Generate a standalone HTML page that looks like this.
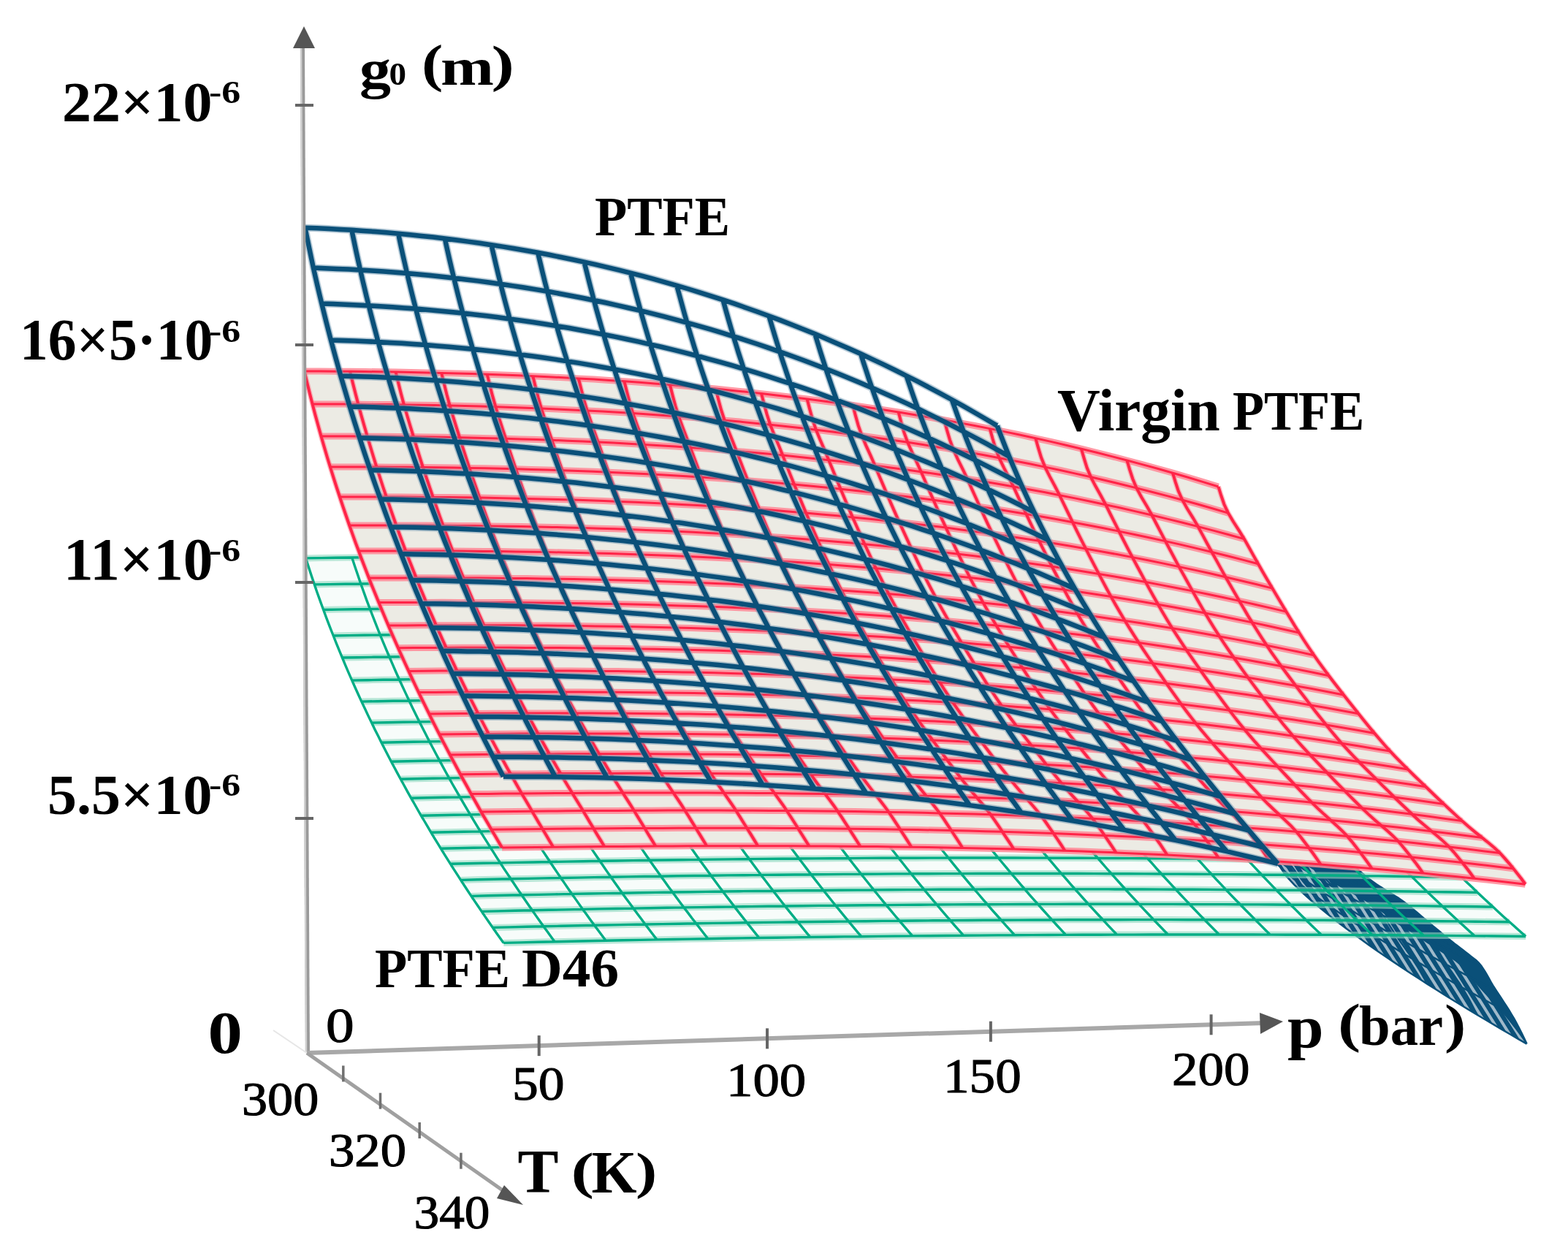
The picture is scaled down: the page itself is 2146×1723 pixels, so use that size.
<!DOCTYPE html>
<html><head><meta charset="utf-8"><title>g0 surfaces</title>
<style>html,body{margin:0;padding:0;background:#fff;} svg{display:block;}</style></head>
<body>
<svg xmlns="http://www.w3.org/2000/svg" width="2146" height="1723" viewBox="0 0 2146 1723">
<rect width="2146" height="1723" fill="#fff"/>
<path d="M418.4 763.9 439.5 763.6 460.6 763.3 481.7 763.0 502.8 762.8 523.9 762.6 544.9 762.4 566.0 762.2 587.1 762.1 608.2 762.0 629.3 761.9 650.4 761.9 671.4 761.9 692.5 761.9 713.6 761.9 734.7 762.0 755.8 762.1 776.9 762.2 797.9 762.3 819.0 762.5 840.1 762.7 861.2 763.0 882.3 763.2 903.4 763.5 924.4 763.8 945.5 764.1 966.6 764.5 987.7 764.9 1008.8 765.3 1029.9 765.8 1050.9 766.2 1072.0 766.7 1093.1 767.3 1114.2 767.8 1135.3 768.4 1156.4 769.0 1177.4 769.6 1198.5 770.3 1219.6 771.0 1240.7 771.7 1261.8 772.5 1282.9 773.2 1303.9 774.0 1325.0 774.9 1346.1 775.7 1367.2 776.6 1388.3 777.5 1409.4 778.4 1430.4 779.4 1451.5 780.4 1472.6 781.4 1493.7 782.4 1514.8 783.5 1535.9 784.6 1556.9 785.7 1578.0 786.9 1599.1 788.1 1620.2 789.3 1641.3 790.5 1662.4 791.8 1683.4 793.1 1683.4 793.1 1689.5 804.5 1695.4 815.4 1701.2 826.0 1707.0 836.4 1713.1 846.8 1719.5 857.6 1726.3 868.6 1733.2 879.6 1739.8 890.1 1746.0 899.7 1752.0 908.7 1758.1 917.8 1764.6 927.2 1771.3 936.9 1778.0 946.4 1784.6 955.5 1791.1 964.3 1797.7 973.2 1804.5 982.2 1811.4 991.2 1818.3 1000.0 1825.0 1008.6 1831.6 1016.9 1838.3 1025.1 1845.0 1033.3 1851.8 1041.5 1858.3 1049.3 1864.7 1056.8 1871.0 1064.1 1877.5 1071.7 1884.6 1079.7 1891.8 1087.8 1899.1 1095.9 1906.1 1103.6 1912.9 1111.0 1919.6 1118.3 1926.4 1125.5 1933.2 1132.7 1939.9 1139.8 1946.7 1146.8 1953.4 1153.7 1959.9 1160.4 1966.4 1167.0 1972.9 1173.5 1979.5 1180.1 1986.4 1186.9 1993.4 1193.8 2000.6 1200.8 2007.8 1207.7 2015.1 1214.6 2022.2 1221.4 2029.2 1228.0 2036.2 1234.5 2043.3 1241.1 2050.7 1247.9 2058.3 1254.9 2066.0 1261.8 2073.6 1268.6 2081.1 1275.2 2088.2 1281.5 2088.2 1281.5 2064.9 1281.3 2041.5 1281.0 2018.2 1280.8 1994.9 1280.6 1971.6 1280.4 1948.3 1280.2 1925.0 1280.0 1901.6 1279.8 1878.3 1279.7 1855.0 1279.6 1831.7 1279.4 1808.4 1279.3 1785.1 1279.2 1761.7 1279.2 1738.4 1279.1 1715.1 1279.0 1691.8 1279.0 1668.5 1279.0 1645.2 1279.0 1621.8 1279.0 1598.5 1279.0 1575.2 1279.0 1551.9 1279.1 1528.6 1279.1 1505.3 1279.2 1481.9 1279.3 1458.6 1279.4 1435.3 1279.5 1412.0 1279.6 1388.7 1279.8 1365.4 1279.9 1342.0 1280.1 1318.7 1280.3 1295.4 1280.5 1272.1 1280.7 1248.8 1280.9 1225.5 1281.1 1202.1 1281.4 1178.8 1281.7 1155.5 1281.9 1132.2 1282.2 1108.9 1282.5 1085.6 1282.9 1062.2 1283.2 1038.9 1283.5 1015.6 1283.9 992.3 1284.3 969.0 1284.7 945.7 1285.1 922.3 1285.5 899.0 1285.9 875.7 1286.4 852.4 1286.8 829.1 1287.3 805.8 1287.8 782.4 1288.3 759.1 1288.8 735.8 1289.3 712.5 1289.9 689.2 1290.4 689.2 1290.4 684.4 1283.7 679.4 1276.7 674.4 1269.4 669.2 1262.0 664.1 1254.6 659.2 1247.4 654.4 1240.3 649.7 1233.4 645.0 1226.4 640.3 1219.2 635.4 1211.8 630.6 1204.4 625.8 1196.9 621.1 1189.6 616.5 1182.3 612.1 1175.3 607.7 1168.3 603.4 1161.3 599.0 1154.1 594.5 1146.8 590.0 1139.3 585.5 1131.7 581.0 1124.0 576.4 1116.3 571.9 1108.5 567.4 1100.5 562.7 1092.3 557.8 1083.6 553.0 1074.8 548.3 1066.2 543.9 1058.1 539.7 1050.2 535.4 1042.2 531.0 1033.8 526.5 1025.0 522.0 1016.2 517.6 1007.3 513.1 998.4 508.6 989.1 504.0 979.6 499.4 969.8 494.8 960.1 490.4 950.5 486.1 941.0 481.7 931.1 477.2 920.8 472.7 910.3 468.4 900.0 464.3 890.2 460.3 880.4 456.2 870.0 451.7 858.6 447.1 846.6 442.6 834.5 438.3 822.7 434.2 811.3 430.3 799.9 426.4 788.4 422.5 776.4 418.4 763.9Z" fill="#f7fcfa"/>
<defs><pattern id="hatch" width="10" height="10" patternUnits="userSpaceOnUse" patternTransform="rotate(-32)"><rect x="0" y="0" width="4" height="10" fill="#b9cbd8"/></pattern><clipPath id="tailclip"><path d="M1364.7 582.6 1369.4 598.0 1374.3 609.3 1379.2 619.5 1384.1 629.0 1389.1 638.1 1394.0 646.7 1399.0 655.1 1403.9 663.3 1408.9 671.2 1413.9 678.9 1418.8 686.5 1423.8 694.0 1428.8 701.3 1433.7 708.6 1438.7 715.7 1443.7 722.7 1448.7 729.6 1453.6 736.4 1458.6 743.2 1463.6 749.9 1468.6 756.5 1473.5 763.1 1478.5 769.6 1483.5 776.0 1488.5 782.4 1493.5 788.8 1498.4 795.0 1503.4 801.3 1508.4 807.5 1513.3 813.6 1518.3 819.7 1523.3 825.8 1528.3 831.8 1533.2 837.8 1538.2 843.8 1543.2 849.7 1548.1 855.6 1553.1 861.4 1558.1 867.2 1563.0 873.0 1568.0 878.8 1573.0 884.5 1577.9 890.2 1582.9 895.9 1587.8 901.5 1592.8 907.2 1597.8 912.8 1602.7 918.3 1607.7 923.9 1612.6 929.4 1617.6 934.9 1622.5 940.4 1627.5 945.9 1632.4 951.3 1637.4 956.7 1642.3 962.1 1647.3 967.5 1652.2 972.9 1657.1 978.2 1662.1 983.5 1662.1 983.5 1668.6 992.1 1674.8 1000.1 1680.8 1007.9 1686.9 1015.5 1693.0 1022.9 1699.2 1030.5 1705.8 1038.1 1712.6 1045.9 1719.6 1053.7 1726.9 1061.6 1734.2 1069.4 1741.2 1077.0 1747.9 1084.1 1754.4 1091.0 1761.0 1097.9 1767.9 1104.9 1775.0 1112.1 1782.5 1119.4 1790.2 1126.8 1798.0 1134.2 1805.7 1141.4 1813.2 1148.5 1820.6 1155.4 1827.9 1162.2 1835.3 1168.9 1842.7 1175.6 1850.0 1182.2 1857.5 1188.8 1864.9 1195.4 1872.5 1201.8 1880.2 1207.5 1887.9 1212.7 1895.4 1217.5 1902.5 1221.8 1909.5 1226.2 1916.5 1230.8 1923.8 1236.0 1931.3 1241.9 1938.8 1248.2 1946.3 1254.6 1953.7 1260.8 1961.1 1267.1 1968.5 1273.3 1975.8 1279.4 1983.3 1285.4 1990.8 1291.4 1998.4 1297.2 2005.8 1303.0 2013.1 1308.7 2020.3 1314.3 2027.3 1321.7 2034.1 1332.4 2040.9 1344.5 2047.8 1355.7 2054.8 1366.3 2061.8 1377.0 2068.8 1388.3 2075.8 1400.5 2082.7 1414.1 2089.6 1428.6 2089.6 1428.6 2083.9 1425.4 2078.2 1422.1 2072.6 1418.8 2066.9 1415.5 2061.2 1412.2 2055.5 1408.9 2049.9 1405.6 2044.2 1402.2 2038.5 1398.9 2032.9 1395.5 2027.2 1392.1 2021.5 1388.7 2015.8 1385.3 2010.2 1381.9 2004.5 1378.4 1998.8 1375.0 1993.1 1371.5 1987.4 1368.0 1981.8 1364.5 1976.1 1360.9 1970.4 1357.4 1964.7 1353.8 1959.0 1350.2 1953.4 1346.6 1947.7 1343.0 1942.0 1339.3 1936.3 1335.7 1930.6 1332.0 1924.9 1328.2 1919.2 1324.5 1913.6 1320.7 1907.9 1316.9 1902.2 1313.1 1896.5 1309.2 1890.8 1305.3 1885.1 1301.4 1879.4 1297.4 1873.7 1293.4 1868.0 1289.4 1862.4 1285.3 1856.7 1281.2 1851.0 1277.1 1845.3 1272.8 1839.6 1268.6 1833.9 1264.3 1828.2 1259.9 1822.5 1255.4 1816.8 1250.9 1811.2 1246.3 1805.5 1241.6 1799.8 1236.9 1794.1 1232.0 1788.4 1226.9 1782.8 1221.8 1777.1 1216.4 1771.4 1210.8 1765.8 1204.9 1760.1 1198.6 1754.5 1191.6 1749.0 1182.1 1749.0 1182.1 1742.4 1174.6 1735.8 1167.1 1729.2 1159.5 1722.6 1151.9 1716.1 1144.3 1709.5 1136.6 1703.1 1129.0 1696.7 1121.4 1690.3 1113.8 1683.9 1106.1 1677.5 1098.2 1670.9 1090.2 1664.2 1082.0 1657.4 1073.7 1650.6 1065.2 1643.9 1056.8 1637.3 1048.4 1630.6 1039.9 1624.0 1031.3 1617.3 1022.7 1610.6 1013.8 1603.8 1004.9 1597.1 995.9 1590.6 987.1 1584.4 978.5 1578.2 969.9 1571.9 961.1 1565.2 951.7 1558.4 942.0 1551.5 932.1 1544.7 922.3 1538.0 912.4 1531.4 902.5 1524.8 892.5 1518.2 882.4 1511.6 872.2 1505.1 861.8 1498.5 851.3 1491.8 840.4 1484.9 829.1 1477.9 817.4 1471.1 805.8 1464.4 794.2 1458.1 783.0 1452.0 771.9 1446.1 761.2 1440.4 750.3 1434.4 738.9 1428.2 726.8 1421.7 714.0 1415.3 700.9 1409.0 687.9 1403.0 675.0 1397.3 662.3 1391.8 649.8 1386.4 637.3 1381.1 624.6 1375.8 611.4 1370.4 597.5 1364.7 582.6Z"/></clipPath></defs>
<path d="M1364.7 582.6 1369.4 598.0 1374.3 609.3 1379.2 619.5 1384.1 629.0 1389.1 638.1 1394.0 646.7 1399.0 655.1 1403.9 663.3 1408.9 671.2 1413.9 678.9 1418.8 686.5 1423.8 694.0 1428.8 701.3 1433.7 708.6 1438.7 715.7 1443.7 722.7 1448.7 729.6 1453.6 736.4 1458.6 743.2 1463.6 749.9 1468.6 756.5 1473.5 763.1 1478.5 769.6 1483.5 776.0 1488.5 782.4 1493.5 788.8 1498.4 795.0 1503.4 801.3 1508.4 807.5 1513.3 813.6 1518.3 819.7 1523.3 825.8 1528.3 831.8 1533.2 837.8 1538.2 843.8 1543.2 849.7 1548.1 855.6 1553.1 861.4 1558.1 867.2 1563.0 873.0 1568.0 878.8 1573.0 884.5 1577.9 890.2 1582.9 895.9 1587.8 901.5 1592.8 907.2 1597.8 912.8 1602.7 918.3 1607.7 923.9 1612.6 929.4 1617.6 934.9 1622.5 940.4 1627.5 945.9 1632.4 951.3 1637.4 956.7 1642.3 962.1 1647.3 967.5 1652.2 972.9 1657.1 978.2 1662.1 983.5 1662.1 983.5 1668.6 992.1 1674.8 1000.1 1680.8 1007.9 1686.9 1015.5 1693.0 1022.9 1699.2 1030.5 1705.8 1038.1 1712.6 1045.9 1719.6 1053.7 1726.9 1061.6 1734.2 1069.4 1741.2 1077.0 1747.9 1084.1 1754.4 1091.0 1761.0 1097.9 1767.9 1104.9 1775.0 1112.1 1782.5 1119.4 1790.2 1126.8 1798.0 1134.2 1805.7 1141.4 1813.2 1148.5 1820.6 1155.4 1827.9 1162.2 1835.3 1168.9 1842.7 1175.6 1850.0 1182.2 1857.5 1188.8 1864.9 1195.4 1872.5 1201.8 1880.2 1207.5 1887.9 1212.7 1895.4 1217.5 1902.5 1221.8 1909.5 1226.2 1916.5 1230.8 1923.8 1236.0 1931.3 1241.9 1938.8 1248.2 1946.3 1254.6 1953.7 1260.8 1961.1 1267.1 1968.5 1273.3 1975.8 1279.4 1983.3 1285.4 1990.8 1291.4 1998.4 1297.2 2005.8 1303.0 2013.1 1308.7 2020.3 1314.3 2027.3 1321.7 2034.1 1332.4 2040.9 1344.5 2047.8 1355.7 2054.8 1366.3 2061.8 1377.0 2068.8 1388.3 2075.8 1400.5 2082.7 1414.1 2089.6 1428.6 2089.6 1428.6 2083.9 1425.4 2078.2 1422.1 2072.6 1418.8 2066.9 1415.5 2061.2 1412.2 2055.5 1408.9 2049.9 1405.6 2044.2 1402.2 2038.5 1398.9 2032.9 1395.5 2027.2 1392.1 2021.5 1388.7 2015.8 1385.3 2010.2 1381.9 2004.5 1378.4 1998.8 1375.0 1993.1 1371.5 1987.4 1368.0 1981.8 1364.5 1976.1 1360.9 1970.4 1357.4 1964.7 1353.8 1959.0 1350.2 1953.4 1346.6 1947.7 1343.0 1942.0 1339.3 1936.3 1335.7 1930.6 1332.0 1924.9 1328.2 1919.2 1324.5 1913.6 1320.7 1907.9 1316.9 1902.2 1313.1 1896.5 1309.2 1890.8 1305.3 1885.1 1301.4 1879.4 1297.4 1873.7 1293.4 1868.0 1289.4 1862.4 1285.3 1856.7 1281.2 1851.0 1277.1 1845.3 1272.8 1839.6 1268.6 1833.9 1264.3 1828.2 1259.9 1822.5 1255.4 1816.8 1250.9 1811.2 1246.3 1805.5 1241.6 1799.8 1236.9 1794.1 1232.0 1788.4 1226.9 1782.8 1221.8 1777.1 1216.4 1771.4 1210.8 1765.8 1204.9 1760.1 1198.6 1754.5 1191.6 1749.0 1182.1 1749.0 1182.1 1742.4 1174.6 1735.8 1167.1 1729.2 1159.5 1722.6 1151.9 1716.1 1144.3 1709.5 1136.6 1703.1 1129.0 1696.7 1121.4 1690.3 1113.8 1683.9 1106.1 1677.5 1098.2 1670.9 1090.2 1664.2 1082.0 1657.4 1073.7 1650.6 1065.2 1643.9 1056.8 1637.3 1048.4 1630.6 1039.9 1624.0 1031.3 1617.3 1022.7 1610.6 1013.8 1603.8 1004.9 1597.1 995.9 1590.6 987.1 1584.4 978.5 1578.2 969.9 1571.9 961.1 1565.2 951.7 1558.4 942.0 1551.5 932.1 1544.7 922.3 1538.0 912.4 1531.4 902.5 1524.8 892.5 1518.2 882.4 1511.6 872.2 1505.1 861.8 1498.5 851.3 1491.8 840.4 1484.9 829.1 1477.9 817.4 1471.1 805.8 1464.4 794.2 1458.1 783.0 1452.0 771.9 1446.1 761.2 1440.4 750.3 1434.4 738.9 1428.2 726.8 1421.7 714.0 1415.3 700.9 1409.0 687.9 1403.0 675.0 1397.3 662.3 1391.8 649.8 1386.4 637.3 1381.1 624.6 1375.8 611.4 1370.4 597.5 1364.7 582.6Z" fill="#0a5079"/>
<path d="M1364.7 582.6 1369.4 598.0 1374.3 609.3 1379.2 619.5 1384.1 629.0 1389.1 638.1 1394.0 646.7 1399.0 655.1 1403.9 663.3 1408.9 671.2 1413.9 678.9 1418.8 686.5 1423.8 694.0 1428.8 701.3 1433.7 708.6 1438.7 715.7 1443.7 722.7 1448.7 729.6 1453.6 736.4 1458.6 743.2 1463.6 749.9 1468.6 756.5 1473.5 763.1 1478.5 769.6 1483.5 776.0 1488.5 782.4 1493.5 788.8 1498.4 795.0 1503.4 801.3 1508.4 807.5 1513.3 813.6 1518.3 819.7 1523.3 825.8 1528.3 831.8 1533.2 837.8 1538.2 843.8 1543.2 849.7 1548.1 855.6 1553.1 861.4 1558.1 867.2 1563.0 873.0 1568.0 878.8 1573.0 884.5 1577.9 890.2 1582.9 895.9 1587.8 901.5 1592.8 907.2 1597.8 912.8 1602.7 918.3 1607.7 923.9 1612.6 929.4 1617.6 934.9 1622.5 940.4 1627.5 945.9 1632.4 951.3 1637.4 956.7 1642.3 962.1 1647.3 967.5 1652.2 972.9 1657.1 978.2 1662.1 983.5 1662.1 983.5 1668.6 992.1 1674.8 1000.1 1680.8 1007.9 1686.9 1015.5 1693.0 1022.9 1699.2 1030.5 1705.8 1038.1 1712.6 1045.9 1719.6 1053.7 1726.9 1061.6 1734.2 1069.4 1741.2 1077.0 1747.9 1084.1 1754.4 1091.0 1761.0 1097.9 1767.9 1104.9 1775.0 1112.1 1782.5 1119.4 1790.2 1126.8 1798.0 1134.2 1805.7 1141.4 1813.2 1148.5 1820.6 1155.4 1827.9 1162.2 1835.3 1168.9 1842.7 1175.6 1850.0 1182.2 1857.5 1188.8 1864.9 1195.4 1872.5 1201.8 1880.2 1207.5 1887.9 1212.7 1895.4 1217.5 1902.5 1221.8 1909.5 1226.2 1916.5 1230.8 1923.8 1236.0 1931.3 1241.9 1938.8 1248.2 1946.3 1254.6 1953.7 1260.8 1961.1 1267.1 1968.5 1273.3 1975.8 1279.4 1983.3 1285.4 1990.8 1291.4 1998.4 1297.2 2005.8 1303.0 2013.1 1308.7 2020.3 1314.3 2027.3 1321.7 2034.1 1332.4 2040.9 1344.5 2047.8 1355.7 2054.8 1366.3 2061.8 1377.0 2068.8 1388.3 2075.8 1400.5 2082.7 1414.1 2089.6 1428.6 2089.6 1428.6 2083.9 1425.4 2078.2 1422.1 2072.6 1418.8 2066.9 1415.5 2061.2 1412.2 2055.5 1408.9 2049.9 1405.6 2044.2 1402.2 2038.5 1398.9 2032.9 1395.5 2027.2 1392.1 2021.5 1388.7 2015.8 1385.3 2010.2 1381.9 2004.5 1378.4 1998.8 1375.0 1993.1 1371.5 1987.4 1368.0 1981.8 1364.5 1976.1 1360.9 1970.4 1357.4 1964.7 1353.8 1959.0 1350.2 1953.4 1346.6 1947.7 1343.0 1942.0 1339.3 1936.3 1335.7 1930.6 1332.0 1924.9 1328.2 1919.2 1324.5 1913.6 1320.7 1907.9 1316.9 1902.2 1313.1 1896.5 1309.2 1890.8 1305.3 1885.1 1301.4 1879.4 1297.4 1873.7 1293.4 1868.0 1289.4 1862.4 1285.3 1856.7 1281.2 1851.0 1277.1 1845.3 1272.8 1839.6 1268.6 1833.9 1264.3 1828.2 1259.9 1822.5 1255.4 1816.8 1250.9 1811.2 1246.3 1805.5 1241.6 1799.8 1236.9 1794.1 1232.0 1788.4 1226.9 1782.8 1221.8 1777.1 1216.4 1771.4 1210.8 1765.8 1204.9 1760.1 1198.6 1754.5 1191.6 1749.0 1182.1 1749.0 1182.1 1742.4 1174.6 1735.8 1167.1 1729.2 1159.5 1722.6 1151.9 1716.1 1144.3 1709.5 1136.6 1703.1 1129.0 1696.7 1121.4 1690.3 1113.8 1683.9 1106.1 1677.5 1098.2 1670.9 1090.2 1664.2 1082.0 1657.4 1073.7 1650.6 1065.2 1643.9 1056.8 1637.3 1048.4 1630.6 1039.9 1624.0 1031.3 1617.3 1022.7 1610.6 1013.8 1603.8 1004.9 1597.1 995.9 1590.6 987.1 1584.4 978.5 1578.2 969.9 1571.9 961.1 1565.2 951.7 1558.4 942.0 1551.5 932.1 1544.7 922.3 1538.0 912.4 1531.4 902.5 1524.8 892.5 1518.2 882.4 1511.6 872.2 1505.1 861.8 1498.5 851.3 1491.8 840.4 1484.9 829.1 1477.9 817.4 1471.1 805.8 1464.4 794.2 1458.1 783.0 1452.0 771.9 1446.1 761.2 1440.4 750.3 1434.4 738.9 1428.2 726.8 1421.7 714.0 1415.3 700.9 1409.0 687.9 1403.0 675.0 1397.3 662.3 1391.8 649.8 1386.4 637.3 1381.1 624.6 1375.8 611.4 1370.4 597.5 1364.7 582.6Z" fill="url(#hatch)" opacity="0.85"/>
<path d="M1782.5 1119.4 1787.8 1124.6 1793.3 1129.7 1798.8 1134.9 1804.2 1140.0 1809.5 1145.0 1814.7 1149.9 1819.9 1154.7 1825.0 1159.4 1830.1 1164.2 1835.3 1168.9 1840.4 1173.6 1845.6 1178.2 1850.8 1182.9 1856.0 1187.5 1861.2 1192.1 1866.4 1196.7 1871.7 1201.2 1877.1 1205.3 1882.5 1209.2 1887.9 1212.7 1893.2 1216.1 1898.3 1219.2 1903.2 1222.3 1908.1 1225.3 1913.0 1228.4 1917.9 1231.8 1923.1 1235.5 1928.3 1239.5 1933.6 1243.8 1938.8 1248.2 1944.1 1252.7 1949.3 1257.1 1954.4 1261.5 1959.6 1265.8 1964.8 1270.2 1969.9 1274.5 1975.1 1278.8 1980.3 1283.0 1985.5 1287.2 1990.8 1291.4 1996.1 1295.5 2001.4 1299.5 2006.5 1303.6 2011.7 1307.5 2016.7 1311.5 2021.7 1315.5 2026.6 1320.8 2031.4 1327.9 2036.2 1336.0 2040.9 1344.5 2045.7 1352.5 2050.6 1360.0 2055.5 1367.4 2060.4 1374.8 2065.3 1382.5 2070.2 1390.6 2075.1 1399.2 2080.0 1408.5 2084.8 1418.4 2089.6 1428.6 2088.7 1428.6 2081.4 1418.4 2074.1 1408.5 2066.9 1399.2 2059.9 1390.6 2052.9 1382.5 2046.0 1374.8 2039.1 1367.4 2032.2 1360.0 2025.4 1352.5 2018.5 1344.5 2011.5 1336.0 2004.6 1327.9 1997.9 1320.8 1991.6 1315.5 1985.5 1311.5 1979.4 1307.5 1973.3 1303.6 1967.0 1299.5 1960.7 1295.5 1954.3 1291.4 1948.0 1287.2 1941.6 1283.0 1935.3 1278.8 1929.0 1274.5 1922.7 1270.2 1916.4 1265.8 1910.1 1261.5 1903.8 1257.1 1897.4 1252.7 1891.0 1248.2 1884.6 1243.8 1878.2 1239.5 1872.1 1235.5 1866.1 1231.8 1860.4 1228.4 1854.8 1225.3 1849.3 1222.3 1843.7 1219.2 1837.9 1216.1 1831.9 1212.7 1825.7 1209.2 1819.4 1205.3 1813.1 1201.2 1806.8 1196.7 1800.5 1192.1 1794.3 1187.5 1788.1 1182.9 1781.9 1178.2 1775.7 1173.6 1769.5 1168.9 1763.3 1164.2 1757.1 1159.4 1750.9 1154.7 1744.7 1149.9 1739.5 1145.0 1734.2 1140.0 1728.8 1134.9 1723.3 1129.7 1717.8 1124.6 1712.5 1119.4Z" fill="#0a5079" clip-path="url(#tailclip)"/>
<path d="M1364.7 582.6 1374.3 609.3 1384.1 629.0 1394.0 646.7 1403.9 663.3 1413.9 678.9 1423.8 694.0 1433.7 708.6 1443.7 722.7 1453.6 736.4 1463.6 749.9 1473.5 763.1 1483.5 776.0 1493.5 788.8 1503.4 801.3 1513.3 813.6 1523.3 825.8 1533.2 837.8 1543.2 849.7 1553.1 861.4 1563.0 873.0 1573.0 884.5 1582.9 895.9 1592.8 907.2 1602.7 918.3 1612.6 929.4 1622.5 940.4 1632.4 951.3 1642.3 962.1 1652.2 972.9 1662.1 983.5 M1381.1 624.6 1390.8 650.1 1400.7 669.0 1410.7 685.9 1420.7 701.7 1430.7 716.7 1440.7 731.1 1450.7 745.0 1460.7 758.5 1470.8 771.7 1480.8 784.6 1490.8 797.2 1500.9 809.5 1510.9 821.7 1520.9 833.7 1530.9 845.5 1541.0 857.1 1551.0 868.6 1561.0 879.9 1571.0 891.2 1581.0 902.3 1591.0 913.3 1601.0 924.1 1611.0 934.9 1621.0 945.6 1631.0 956.2 1641.0 966.7 1650.9 977.1 1660.9 987.4 1670.9 997.7 1680.8 1007.9 M1397.3 662.3 1407.1 686.9 1417.0 705.0 1427.1 721.2 1437.1 736.4 1447.2 750.8 1457.3 764.7 1467.4 778.0 1477.5 791.0 1487.6 803.6 1497.7 816.0 1507.8 828.1 1517.9 840.0 1528.0 851.7 1538.1 863.2 1548.2 874.5 1558.3 885.7 1568.4 896.7 1578.5 907.6 1588.6 918.4 1598.6 929.0 1608.7 939.6 1618.8 950.0 1628.9 960.4 1638.9 970.6 1649.0 980.8 1659.0 990.9 1669.1 1000.9 1679.1 1010.8 1689.2 1020.7 1699.2 1030.5 M1415.3 700.9 1425.2 724.5 1435.2 741.8 1445.3 757.4 1455.5 772.0 1465.6 785.8 1475.8 799.0 1486.0 811.8 1496.2 824.3 1506.3 836.4 1516.5 848.2 1526.7 859.8 1536.9 871.2 1547.1 882.4 1557.2 893.4 1567.4 904.3 1577.6 915.0 1587.8 925.6 1597.9 936.0 1608.1 946.3 1618.3 956.6 1628.4 966.7 1638.6 976.7 1648.7 986.6 1658.9 996.4 1669.0 1006.2 1679.1 1015.8 1689.3 1025.4 1699.4 1034.9 1709.5 1044.4 1719.6 1053.7 M1434.4 738.9 1444.4 761.5 1454.5 778.2 1464.7 793.1 1475.0 807.0 1485.2 820.3 1495.5 833.0 1505.7 845.2 1516.0 857.2 1526.2 868.8 1536.5 880.1 1546.8 891.2 1557.0 902.1 1567.3 912.9 1577.5 923.4 1587.8 933.8 1598.0 944.1 1608.3 954.2 1618.5 964.2 1628.8 974.1 1639.0 983.9 1649.3 993.6 1659.5 1003.2 1669.7 1012.7 1680.0 1022.1 1690.2 1031.4 1700.4 1040.7 1710.6 1049.8 1720.8 1058.9 1731.0 1068.0 1741.2 1077.0 M1452.0 771.9 1462.0 793.7 1472.3 809.8 1482.5 824.2 1492.8 837.6 1503.1 850.4 1513.5 862.6 1523.8 874.5 1534.1 886.0 1544.5 897.2 1554.8 908.1 1565.1 918.8 1575.5 929.3 1585.8 939.7 1596.1 949.9 1606.5 959.9 1616.8 969.8 1627.1 979.5 1637.4 989.2 1647.7 998.7 1658.1 1008.1 1668.4 1017.5 1678.7 1026.7 1689.0 1035.9 1699.3 1045.0 1709.6 1053.9 1719.9 1062.9 1730.2 1071.7 1740.5 1080.5 1750.7 1089.2 1761.0 1097.9 M1471.1 805.8 1481.2 826.7 1491.5 842.2 1501.9 856.1 1512.3 869.0 1522.6 881.3 1533.0 893.1 1543.5 904.5 1553.9 915.5 1564.3 926.3 1574.7 936.8 1585.1 947.1 1595.5 957.3 1605.9 967.2 1616.3 977.0 1626.7 986.6 1637.1 996.2 1647.5 1005.5 1657.9 1014.8 1668.3 1024.0 1678.7 1033.1 1689.1 1042.0 1699.5 1050.9 1709.9 1059.7 1720.3 1068.5 1730.6 1077.1 1741.0 1085.7 1751.4 1094.2 1761.8 1102.7 1772.1 1111.1 1782.5 1119.4 M1491.8 840.4 1502.0 860.5 1512.4 875.4 1522.9 888.7 1533.3 901.1 1543.8 912.9 1554.3 924.2 1564.8 935.2 1575.3 945.8 1585.8 956.1 1596.2 966.2 1606.7 976.1 1617.2 985.8 1627.7 995.4 1638.2 1004.8 1648.7 1014.1 1659.2 1023.2 1669.7 1032.2 1680.2 1041.1 1690.7 1049.9 1701.1 1058.6 1711.6 1067.2 1722.1 1075.8 1732.5 1084.2 1743.0 1092.6 1753.5 1100.9 1763.9 1109.1 1774.4 1117.3 1784.8 1125.4 1795.3 1133.4 1805.7 1141.4 M1511.6 872.2 1522.0 891.6 1532.4 905.9 1543.0 918.7 1553.5 930.7 1564.1 942.1 1574.6 953.0 1585.2 963.5 1595.8 973.7 1606.3 983.7 1616.9 993.4 1627.5 1002.9 1638.0 1012.3 1648.6 1021.5 1659.2 1030.6 1669.8 1039.5 1680.3 1048.3 1690.9 1057.0 1701.5 1065.5 1712.0 1074.0 1722.6 1082.4 1733.1 1090.7 1743.7 1098.9 1754.2 1107.0 1764.8 1115.1 1775.3 1123.1 1785.8 1131.0 1796.4 1138.9 1806.9 1146.7 1817.4 1154.5 1827.9 1162.2 M1531.4 902.5 1541.8 921.2 1552.4 935.0 1563.0 947.4 1573.6 959.0 1584.2 969.9 1594.9 980.5 1605.5 990.6 1616.2 1000.5 1626.8 1010.1 1637.5 1019.5 1648.1 1028.7 1658.8 1037.7 1669.4 1046.6 1680.0 1055.3 1690.7 1063.9 1701.3 1072.4 1712.0 1080.8 1722.6 1089.0 1733.3 1097.2 1743.9 1105.3 1754.5 1113.3 1765.1 1121.2 1775.8 1129.1 1786.4 1136.9 1797.0 1144.6 1807.6 1152.2 1818.2 1159.8 1828.8 1167.3 1839.4 1174.8 1850.0 1182.2 M1551.5 932.1 1562.0 950.2 1572.6 963.5 1583.3 975.5 1594.0 986.6 1604.7 997.2 1615.4 1007.3 1626.2 1017.1 1636.9 1026.6 1647.6 1035.9 1658.3 1045.0 1669.1 1053.8 1679.8 1062.5 1690.5 1071.1 1701.2 1079.5 1712.0 1087.8 1722.7 1096.0 1733.4 1104.0 1744.1 1112.0 1754.8 1119.9 1765.6 1127.7 1776.3 1135.4 1787.0 1143.0 1797.7 1150.6 1808.4 1158.1 1819.1 1165.5 1829.8 1172.9 1840.5 1180.2 1851.1 1187.5 1861.8 1194.7 1872.5 1201.8 M1571.9 961.1 1582.4 978.3 1593.2 990.9 1603.9 1002.3 1614.7 1012.9 1625.5 1023.0 1636.3 1032.6 1647.1 1041.9 1657.9 1051.0 1668.7 1059.8 1679.5 1068.4 1690.4 1076.8 1701.2 1085.1 1712.0 1093.2 1722.8 1101.2 1733.6 1109.1 1744.4 1116.9 1755.2 1124.5 1766.0 1132.1 1776.8 1139.6 1787.6 1147.0 1798.4 1154.3 1809.2 1161.6 1820.0 1168.8 1830.8 1175.9 1841.5 1183.0 1852.3 1190.0 1863.1 1196.9 1873.9 1203.8 1884.6 1210.7 1895.4 1217.5 M1590.6 987.1 1601.3 1003.5 1612.1 1015.5 1622.9 1026.3 1633.8 1036.4 1644.7 1046.0 1655.5 1055.1 1666.4 1064.0 1677.3 1072.6 1688.2 1081.0 1699.1 1089.1 1710.0 1097.2 1720.9 1105.0 1731.8 1112.7 1742.6 1120.4 1753.5 1127.8 1764.4 1135.2 1775.3 1142.5 1786.2 1149.7 1797.0 1156.8 1807.9 1163.9 1818.8 1170.8 1829.7 1177.7 1840.5 1184.6 1851.4 1191.3 1862.3 1198.1 1873.1 1204.7 1884.0 1211.3 1894.8 1217.9 1905.7 1224.4 1916.5 1230.8 M1610.6 1013.8 1621.4 1029.6 1632.2 1041.2 1643.2 1051.6 1654.1 1061.3 1665.1 1070.5 1676.0 1079.3 1687.0 1087.8 1697.9 1096.1 1708.9 1104.2 1719.9 1112.0 1730.8 1119.7 1741.8 1127.3 1752.8 1134.7 1763.7 1142.1 1774.7 1149.3 1785.7 1156.4 1796.6 1163.4 1807.6 1170.3 1818.5 1177.1 1829.5 1183.9 1840.4 1190.6 1851.4 1197.2 1862.3 1203.8 1873.2 1210.3 1884.2 1216.8 1895.1 1223.2 1906.1 1229.5 1917.0 1235.8 1927.9 1242.0 1938.8 1248.2 M1630.6 1039.9 1641.5 1055.2 1652.4 1066.4 1663.4 1076.5 1674.4 1085.9 1685.5 1094.8 1696.5 1103.4 1707.5 1111.6 1718.6 1119.7 1729.6 1127.5 1740.6 1135.1 1751.7 1142.6 1762.7 1149.9 1773.8 1157.1 1784.8 1164.2 1795.8 1171.2 1806.9 1178.0 1817.9 1184.8 1828.9 1191.5 1840.0 1198.2 1851.0 1204.7 1862.0 1211.2 1873.0 1217.6 1884.0 1224.0 1895.1 1230.3 1906.1 1236.6 1917.1 1242.8 1928.1 1248.9 1939.1 1255.0 1950.1 1261.1 1961.1 1267.1 M1650.6 1065.2 1661.5 1080.1 1672.6 1091.0 1683.7 1100.8 1694.7 1109.9 1705.8 1118.5 1716.9 1126.8 1728.0 1134.8 1739.2 1142.6 1750.3 1150.1 1761.4 1157.5 1772.5 1164.8 1783.6 1171.9 1794.7 1178.9 1805.8 1185.7 1816.9 1192.5 1828.0 1199.2 1839.2 1205.7 1850.3 1212.2 1861.4 1218.7 1872.5 1225.0 1883.6 1231.3 1894.6 1237.5 1905.7 1243.7 1916.8 1249.8 1927.9 1255.9 1939.0 1261.9 1950.1 1267.8 1961.2 1273.7 1972.2 1279.6 1983.3 1285.4 M1670.9 1090.2 1681.9 1104.6 1693.0 1115.1 1704.1 1124.6 1715.3 1133.4 1726.5 1141.7 1737.6 1149.8 1748.8 1157.5 1760.0 1165.0 1771.2 1172.3 1782.4 1179.5 1793.6 1186.4 1804.8 1193.3 1816.0 1200.0 1827.1 1206.7 1838.3 1213.2 1849.5 1219.7 1860.7 1226.0 1871.9 1232.3 1883.0 1238.5 1894.2 1244.6 1905.4 1250.7 1916.6 1256.7 1927.7 1262.7 1938.9 1268.6 1950.0 1274.4 1961.2 1280.2 1972.4 1286.0 1983.5 1291.7 1994.7 1297.4 2005.8 1303.0 M1690.3 1113.8 1701.4 1127.8 1712.6 1138.1 1723.8 1147.4 1735.0 1156.0 1746.3 1164.1 1757.5 1172.0 1768.7 1179.5 1780.0 1186.9 1791.3 1194.0 1802.5 1201.0 1813.8 1207.8 1825.0 1214.5 1836.3 1221.1 1847.5 1227.6 1858.8 1234.0 1870.0 1240.3 1881.3 1246.5 1892.5 1252.6 1903.8 1258.7 1915.0 1264.7 1926.3 1270.6 1937.5 1276.5 1948.7 1282.3 1960.0 1288.1 1971.2 1293.8 1982.4 1299.5 1993.6 1305.1 2004.9 1310.7 2016.1 1316.2 2027.3 1321.7 M1709.5 1136.6 1720.6 1151.4 1731.9 1162.3 1743.1 1172.0 1754.4 1181.1 1765.7 1189.7 1777.0 1197.9 1788.2 1205.9 1799.5 1213.6 1810.8 1221.1 1822.1 1228.5 1833.4 1235.7 1844.7 1242.8 1856.0 1249.7 1867.3 1256.5 1878.6 1263.3 1889.9 1269.9 1901.2 1276.5 1912.5 1282.9 1923.8 1289.3 1935.1 1295.6 1946.4 1301.9 1957.6 1308.1 1968.9 1314.2 1980.2 1320.3 1991.5 1326.3 2002.7 1332.3 2014.0 1338.2 2025.3 1344.1 2036.5 1349.9 2047.8 1355.7 M1729.2 1159.5 1740.3 1174.9 1751.6 1186.2 1762.9 1196.4 1774.2 1205.9 1785.6 1214.8 1796.9 1223.5 1808.2 1231.8 1819.6 1239.8 1830.9 1247.7 1842.3 1255.4 1853.6 1262.9 1865.0 1270.3 1876.3 1277.5 1887.7 1284.7 1899.0 1291.7 1910.3 1298.6 1921.7 1305.5 1933.0 1312.2 1944.3 1318.9 1955.7 1325.5 1967.0 1332.0 1978.3 1338.5 1989.6 1344.9 2001.0 1351.3 2012.3 1357.5 2023.6 1363.8 2034.9 1370.0 2046.2 1376.1 2057.5 1382.2 2068.8 1388.3 M1749.0 1182.1 1760.1 1198.6 1771.4 1210.8 1782.8 1221.8 1794.1 1232.0 1805.5 1241.6 1816.8 1250.9 1828.2 1259.9 1839.6 1268.6 1851.0 1277.1 1862.4 1285.3 1873.7 1293.4 1885.1 1301.4 1896.5 1309.2 1907.9 1316.9 1919.2 1324.5 1930.6 1332.0 1942.0 1339.3 1953.4 1346.6 1964.7 1353.8 1976.1 1360.9 1987.4 1368.0 1998.8 1375.0 2010.2 1381.9 2021.5 1388.7 2032.9 1395.5 2044.2 1402.2 2055.5 1408.9 2066.9 1415.5 2078.2 1422.1 2089.6 1428.6 M1364.7 582.6 1367.6 590.2 1370.4 597.5 1373.1 604.5 1375.8 611.4 1378.5 618.1 1381.1 624.6 1383.7 631.0 1386.4 637.3 1389.1 643.6 1391.8 649.8 1394.5 656.1 1397.3 662.3 1400.1 668.6 1403.0 675.0 1406.0 681.4 1409.0 687.9 1412.1 694.4 1415.3 700.9 1418.5 707.5 1421.7 714.0 1424.9 720.4 1428.2 726.8 1431.3 733.0 1434.4 738.9 1437.4 744.7 1440.4 750.3 1443.3 755.8 1446.1 761.2 1449.0 766.5 1452.0 771.9 1455.0 777.4 1458.1 783.0 1461.2 788.6 1464.4 794.2 1467.7 800.0 1471.1 805.8 1474.5 811.6 1477.9 817.4 1481.4 823.3 1484.9 829.1 1488.4 834.8 1491.8 840.4 1495.2 845.9 1498.5 851.3 1501.8 856.6 1505.1 861.8 1508.4 867.0 1511.6 872.2 1514.9 877.3 1518.2 882.4 1521.5 887.4 1524.8 892.5 1528.1 897.5 1531.4 902.5 1534.7 907.5 1538.0 912.4 1541.4 917.3 1544.7 922.3 1548.1 927.2 1551.5 932.1 1554.9 937.1 1558.4 942.0 1561.8 946.9 1565.2 951.7 1568.6 956.4 1571.9 961.1 1575.1 965.5 1578.2 969.9 1581.3 974.2 1584.4 978.5 1587.5 982.8 1590.6 987.1 1593.8 991.5 1597.1 995.9 1600.5 1000.4 1603.8 1004.9 1607.2 1009.4 1610.6 1013.8 1614.0 1018.3 1617.3 1022.7 1620.7 1027.0 1624.0 1031.3 1627.3 1035.6 1630.6 1039.9 1634.0 1044.2 1637.3 1048.4 1640.6 1052.6 1643.9 1056.8 1647.3 1061.0 1650.6 1065.2 1654.0 1069.5 1657.4 1073.7 1660.8 1077.9 1664.2 1082.0 1667.6 1086.2 1670.9 1090.2 1674.2 1094.3 1677.5 1098.2 1680.7 1102.2 1683.9 1106.1 1687.1 1109.9 1690.3 1113.8 1693.5 1117.6 1696.7 1121.4 1699.9 1125.2 1703.1 1129.0 1706.3 1132.8 1709.5 1136.6 1712.8 1140.4 1716.1 1144.3 1719.3 1148.1 1722.6 1151.9 1725.9 1155.7 1729.2 1159.5 1732.5 1163.3 1735.8 1167.1 1739.1 1170.9 1742.4 1174.6 1745.7 1178.3 1749.0 1182.1 M1423.8 694.0 1426.7 700.7 1429.6 707.1 1432.4 713.3 1435.2 719.4 1438.0 725.3 1440.7 731.1 1443.4 736.8 1446.1 742.4 1448.9 748.0 1451.6 753.5 1454.4 759.1 1457.3 764.7 1460.2 770.3 1463.2 776.0 1466.3 781.7 1469.4 787.4 1472.6 793.2 1475.8 799.0 1479.1 804.9 1482.4 810.7 1485.7 816.4 1489.0 822.1 1492.3 827.6 1495.5 833.0 1498.5 838.2 1501.6 843.2 1504.5 848.1 1507.5 853.0 1510.4 857.8 1513.5 862.6 1516.6 867.6 1519.7 872.6 1522.9 877.6 1526.2 882.7 1529.6 887.9 1533.0 893.1 1536.5 898.3 1540.1 903.6 1543.6 908.8 1547.2 914.0 1550.8 919.2 1554.3 924.2 1557.7 929.2 1561.2 934.1 1564.6 938.9 1567.9 943.6 1571.3 948.3 1574.6 953.0 1578.0 957.6 1581.3 962.2 1584.7 966.8 1588.1 971.4 1591.5 975.9 1594.9 980.5 1598.2 985.0 1601.6 989.5 1605.1 993.9 1608.5 998.4 1611.9 1002.9 1615.4 1007.3 1619.0 1011.7 1622.5 1016.1 1626.0 1020.3 1629.5 1024.5 1632.9 1028.6 1636.3 1032.6 1639.6 1036.5 1642.8 1040.2 1646.0 1043.9 1649.1 1047.6 1652.3 1051.3 1655.5 1055.1 1658.8 1059.0 1662.2 1063.0 1665.6 1067.0 1669.1 1071.1 1672.6 1075.2 1676.0 1079.3 1679.5 1083.4 1682.9 1087.5 1686.3 1091.5 1689.7 1095.5 1693.1 1099.4 1696.5 1103.4 1699.9 1107.3 1703.3 1111.2 1706.7 1115.1 1710.1 1119.0 1713.5 1122.9 1716.9 1126.8 1720.4 1130.7 1723.9 1134.5 1727.3 1138.4 1730.8 1142.2 1734.2 1146.0 1737.6 1149.8 1741.0 1153.5 1744.4 1157.1 1747.7 1160.7 1751.0 1164.4 1754.2 1168.0 1757.5 1172.0 1760.7 1176.1 1764.0 1180.5 1767.2 1184.9 1770.4 1189.3 1773.7 1193.7 1777.0 1197.9 1780.2 1202.1 1783.6 1206.4 1786.9 1210.6 1790.2 1214.8 1793.6 1219.1 1796.9 1223.5 1800.2 1227.8 1803.6 1232.3 1806.9 1236.9 1810.2 1241.5 1813.5 1246.2 1816.8 1250.9 M1483.5 776.0 1486.5 782.0 1489.5 787.8 1492.4 793.5 1495.2 799.0 1498.1 804.3 1500.9 809.5 1503.6 814.7 1506.4 819.8 1509.2 824.8 1512.1 829.9 1515.0 834.9 1517.9 840.0 1520.9 845.1 1524.0 850.3 1527.1 855.5 1530.3 860.7 1533.6 866.0 1536.9 871.2 1540.3 876.5 1543.7 881.8 1547.1 887.0 1550.4 892.2 1553.8 897.2 1557.0 902.1 1560.2 906.9 1563.3 911.5 1566.3 916.0 1569.3 920.4 1572.4 924.9 1575.5 929.3 1578.6 933.9 1581.9 938.4 1585.2 943.1 1588.5 947.8 1592.0 952.5 1595.5 957.3 1599.1 962.1 1602.7 966.9 1606.4 971.7 1610.0 976.5 1613.6 981.2 1617.2 985.8 1620.8 990.4 1624.3 994.9 1627.8 999.3 1631.2 1003.7 1634.6 1008.0 1638.0 1012.3 1641.5 1016.6 1644.9 1020.8 1648.4 1025.1 1651.8 1029.3 1655.3 1033.5 1658.8 1037.7 1662.2 1041.9 1665.7 1046.0 1669.2 1050.2 1672.7 1054.3 1676.2 1058.5 1679.8 1062.5 1683.4 1066.5 1687.0 1070.4 1690.6 1074.2 1694.2 1077.9 1697.7 1081.6 1701.2 1085.1 1704.5 1088.5 1707.8 1091.8 1711.1 1095.1 1714.3 1098.3 1717.6 1101.6 1720.9 1105.0 1724.3 1108.5 1727.7 1112.1 1731.2 1115.8 1734.7 1119.6 1738.3 1123.5 1741.8 1127.3 1745.3 1131.1 1748.8 1134.9 1752.3 1138.7 1755.8 1142.4 1759.3 1146.2 1762.7 1149.9 1766.2 1153.6 1769.7 1157.3 1773.1 1160.9 1776.6 1164.6 1780.1 1168.2 1783.6 1171.9 1787.1 1175.5 1790.7 1179.1 1794.2 1182.7 1797.8 1186.3 1801.3 1189.8 1804.8 1193.3 1808.2 1196.8 1811.6 1200.2 1815.0 1203.6 1818.4 1207.0 1821.7 1210.5 1825.0 1214.5 1828.3 1219.0 1831.6 1223.7 1834.9 1228.5 1838.1 1233.4 1841.4 1238.2 1844.7 1242.8 1848.1 1247.3 1851.4 1251.8 1854.8 1256.3 1858.2 1260.9 1861.6 1265.6 1865.0 1270.3 1868.4 1275.1 1871.7 1280.1 1875.1 1285.3 1878.5 1290.6 1881.8 1295.9 1885.1 1301.4 M1543.2 849.7 1546.3 855.1 1549.3 860.3 1552.3 865.4 1555.2 870.4 1558.1 875.2 1561.0 879.9 1563.8 884.6 1566.7 889.2 1569.6 893.8 1572.5 898.4 1575.5 903.0 1578.5 907.6 1581.6 912.2 1584.7 916.9 1587.9 921.7 1591.2 926.4 1594.5 931.2 1597.9 936.0 1601.4 940.8 1604.9 945.7 1608.3 950.4 1611.8 955.1 1615.2 959.7 1618.5 964.2 1621.8 968.6 1624.9 972.8 1628.1 976.9 1631.2 981.0 1634.3 985.1 1637.4 989.2 1640.7 993.3 1644.0 997.5 1647.4 1001.8 1650.8 1006.1 1654.3 1010.4 1657.9 1014.8 1661.6 1019.2 1665.3 1023.7 1669.0 1028.1 1672.8 1032.5 1676.5 1036.8 1680.2 1041.1 1683.8 1045.3 1687.4 1049.5 1690.9 1053.5 1694.4 1057.6 1698.0 1061.6 1701.5 1065.5 1705.0 1069.5 1708.5 1073.4 1712.0 1077.4 1715.5 1081.3 1719.1 1085.2 1722.6 1089.0 1726.2 1092.9 1729.7 1096.8 1733.3 1100.6 1736.9 1104.5 1740.5 1108.3 1744.1 1112.0 1747.8 1115.6 1751.5 1119.1 1755.2 1122.5 1758.9 1125.8 1762.5 1129.0 1766.0 1132.1 1769.4 1135.1 1772.8 1138.0 1776.1 1140.9 1779.4 1143.8 1782.8 1146.7 1786.2 1149.7 1789.6 1152.9 1793.2 1156.1 1796.7 1159.5 1800.3 1163.1 1804.0 1166.7 1807.6 1170.3 1811.2 1173.9 1814.7 1177.4 1818.3 1181.0 1821.8 1184.5 1825.4 1188.0 1828.9 1191.5 1832.5 1195.0 1836.0 1198.5 1839.5 1202.0 1843.1 1205.4 1846.7 1208.8 1850.3 1212.2 1853.9 1215.7 1857.5 1219.0 1861.1 1222.4 1864.7 1225.7 1868.3 1229.0 1871.9 1232.3 1875.4 1235.5 1878.9 1238.8 1882.3 1242.0 1885.8 1245.2 1889.2 1248.5 1892.5 1252.6 1895.9 1257.3 1899.2 1262.4 1902.5 1267.6 1905.8 1272.9 1909.1 1278.0 1912.5 1282.9 1915.9 1287.7 1919.3 1292.5 1922.7 1297.3 1926.1 1302.2 1929.6 1307.1 1933.0 1312.2 1936.4 1317.5 1939.8 1322.9 1943.3 1328.6 1946.6 1334.5 1950.0 1340.5 1953.4 1346.6 M1602.7 918.3 1605.9 923.2 1609.0 927.9 1612.1 932.5 1615.1 936.9 1618.0 941.3 1621.0 945.6 1623.9 949.8 1626.9 954.0 1629.8 958.2 1632.8 962.3 1635.8 966.5 1638.9 970.6 1642.1 974.8 1645.3 979.1 1648.6 983.4 1652.0 987.7 1655.4 992.1 1658.9 996.4 1662.4 1000.8 1666.0 1005.2 1669.5 1009.5 1673.1 1013.8 1676.6 1018.0 1680.0 1022.1 1683.3 1026.0 1686.5 1029.9 1689.7 1033.7 1692.9 1037.4 1696.1 1041.2 1699.3 1045.0 1702.6 1048.8 1706.0 1052.6 1709.4 1056.5 1713.0 1060.5 1716.6 1064.5 1720.3 1068.5 1724.0 1072.5 1727.8 1076.6 1731.6 1080.6 1735.4 1084.7 1739.2 1088.6 1743.0 1092.6 1746.7 1096.5 1750.4 1100.3 1754.0 1104.0 1757.6 1107.8 1761.2 1111.4 1764.8 1115.1 1768.4 1118.8 1771.9 1122.4 1775.6 1126.0 1779.2 1129.7 1782.8 1133.3 1786.4 1136.9 1790.0 1140.4 1793.6 1144.0 1797.3 1147.6 1801.0 1151.1 1804.6 1154.7 1808.4 1158.1 1812.1 1161.4 1815.9 1164.5 1819.7 1167.5 1823.4 1170.4 1827.1 1173.2 1830.8 1175.9 1834.3 1178.5 1837.7 1181.0 1841.1 1183.5 1844.5 1186.1 1847.9 1188.7 1851.4 1191.3 1854.9 1194.2 1858.5 1197.1 1862.2 1200.3 1865.9 1203.6 1869.6 1206.9 1873.2 1210.3 1876.9 1213.7 1880.6 1217.0 1884.2 1220.4 1887.8 1223.7 1891.4 1227.0 1895.1 1230.3 1898.7 1233.6 1902.3 1236.9 1905.9 1240.1 1909.5 1243.4 1913.2 1246.6 1916.8 1249.8 1920.5 1253.0 1924.2 1256.2 1927.9 1259.3 1931.6 1262.4 1935.3 1265.5 1938.9 1268.6 1942.5 1271.6 1946.0 1274.6 1949.6 1277.7 1953.1 1280.7 1956.5 1283.9 1960.0 1288.1 1963.3 1293.0 1966.7 1298.3 1970.1 1304.0 1973.4 1309.6 1976.8 1315.1 1980.2 1320.3 1983.6 1325.4 1987.1 1330.4 1990.5 1335.5 1994.0 1340.6 1997.5 1345.8 2001.0 1351.3 2004.4 1356.9 2007.9 1362.8 2011.3 1368.9 2014.7 1375.4 2018.1 1382.0 2021.5 1388.7 M1662.1 983.5 1665.4 987.9 1668.6 992.1 1671.7 996.1 1674.8 1000.1 1677.8 1004.1 1680.8 1007.9 1683.9 1011.7 1686.9 1015.5 1689.9 1019.2 1693.0 1022.9 1696.1 1026.7 1699.2 1030.5 1702.5 1034.3 1705.8 1038.1 1709.1 1042.0 1712.6 1045.9 1716.1 1049.8 1719.6 1053.7 1723.3 1057.7 1726.9 1061.6 1730.6 1065.6 1734.2 1069.4 1737.8 1073.2 1741.2 1077.0 1744.6 1080.6 1747.9 1084.1 1751.2 1087.6 1754.4 1091.0 1757.7 1094.4 1761.0 1097.9 1764.4 1101.4 1767.9 1104.9 1771.4 1108.5 1775.0 1112.1 1778.7 1115.7 1782.5 1119.4 1786.3 1123.1 1790.2 1126.8 1794.1 1130.5 1798.0 1134.2 1801.9 1137.8 1805.7 1141.4 1809.5 1145.0 1813.2 1148.5 1817.0 1151.9 1820.6 1155.4 1824.3 1158.8 1827.9 1162.2 1831.6 1165.5 1835.3 1168.9 1839.0 1172.2 1842.7 1175.6 1846.4 1178.9 1850.0 1182.2 1853.7 1185.5 1857.5 1188.8 1861.2 1192.1 1864.9 1195.4 1868.7 1198.7 1872.5 1201.8 1876.4 1204.8 1880.2 1207.5 1884.1 1210.2 1887.9 1212.7 1891.7 1215.1 1895.4 1217.5 1899.0 1219.7 1902.5 1221.8 1906.0 1224.0 1909.5 1226.2 1913.0 1228.4 1916.5 1230.8 1920.1 1233.3 1923.8 1236.0 1927.5 1238.9 1931.3 1241.9 1935.1 1245.1 1938.8 1248.2 1942.6 1251.4 1946.3 1254.6 1950.0 1257.7 1953.7 1260.8 1957.4 1264.0 1961.1 1267.1 1964.8 1270.2 1968.5 1273.3 1972.1 1276.3 1975.8 1279.4 1979.6 1282.4 1983.3 1285.4 1987.1 1288.4 1990.8 1291.4 1994.6 1294.3 1998.4 1297.2 2002.1 1300.1 2005.8 1303.0 2009.5 1305.8 2013.1 1308.7 2016.7 1311.5 2020.3 1314.3 2023.8 1317.5 2027.3 1321.7 2030.7 1326.8 2034.1 1332.4 2037.5 1338.4 2040.9 1344.5 2044.3 1350.3 2047.8 1355.7 2051.3 1361.0 2054.8 1366.3 2058.3 1371.6 2061.8 1377.0 2065.3 1382.5 2068.8 1388.3 2072.3 1394.2 2075.8 1400.5 2079.3 1407.2 2082.7 1414.1 2086.2 1421.3 2089.6 1428.6" fill="none" stroke="#0a5079" stroke-width="2.5"/>
<path d="M418.4 763.9 439.5 763.6 460.6 763.3 481.7 763.0 502.8 762.8 523.9 762.6 544.9 762.4 566.0 762.2 587.1 762.1 608.2 762.0 629.3 761.9 650.4 761.9 671.4 761.9 692.5 761.9 713.6 761.9 734.7 762.0 755.8 762.1 776.9 762.2 797.9 762.3 819.0 762.5 840.1 762.7 861.2 763.0 882.3 763.2 903.4 763.5 924.4 763.8 945.5 764.1 966.6 764.5 987.7 764.9 1008.8 765.3 1029.9 765.8 1050.9 766.2 1072.0 766.7 1093.1 767.3 1114.2 767.8 1135.3 768.4 1156.4 769.0 1177.4 769.6 1198.5 770.3 1219.6 771.0 1240.7 771.7 1261.8 772.5 1282.9 773.2 1303.9 774.0 1325.0 774.9 1346.1 775.7 1367.2 776.6 1388.3 777.5 1409.4 778.4 1430.4 779.4 1451.5 780.4 1472.6 781.4 1493.7 782.4 1514.8 783.5 1535.9 784.6 1556.9 785.7 1578.0 786.9 1599.1 788.1 1620.2 789.3 1641.3 790.5 1662.4 791.8 1683.4 793.1 M430.3 799.9 451.5 799.6 472.7 799.3 493.8 799.0 515.0 798.7 536.2 798.5 557.4 798.3 578.6 798.1 599.7 798.0 620.9 797.9 642.1 797.8 663.3 797.7 684.5 797.6 705.6 797.6 726.8 797.6 748.0 797.6 769.2 797.7 790.4 797.8 811.6 797.9 832.7 798.0 853.9 798.2 875.1 798.4 896.3 798.6 917.5 798.8 938.6 799.1 959.8 799.4 981.0 799.7 1002.2 800.0 1023.4 800.4 1044.5 800.8 1065.7 801.2 1086.9 801.7 1108.1 802.1 1129.3 802.6 1150.5 803.2 1171.6 803.7 1192.8 804.3 1214.0 804.9 1235.2 805.5 1256.4 806.2 1277.5 806.9 1298.7 807.6 1319.9 808.3 1341.1 809.1 1362.3 809.9 1383.4 810.7 1404.6 811.5 1425.8 812.4 1447.0 813.3 1468.2 814.2 1489.4 815.1 1510.5 816.1 1531.7 817.1 1552.9 818.1 1574.1 819.1 1595.3 820.2 1616.4 821.3 1637.6 822.4 1658.8 823.6 1680.0 824.8 1701.2 826.0 M442.6 834.5 463.9 834.1 485.1 833.8 506.4 833.5 527.7 833.2 549.0 833.0 570.3 832.7 591.6 832.5 612.8 832.4 634.1 832.2 655.4 832.1 676.7 832.0 698.0 831.9 719.2 831.9 740.5 831.8 761.8 831.8 783.1 831.8 804.4 831.9 825.7 832.0 846.9 832.1 868.2 832.2 889.5 832.3 910.8 832.5 932.1 832.7 953.4 832.9 974.6 833.2 995.9 833.5 1017.2 833.7 1038.5 834.1 1059.8 834.4 1081.0 834.8 1102.3 835.2 1123.6 835.6 1144.9 836.1 1166.2 836.5 1187.5 837.0 1208.7 837.6 1230.0 838.1 1251.3 838.7 1272.6 839.3 1293.9 839.9 1315.2 840.5 1336.4 841.2 1357.7 841.9 1379.0 842.6 1400.3 843.4 1421.6 844.1 1442.8 844.9 1464.1 845.8 1485.4 846.6 1506.7 847.5 1528.0 848.4 1549.3 849.3 1570.5 850.2 1591.8 851.2 1613.1 852.2 1634.4 853.2 1655.7 854.3 1677.0 855.3 1698.2 856.4 1719.5 857.6 M456.2 870.0 477.5 869.6 498.9 869.3 520.3 869.0 541.7 868.7 563.1 868.4 584.5 868.2 605.9 867.9 627.3 867.7 648.7 867.6 670.1 867.4 691.5 867.3 712.9 867.2 734.3 867.1 755.7 867.0 777.1 867.0 798.5 867.0 819.9 867.0 841.2 867.0 862.6 867.1 884.0 867.2 905.4 867.3 926.8 867.4 948.2 867.6 969.6 867.8 991.0 868.0 1012.4 868.2 1033.8 868.4 1055.2 868.7 1076.6 869.0 1098.0 869.3 1119.4 869.7 1140.8 870.1 1162.2 870.5 1183.6 870.9 1205.0 871.3 1226.3 871.8 1247.7 872.3 1269.1 872.8 1290.5 873.3 1311.9 873.9 1333.3 874.5 1354.7 875.1 1376.1 875.7 1397.5 876.4 1418.9 877.0 1440.3 877.8 1461.7 878.5 1483.1 879.2 1504.5 880.0 1525.9 880.8 1547.3 881.6 1568.7 882.5 1590.1 883.3 1611.4 884.2 1632.8 885.2 1654.2 886.1 1675.6 887.1 1697.0 888.1 1718.4 889.1 1739.8 890.1 M468.4 900.0 489.9 899.7 511.4 899.3 532.9 899.0 554.3 898.7 575.8 898.4 597.3 898.1 618.8 897.9 640.3 897.6 661.8 897.4 683.3 897.3 704.8 897.1 726.3 897.0 747.8 896.9 769.3 896.8 790.8 896.7 812.3 896.7 833.8 896.7 855.3 896.7 876.8 896.7 898.3 896.8 919.8 896.8 941.3 896.9 962.8 897.1 984.3 897.2 1005.7 897.4 1027.2 897.6 1048.7 897.8 1070.2 898.0 1091.7 898.3 1113.2 898.6 1134.7 898.9 1156.2 899.2 1177.7 899.6 1199.2 899.9 1220.7 900.3 1242.2 900.8 1263.7 901.2 1285.2 901.7 1306.7 902.2 1328.2 902.7 1349.7 903.2 1371.2 903.8 1392.7 904.4 1414.2 905.0 1435.6 905.6 1457.1 906.2 1478.6 906.9 1500.1 907.6 1521.6 908.3 1543.1 909.1 1564.6 909.8 1586.1 910.6 1607.6 911.4 1629.1 912.3 1650.6 913.1 1672.1 914.0 1693.6 914.9 1715.1 915.8 1736.6 916.8 1758.1 917.8 M481.7 931.1 503.3 930.7 524.9 930.3 546.5 930.0 568.1 929.6 589.7 929.3 611.3 929.0 632.9 928.8 654.5 928.5 676.2 928.3 697.8 928.1 719.4 927.9 741.0 927.8 762.6 927.7 784.2 927.5 805.8 927.5 827.4 927.4 849.0 927.3 870.6 927.3 892.2 927.3 913.8 927.4 935.4 927.4 957.0 927.5 978.6 927.6 1000.2 927.7 1021.8 927.8 1043.4 928.0 1065.0 928.1 1086.7 928.3 1108.3 928.6 1129.9 928.8 1151.5 929.1 1173.1 929.3 1194.7 929.7 1216.3 930.0 1237.9 930.3 1259.5 930.7 1281.1 931.1 1302.7 931.5 1324.3 932.0 1345.9 932.4 1367.5 932.9 1389.1 933.4 1410.7 934.0 1432.3 934.5 1453.9 935.1 1475.5 935.7 1497.2 936.3 1518.8 937.0 1540.4 937.6 1562.0 938.3 1583.6 939.0 1605.2 939.7 1626.8 940.5 1648.4 941.3 1670.0 942.1 1691.6 942.9 1713.2 943.7 1734.8 944.6 1756.4 945.5 1778.0 946.4 M494.8 960.1 516.6 959.7 538.3 959.3 560.0 959.0 581.7 958.6 603.4 958.3 625.1 958.0 646.8 957.7 668.6 957.4 690.3 957.2 712.0 957.0 733.7 956.8 755.4 956.6 777.1 956.5 798.8 956.3 820.5 956.2 842.3 956.1 864.0 956.0 885.7 956.0 907.4 956.0 929.1 956.0 950.8 956.0 972.5 956.0 994.3 956.1 1016.0 956.2 1037.7 956.3 1059.4 956.4 1081.1 956.5 1102.8 956.7 1124.5 956.9 1146.3 957.1 1168.0 957.3 1189.7 957.6 1211.4 957.8 1233.1 958.1 1254.8 958.4 1276.5 958.8 1298.2 959.1 1320.0 959.5 1341.7 959.9 1363.4 960.3 1385.1 960.8 1406.8 961.2 1428.5 961.7 1450.2 962.2 1472.0 962.7 1493.7 963.3 1515.4 963.9 1537.1 964.5 1558.8 965.1 1580.5 965.7 1602.2 966.3 1624.0 967.0 1645.7 967.7 1667.4 968.4 1689.1 969.2 1710.8 969.9 1732.5 970.7 1754.2 971.5 1775.9 972.3 1797.7 973.2 M508.6 989.1 530.4 988.7 552.3 988.3 574.1 987.9 595.9 987.6 617.8 987.2 639.6 986.9 661.4 986.6 683.2 986.3 705.1 986.1 726.9 985.8 748.7 985.6 770.5 985.4 792.4 985.3 814.2 985.1 836.0 985.0 857.9 984.8 879.7 984.8 901.5 984.7 923.3 984.6 945.2 984.6 967.0 984.6 988.8 984.6 1010.6 984.6 1032.5 984.7 1054.3 984.7 1076.1 984.8 1098.0 984.9 1119.8 985.1 1141.6 985.2 1163.4 985.4 1185.3 985.6 1207.1 985.8 1228.9 986.0 1250.7 986.3 1272.6 986.5 1294.4 986.8 1316.2 987.2 1338.1 987.5 1359.9 987.8 1381.7 988.2 1403.5 988.6 1425.4 989.0 1447.2 989.5 1469.0 989.9 1490.8 990.4 1512.7 990.9 1534.5 991.4 1556.3 992.0 1578.2 992.5 1600.0 993.1 1621.8 993.7 1643.6 994.3 1665.5 995.0 1687.3 995.6 1709.1 996.3 1730.9 997.0 1752.8 997.7 1774.6 998.5 1796.4 999.3 1818.3 1000.0 M522.0 1016.2 544.0 1015.7 565.9 1015.3 587.8 1014.9 609.8 1014.6 631.7 1014.2 653.6 1013.9 675.6 1013.5 697.5 1013.3 719.5 1013.0 741.4 1012.7 763.3 1012.5 785.3 1012.3 807.2 1012.1 829.1 1011.9 851.1 1011.7 873.0 1011.6 895.0 1011.5 916.9 1011.4 938.8 1011.3 960.8 1011.2 982.7 1011.2 1004.6 1011.2 1026.6 1011.2 1048.5 1011.2 1070.5 1011.2 1092.4 1011.3 1114.3 1011.4 1136.3 1011.5 1158.2 1011.6 1180.1 1011.7 1202.1 1011.9 1224.0 1012.1 1246.0 1012.3 1267.9 1012.5 1289.8 1012.7 1311.8 1013.0 1333.7 1013.3 1355.6 1013.6 1377.6 1013.9 1399.5 1014.2 1421.5 1014.6 1443.4 1015.0 1465.3 1015.4 1487.3 1015.8 1509.2 1016.2 1531.1 1016.7 1553.1 1017.1 1575.0 1017.6 1597.0 1018.1 1618.9 1018.7 1640.8 1019.2 1662.8 1019.8 1684.7 1020.4 1706.7 1021.0 1728.6 1021.7 1750.5 1022.3 1772.5 1023.0 1794.4 1023.7 1816.3 1024.4 1838.3 1025.1 M535.4 1042.2 557.5 1041.8 579.5 1041.3 601.6 1040.9 623.6 1040.5 645.7 1040.2 667.7 1039.8 689.8 1039.5 711.8 1039.2 733.9 1038.9 755.9 1038.6 778.0 1038.3 800.0 1038.1 822.1 1037.9 844.1 1037.7 866.2 1037.5 888.2 1037.4 910.3 1037.2 932.3 1037.1 954.4 1037.0 976.4 1036.9 998.5 1036.9 1020.5 1036.8 1042.5 1036.8 1064.6 1036.8 1086.6 1036.8 1108.7 1036.8 1130.7 1036.9 1152.8 1036.9 1174.8 1037.0 1196.9 1037.1 1218.9 1037.3 1241.0 1037.4 1263.0 1037.6 1285.1 1037.8 1307.1 1038.0 1329.2 1038.2 1351.2 1038.4 1373.3 1038.7 1395.3 1039.0 1417.4 1039.3 1439.4 1039.6 1461.5 1039.9 1483.5 1040.3 1505.6 1040.7 1527.6 1041.1 1549.7 1041.5 1571.7 1041.9 1593.8 1042.4 1615.8 1042.8 1637.9 1043.3 1659.9 1043.8 1682.0 1044.4 1704.0 1044.9 1726.1 1045.5 1748.1 1046.1 1770.1 1046.7 1792.2 1047.3 1814.2 1048.0 1836.3 1048.6 1858.3 1049.3 M548.3 1066.2 570.4 1065.8 592.6 1065.3 614.7 1064.9 636.9 1064.5 659.1 1064.1 681.2 1063.8 703.4 1063.4 725.5 1063.1 747.7 1062.8 769.8 1062.5 792.0 1062.2 814.1 1062.0 836.3 1061.7 858.4 1061.5 880.6 1061.3 902.7 1061.1 924.9 1061.0 947.1 1060.8 969.2 1060.7 991.4 1060.6 1013.5 1060.5 1035.7 1060.5 1057.8 1060.4 1080.0 1060.4 1102.1 1060.4 1124.3 1060.4 1146.4 1060.4 1168.6 1060.5 1190.8 1060.5 1212.9 1060.6 1235.1 1060.7 1257.2 1060.8 1279.4 1061.0 1301.5 1061.1 1323.7 1061.3 1345.8 1061.5 1368.0 1061.7 1390.1 1061.9 1412.3 1062.2 1434.5 1062.4 1456.6 1062.7 1478.8 1063.0 1500.9 1063.4 1523.1 1063.7 1545.2 1064.1 1567.4 1064.4 1589.5 1064.8 1611.7 1065.3 1633.8 1065.7 1656.0 1066.1 1678.2 1066.6 1700.3 1067.1 1722.5 1067.6 1744.6 1068.1 1766.8 1068.7 1788.9 1069.2 1811.1 1069.8 1833.2 1070.4 1855.4 1071.1 1877.5 1071.7 M562.7 1092.3 585.0 1091.8 607.2 1091.3 629.5 1090.9 651.8 1090.5 674.1 1090.1 696.3 1089.7 718.6 1089.4 740.9 1089.0 763.1 1088.7 785.4 1088.4 807.7 1088.1 830.0 1087.8 852.2 1087.6 874.5 1087.3 896.8 1087.1 919.1 1086.9 941.3 1086.7 963.6 1086.6 985.9 1086.4 1008.1 1086.3 1030.4 1086.2 1052.7 1086.1 1075.0 1086.0 1097.2 1086.0 1119.5 1085.9 1141.8 1085.9 1164.1 1085.9 1186.3 1085.9 1208.6 1086.0 1230.9 1086.0 1253.2 1086.1 1275.4 1086.2 1297.7 1086.3 1320.0 1086.4 1342.2 1086.5 1364.5 1086.7 1386.8 1086.9 1409.1 1087.1 1431.3 1087.3 1453.6 1087.5 1475.9 1087.8 1498.2 1088.0 1520.4 1088.3 1542.7 1088.6 1565.0 1088.9 1587.3 1089.3 1609.5 1089.6 1631.8 1090.0 1654.1 1090.4 1676.3 1090.8 1698.6 1091.2 1720.9 1091.7 1743.2 1092.1 1765.4 1092.6 1787.7 1093.1 1810.0 1093.6 1832.3 1094.2 1854.5 1094.7 1876.8 1095.3 1899.1 1095.9 M576.4 1116.3 598.8 1115.8 621.2 1115.3 643.6 1114.9 666.0 1114.5 688.4 1114.1 710.8 1113.7 733.1 1113.3 755.5 1112.9 777.9 1112.6 800.3 1112.3 822.7 1112.0 845.1 1111.7 867.5 1111.4 889.8 1111.2 912.2 1110.9 934.6 1110.7 957.0 1110.5 979.4 1110.3 1001.8 1110.1 1024.2 1110.0 1046.6 1109.9 1068.9 1109.8 1091.3 1109.7 1113.7 1109.6 1136.1 1109.5 1158.5 1109.5 1180.9 1109.4 1203.3 1109.4 1225.6 1109.4 1248.0 1109.5 1270.4 1109.5 1292.8 1109.6 1315.2 1109.6 1337.6 1109.7 1360.0 1109.9 1382.4 1110.0 1404.7 1110.1 1427.1 1110.3 1449.5 1110.5 1471.9 1110.7 1494.3 1110.9 1516.7 1111.1 1539.1 1111.4 1561.4 1111.6 1583.8 1111.9 1606.2 1112.2 1628.6 1112.6 1651.0 1112.9 1673.4 1113.2 1695.8 1113.6 1718.2 1114.0 1740.5 1114.4 1762.9 1114.8 1785.3 1115.3 1807.7 1115.7 1830.1 1116.2 1852.5 1116.7 1874.9 1117.2 1897.2 1117.8 1919.6 1118.3 M590.0 1139.3 612.5 1138.8 635.0 1138.3 657.5 1137.9 680.0 1137.4 702.5 1137.0 725.0 1136.6 747.5 1136.2 770.0 1135.9 792.5 1135.5 815.0 1135.2 837.5 1134.8 860.0 1134.5 882.5 1134.3 905.0 1134.0 927.5 1133.7 950.0 1133.5 972.5 1133.3 995.0 1133.1 1017.5 1132.9 1040.0 1132.7 1062.5 1132.6 1085.0 1132.4 1107.5 1132.3 1130.0 1132.2 1152.5 1132.1 1175.0 1132.1 1197.5 1132.0 1220.0 1132.0 1242.5 1132.0 1265.0 1132.0 1287.5 1132.0 1310.0 1132.0 1332.5 1132.1 1355.0 1132.1 1377.5 1132.2 1400.0 1132.3 1422.5 1132.4 1445.0 1132.6 1467.5 1132.7 1490.0 1132.9 1512.5 1133.1 1535.0 1133.3 1557.5 1133.5 1580.0 1133.7 1602.5 1134.0 1625.0 1134.3 1647.5 1134.5 1670.0 1134.8 1692.5 1135.2 1715.0 1135.5 1737.5 1135.9 1760.0 1136.2 1782.5 1136.6 1805.0 1137.0 1827.5 1137.4 1850.0 1137.9 1872.5 1138.3 1895.0 1138.8 1917.5 1139.3 1939.9 1139.8 M603.4 1161.3 626.0 1160.8 648.6 1160.3 671.2 1159.9 693.8 1159.4 716.4 1159.0 739.1 1158.6 761.7 1158.2 784.3 1157.8 806.9 1157.4 829.5 1157.1 852.1 1156.7 874.7 1156.4 897.3 1156.1 919.9 1155.8 942.5 1155.6 965.1 1155.3 987.7 1155.1 1010.4 1154.8 1033.0 1154.6 1055.6 1154.5 1078.2 1154.3 1100.8 1154.1 1123.4 1154.0 1146.0 1153.9 1168.6 1153.8 1191.2 1153.7 1213.8 1153.6 1236.4 1153.6 1259.1 1153.5 1281.7 1153.5 1304.3 1153.5 1326.9 1153.5 1349.5 1153.5 1372.1 1153.6 1394.7 1153.6 1417.3 1153.7 1439.9 1153.8 1462.5 1153.9 1485.1 1154.0 1507.8 1154.2 1530.4 1154.3 1553.0 1154.5 1575.6 1154.7 1598.2 1154.9 1620.8 1155.1 1643.4 1155.4 1666.0 1155.6 1688.6 1155.9 1711.2 1156.2 1733.8 1156.5 1756.5 1156.8 1779.1 1157.1 1801.7 1157.5 1824.3 1157.9 1846.9 1158.2 1869.5 1158.6 1892.1 1159.1 1914.7 1159.5 1937.3 1160.0 1959.9 1160.4 M616.5 1182.3 639.2 1181.8 661.9 1181.3 684.7 1180.9 707.4 1180.4 730.1 1180.0 752.8 1179.5 775.5 1179.1 798.2 1178.7 821.0 1178.3 843.7 1178.0 866.4 1177.6 889.1 1177.3 911.8 1177.0 934.5 1176.7 957.3 1176.4 980.0 1176.1 1002.7 1175.9 1025.4 1175.6 1048.1 1175.4 1070.8 1175.2 1093.6 1175.0 1116.3 1174.9 1139.0 1174.7 1161.7 1174.6 1184.4 1174.4 1207.1 1174.3 1229.9 1174.2 1252.6 1174.2 1275.3 1174.1 1298.0 1174.0 1320.7 1174.0 1343.5 1174.0 1366.2 1174.0 1388.9 1174.0 1411.6 1174.1 1434.3 1174.1 1457.0 1174.2 1479.8 1174.3 1502.5 1174.4 1525.2 1174.5 1547.9 1174.6 1570.6 1174.8 1593.3 1174.9 1616.1 1175.1 1638.8 1175.3 1661.5 1175.5 1684.2 1175.7 1706.9 1176.0 1729.6 1176.2 1752.4 1176.5 1775.1 1176.8 1797.8 1177.1 1820.5 1177.4 1843.2 1177.8 1865.9 1178.1 1888.7 1178.5 1911.4 1178.9 1934.1 1179.3 1956.8 1179.7 1979.5 1180.1 M630.6 1204.4 653.4 1203.8 676.3 1203.3 699.1 1202.8 721.9 1202.4 744.8 1201.9 767.6 1201.5 790.4 1201.1 813.3 1200.6 836.1 1200.3 858.9 1199.9 881.8 1199.5 904.6 1199.2 927.4 1198.8 950.3 1198.5 973.1 1198.2 995.9 1197.9 1018.8 1197.7 1041.6 1197.4 1064.4 1197.2 1087.3 1197.0 1110.1 1196.7 1132.9 1196.6 1155.8 1196.4 1178.6 1196.2 1201.4 1196.1 1224.3 1195.9 1247.1 1195.8 1269.9 1195.7 1292.8 1195.6 1315.6 1195.6 1338.4 1195.5 1361.3 1195.5 1384.1 1195.5 1406.9 1195.5 1429.8 1195.5 1452.6 1195.5 1475.4 1195.5 1498.3 1195.6 1521.1 1195.7 1543.9 1195.8 1566.8 1195.9 1589.6 1196.0 1612.4 1196.1 1635.3 1196.3 1658.1 1196.4 1680.9 1196.6 1703.8 1196.8 1726.6 1197.0 1749.4 1197.2 1772.3 1197.5 1795.1 1197.7 1817.9 1198.0 1840.8 1198.3 1863.6 1198.6 1886.4 1198.9 1909.3 1199.3 1932.1 1199.6 1954.9 1200.0 1977.8 1200.4 2000.6 1200.8 M645.0 1226.4 668.0 1225.8 690.9 1225.3 713.9 1224.8 736.9 1224.4 759.8 1223.9 782.8 1223.4 805.7 1223.0 828.7 1222.6 851.6 1222.2 874.6 1221.8 897.5 1221.4 920.5 1221.0 943.4 1220.7 966.4 1220.4 989.3 1220.0 1012.3 1219.7 1035.2 1219.5 1058.2 1219.2 1081.1 1218.9 1104.1 1218.7 1127.0 1218.5 1150.0 1218.3 1173.0 1218.1 1195.9 1217.9 1218.9 1217.7 1241.8 1217.6 1264.8 1217.4 1287.7 1217.3 1310.7 1217.2 1333.6 1217.1 1356.6 1217.0 1379.5 1217.0 1402.5 1216.9 1425.4 1216.9 1448.4 1216.9 1471.3 1216.9 1494.3 1216.9 1517.2 1216.9 1540.2 1217.0 1563.1 1217.0 1586.1 1217.1 1609.1 1217.2 1632.0 1217.3 1655.0 1217.4 1677.9 1217.6 1700.9 1217.7 1723.8 1217.9 1746.8 1218.1 1769.7 1218.2 1792.7 1218.5 1815.6 1218.7 1838.6 1218.9 1861.5 1219.2 1884.5 1219.5 1907.4 1219.7 1930.4 1220.0 1953.3 1220.4 1976.3 1220.7 1999.2 1221.0 2022.2 1221.4 M659.2 1247.4 682.3 1246.9 705.3 1246.3 728.4 1245.8 751.5 1245.3 774.5 1244.9 797.6 1244.4 820.7 1243.9 843.7 1243.5 866.8 1243.1 889.9 1242.7 912.9 1242.3 936.0 1241.9 959.1 1241.6 982.2 1241.2 1005.2 1240.9 1028.3 1240.6 1051.4 1240.3 1074.4 1240.0 1097.5 1239.7 1120.6 1239.4 1143.6 1239.2 1166.7 1239.0 1189.8 1238.8 1212.8 1238.6 1235.9 1238.4 1259.0 1238.2 1282.1 1238.0 1305.1 1237.9 1328.2 1237.8 1351.3 1237.7 1374.3 1237.6 1397.4 1237.5 1420.5 1237.4 1443.5 1237.4 1466.6 1237.3 1489.7 1237.3 1512.7 1237.3 1535.8 1237.3 1558.9 1237.3 1582.0 1237.4 1605.0 1237.4 1628.1 1237.5 1651.2 1237.6 1674.2 1237.6 1697.3 1237.8 1720.4 1237.9 1743.4 1238.0 1766.5 1238.2 1789.6 1238.3 1812.6 1238.5 1835.7 1238.7 1858.8 1238.9 1881.9 1239.1 1904.9 1239.4 1928.0 1239.6 1951.1 1239.9 1974.1 1240.2 1997.2 1240.5 2020.3 1240.8 2043.3 1241.1 M674.4 1269.4 697.5 1268.9 720.7 1268.3 743.9 1267.8 767.1 1267.3 790.3 1266.8 813.5 1266.3 836.7 1265.9 859.9 1265.4 883.1 1265.0 906.3 1264.6 929.5 1264.2 952.7 1263.8 975.9 1263.4 999.1 1263.1 1022.3 1262.7 1045.5 1262.4 1068.7 1262.1 1091.9 1261.8 1115.0 1261.5 1138.2 1261.2 1161.4 1260.9 1184.6 1260.7 1207.8 1260.4 1231.0 1260.2 1254.2 1260.0 1277.4 1259.8 1300.6 1259.6 1323.8 1259.5 1347.0 1259.3 1370.2 1259.2 1393.4 1259.1 1416.6 1259.0 1439.8 1258.9 1463.0 1258.8 1486.2 1258.7 1509.4 1258.7 1532.5 1258.7 1555.7 1258.6 1578.9 1258.6 1602.1 1258.6 1625.3 1258.7 1648.5 1258.7 1671.7 1258.7 1694.9 1258.8 1718.1 1258.9 1741.3 1259.0 1764.5 1259.1 1787.7 1259.2 1810.9 1259.3 1834.1 1259.5 1857.3 1259.7 1880.5 1259.8 1903.7 1260.0 1926.9 1260.2 1950.0 1260.5 1973.2 1260.7 1996.4 1260.9 2019.6 1261.2 2042.8 1261.5 2066.0 1261.8 M689.2 1290.4 712.5 1289.9 735.8 1289.3 759.1 1288.8 782.4 1288.3 805.8 1287.8 829.1 1287.3 852.4 1286.8 875.7 1286.4 899.0 1285.9 922.3 1285.5 945.7 1285.1 969.0 1284.7 992.3 1284.3 1015.6 1283.9 1038.9 1283.5 1062.2 1283.2 1085.6 1282.9 1108.9 1282.5 1132.2 1282.2 1155.5 1281.9 1178.8 1281.7 1202.1 1281.4 1225.5 1281.1 1248.8 1280.9 1272.1 1280.7 1295.4 1280.5 1318.7 1280.3 1342.0 1280.1 1365.4 1279.9 1388.7 1279.8 1412.0 1279.6 1435.3 1279.5 1458.6 1279.4 1481.9 1279.3 1505.3 1279.2 1528.6 1279.1 1551.9 1279.1 1575.2 1279.0 1598.5 1279.0 1621.8 1279.0 1645.2 1279.0 1668.5 1279.0 1691.8 1279.0 1715.1 1279.0 1738.4 1279.1 1761.7 1279.2 1785.1 1279.2 1808.4 1279.3 1831.7 1279.4 1855.0 1279.6 1878.3 1279.7 1901.6 1279.8 1925.0 1280.0 1948.3 1280.2 1971.6 1280.4 1994.9 1280.6 2018.2 1280.8 2041.5 1281.0 2064.9 1281.3 2088.2 1281.5" fill="none" stroke="#8fd8bf" stroke-width="9.0" stroke-opacity="0.6"/>
<path d="M418.4 763.9 439.5 763.6 460.6 763.3 481.7 763.0 502.8 762.8 523.9 762.6 544.9 762.4 566.0 762.2 587.1 762.1 608.2 762.0 629.3 761.9 650.4 761.9 671.4 761.9 692.5 761.9 713.6 761.9 734.7 762.0 755.8 762.1 776.9 762.2 797.9 762.3 819.0 762.5 840.1 762.7 861.2 763.0 882.3 763.2 903.4 763.5 924.4 763.8 945.5 764.1 966.6 764.5 987.7 764.9 1008.8 765.3 1029.9 765.8 1050.9 766.2 1072.0 766.7 1093.1 767.3 1114.2 767.8 1135.3 768.4 1156.4 769.0 1177.4 769.6 1198.5 770.3 1219.6 771.0 1240.7 771.7 1261.8 772.5 1282.9 773.2 1303.9 774.0 1325.0 774.9 1346.1 775.7 1367.2 776.6 1388.3 777.5 1409.4 778.4 1430.4 779.4 1451.5 780.4 1472.6 781.4 1493.7 782.4 1514.8 783.5 1535.9 784.6 1556.9 785.7 1578.0 786.9 1599.1 788.1 1620.2 789.3 1641.3 790.5 1662.4 791.8 1683.4 793.1 M430.3 799.9 451.5 799.6 472.7 799.3 493.8 799.0 515.0 798.7 536.2 798.5 557.4 798.3 578.6 798.1 599.7 798.0 620.9 797.9 642.1 797.8 663.3 797.7 684.5 797.6 705.6 797.6 726.8 797.6 748.0 797.6 769.2 797.7 790.4 797.8 811.6 797.9 832.7 798.0 853.9 798.2 875.1 798.4 896.3 798.6 917.5 798.8 938.6 799.1 959.8 799.4 981.0 799.7 1002.2 800.0 1023.4 800.4 1044.5 800.8 1065.7 801.2 1086.9 801.7 1108.1 802.1 1129.3 802.6 1150.5 803.2 1171.6 803.7 1192.8 804.3 1214.0 804.9 1235.2 805.5 1256.4 806.2 1277.5 806.9 1298.7 807.6 1319.9 808.3 1341.1 809.1 1362.3 809.9 1383.4 810.7 1404.6 811.5 1425.8 812.4 1447.0 813.3 1468.2 814.2 1489.4 815.1 1510.5 816.1 1531.7 817.1 1552.9 818.1 1574.1 819.1 1595.3 820.2 1616.4 821.3 1637.6 822.4 1658.8 823.6 1680.0 824.8 1701.2 826.0 M442.6 834.5 463.9 834.1 485.1 833.8 506.4 833.5 527.7 833.2 549.0 833.0 570.3 832.7 591.6 832.5 612.8 832.4 634.1 832.2 655.4 832.1 676.7 832.0 698.0 831.9 719.2 831.9 740.5 831.8 761.8 831.8 783.1 831.8 804.4 831.9 825.7 832.0 846.9 832.1 868.2 832.2 889.5 832.3 910.8 832.5 932.1 832.7 953.4 832.9 974.6 833.2 995.9 833.5 1017.2 833.7 1038.5 834.1 1059.8 834.4 1081.0 834.8 1102.3 835.2 1123.6 835.6 1144.9 836.1 1166.2 836.5 1187.5 837.0 1208.7 837.6 1230.0 838.1 1251.3 838.7 1272.6 839.3 1293.9 839.9 1315.2 840.5 1336.4 841.2 1357.7 841.9 1379.0 842.6 1400.3 843.4 1421.6 844.1 1442.8 844.9 1464.1 845.8 1485.4 846.6 1506.7 847.5 1528.0 848.4 1549.3 849.3 1570.5 850.2 1591.8 851.2 1613.1 852.2 1634.4 853.2 1655.7 854.3 1677.0 855.3 1698.2 856.4 1719.5 857.6 M456.2 870.0 477.5 869.6 498.9 869.3 520.3 869.0 541.7 868.7 563.1 868.4 584.5 868.2 605.9 867.9 627.3 867.7 648.7 867.6 670.1 867.4 691.5 867.3 712.9 867.2 734.3 867.1 755.7 867.0 777.1 867.0 798.5 867.0 819.9 867.0 841.2 867.0 862.6 867.1 884.0 867.2 905.4 867.3 926.8 867.4 948.2 867.6 969.6 867.8 991.0 868.0 1012.4 868.2 1033.8 868.4 1055.2 868.7 1076.6 869.0 1098.0 869.3 1119.4 869.7 1140.8 870.1 1162.2 870.5 1183.6 870.9 1205.0 871.3 1226.3 871.8 1247.7 872.3 1269.1 872.8 1290.5 873.3 1311.9 873.9 1333.3 874.5 1354.7 875.1 1376.1 875.7 1397.5 876.4 1418.9 877.0 1440.3 877.8 1461.7 878.5 1483.1 879.2 1504.5 880.0 1525.9 880.8 1547.3 881.6 1568.7 882.5 1590.1 883.3 1611.4 884.2 1632.8 885.2 1654.2 886.1 1675.6 887.1 1697.0 888.1 1718.4 889.1 1739.8 890.1 M468.4 900.0 489.9 899.7 511.4 899.3 532.9 899.0 554.3 898.7 575.8 898.4 597.3 898.1 618.8 897.9 640.3 897.6 661.8 897.4 683.3 897.3 704.8 897.1 726.3 897.0 747.8 896.9 769.3 896.8 790.8 896.7 812.3 896.7 833.8 896.7 855.3 896.7 876.8 896.7 898.3 896.8 919.8 896.8 941.3 896.9 962.8 897.1 984.3 897.2 1005.7 897.4 1027.2 897.6 1048.7 897.8 1070.2 898.0 1091.7 898.3 1113.2 898.6 1134.7 898.9 1156.2 899.2 1177.7 899.6 1199.2 899.9 1220.7 900.3 1242.2 900.8 1263.7 901.2 1285.2 901.7 1306.7 902.2 1328.2 902.7 1349.7 903.2 1371.2 903.8 1392.7 904.4 1414.2 905.0 1435.6 905.6 1457.1 906.2 1478.6 906.9 1500.1 907.6 1521.6 908.3 1543.1 909.1 1564.6 909.8 1586.1 910.6 1607.6 911.4 1629.1 912.3 1650.6 913.1 1672.1 914.0 1693.6 914.9 1715.1 915.8 1736.6 916.8 1758.1 917.8 M481.7 931.1 503.3 930.7 524.9 930.3 546.5 930.0 568.1 929.6 589.7 929.3 611.3 929.0 632.9 928.8 654.5 928.5 676.2 928.3 697.8 928.1 719.4 927.9 741.0 927.8 762.6 927.7 784.2 927.5 805.8 927.5 827.4 927.4 849.0 927.3 870.6 927.3 892.2 927.3 913.8 927.4 935.4 927.4 957.0 927.5 978.6 927.6 1000.2 927.7 1021.8 927.8 1043.4 928.0 1065.0 928.1 1086.7 928.3 1108.3 928.6 1129.9 928.8 1151.5 929.1 1173.1 929.3 1194.7 929.7 1216.3 930.0 1237.9 930.3 1259.5 930.7 1281.1 931.1 1302.7 931.5 1324.3 932.0 1345.9 932.4 1367.5 932.9 1389.1 933.4 1410.7 934.0 1432.3 934.5 1453.9 935.1 1475.5 935.7 1497.2 936.3 1518.8 937.0 1540.4 937.6 1562.0 938.3 1583.6 939.0 1605.2 939.7 1626.8 940.5 1648.4 941.3 1670.0 942.1 1691.6 942.9 1713.2 943.7 1734.8 944.6 1756.4 945.5 1778.0 946.4 M494.8 960.1 516.6 959.7 538.3 959.3 560.0 959.0 581.7 958.6 603.4 958.3 625.1 958.0 646.8 957.7 668.6 957.4 690.3 957.2 712.0 957.0 733.7 956.8 755.4 956.6 777.1 956.5 798.8 956.3 820.5 956.2 842.3 956.1 864.0 956.0 885.7 956.0 907.4 956.0 929.1 956.0 950.8 956.0 972.5 956.0 994.3 956.1 1016.0 956.2 1037.7 956.3 1059.4 956.4 1081.1 956.5 1102.8 956.7 1124.5 956.9 1146.3 957.1 1168.0 957.3 1189.7 957.6 1211.4 957.8 1233.1 958.1 1254.8 958.4 1276.5 958.8 1298.2 959.1 1320.0 959.5 1341.7 959.9 1363.4 960.3 1385.1 960.8 1406.8 961.2 1428.5 961.7 1450.2 962.2 1472.0 962.7 1493.7 963.3 1515.4 963.9 1537.1 964.5 1558.8 965.1 1580.5 965.7 1602.2 966.3 1624.0 967.0 1645.7 967.7 1667.4 968.4 1689.1 969.2 1710.8 969.9 1732.5 970.7 1754.2 971.5 1775.9 972.3 1797.7 973.2 M508.6 989.1 530.4 988.7 552.3 988.3 574.1 987.9 595.9 987.6 617.8 987.2 639.6 986.9 661.4 986.6 683.2 986.3 705.1 986.1 726.9 985.8 748.7 985.6 770.5 985.4 792.4 985.3 814.2 985.1 836.0 985.0 857.9 984.8 879.7 984.8 901.5 984.7 923.3 984.6 945.2 984.6 967.0 984.6 988.8 984.6 1010.6 984.6 1032.5 984.7 1054.3 984.7 1076.1 984.8 1098.0 984.9 1119.8 985.1 1141.6 985.2 1163.4 985.4 1185.3 985.6 1207.1 985.8 1228.9 986.0 1250.7 986.3 1272.6 986.5 1294.4 986.8 1316.2 987.2 1338.1 987.5 1359.9 987.8 1381.7 988.2 1403.5 988.6 1425.4 989.0 1447.2 989.5 1469.0 989.9 1490.8 990.4 1512.7 990.9 1534.5 991.4 1556.3 992.0 1578.2 992.5 1600.0 993.1 1621.8 993.7 1643.6 994.3 1665.5 995.0 1687.3 995.6 1709.1 996.3 1730.9 997.0 1752.8 997.7 1774.6 998.5 1796.4 999.3 1818.3 1000.0 M522.0 1016.2 544.0 1015.7 565.9 1015.3 587.8 1014.9 609.8 1014.6 631.7 1014.2 653.6 1013.9 675.6 1013.5 697.5 1013.3 719.5 1013.0 741.4 1012.7 763.3 1012.5 785.3 1012.3 807.2 1012.1 829.1 1011.9 851.1 1011.7 873.0 1011.6 895.0 1011.5 916.9 1011.4 938.8 1011.3 960.8 1011.2 982.7 1011.2 1004.6 1011.2 1026.6 1011.2 1048.5 1011.2 1070.5 1011.2 1092.4 1011.3 1114.3 1011.4 1136.3 1011.5 1158.2 1011.6 1180.1 1011.7 1202.1 1011.9 1224.0 1012.1 1246.0 1012.3 1267.9 1012.5 1289.8 1012.7 1311.8 1013.0 1333.7 1013.3 1355.6 1013.6 1377.6 1013.9 1399.5 1014.2 1421.5 1014.6 1443.4 1015.0 1465.3 1015.4 1487.3 1015.8 1509.2 1016.2 1531.1 1016.7 1553.1 1017.1 1575.0 1017.6 1597.0 1018.1 1618.9 1018.7 1640.8 1019.2 1662.8 1019.8 1684.7 1020.4 1706.7 1021.0 1728.6 1021.7 1750.5 1022.3 1772.5 1023.0 1794.4 1023.7 1816.3 1024.4 1838.3 1025.1 M535.4 1042.2 557.5 1041.8 579.5 1041.3 601.6 1040.9 623.6 1040.5 645.7 1040.2 667.7 1039.8 689.8 1039.5 711.8 1039.2 733.9 1038.9 755.9 1038.6 778.0 1038.3 800.0 1038.1 822.1 1037.9 844.1 1037.7 866.2 1037.5 888.2 1037.4 910.3 1037.2 932.3 1037.1 954.4 1037.0 976.4 1036.9 998.5 1036.9 1020.5 1036.8 1042.5 1036.8 1064.6 1036.8 1086.6 1036.8 1108.7 1036.8 1130.7 1036.9 1152.8 1036.9 1174.8 1037.0 1196.9 1037.1 1218.9 1037.3 1241.0 1037.4 1263.0 1037.6 1285.1 1037.8 1307.1 1038.0 1329.2 1038.2 1351.2 1038.4 1373.3 1038.7 1395.3 1039.0 1417.4 1039.3 1439.4 1039.6 1461.5 1039.9 1483.5 1040.3 1505.6 1040.7 1527.6 1041.1 1549.7 1041.5 1571.7 1041.9 1593.8 1042.4 1615.8 1042.8 1637.9 1043.3 1659.9 1043.8 1682.0 1044.4 1704.0 1044.9 1726.1 1045.5 1748.1 1046.1 1770.1 1046.7 1792.2 1047.3 1814.2 1048.0 1836.3 1048.6 1858.3 1049.3 M548.3 1066.2 570.4 1065.8 592.6 1065.3 614.7 1064.9 636.9 1064.5 659.1 1064.1 681.2 1063.8 703.4 1063.4 725.5 1063.1 747.7 1062.8 769.8 1062.5 792.0 1062.2 814.1 1062.0 836.3 1061.7 858.4 1061.5 880.6 1061.3 902.7 1061.1 924.9 1061.0 947.1 1060.8 969.2 1060.7 991.4 1060.6 1013.5 1060.5 1035.7 1060.5 1057.8 1060.4 1080.0 1060.4 1102.1 1060.4 1124.3 1060.4 1146.4 1060.4 1168.6 1060.5 1190.8 1060.5 1212.9 1060.6 1235.1 1060.7 1257.2 1060.8 1279.4 1061.0 1301.5 1061.1 1323.7 1061.3 1345.8 1061.5 1368.0 1061.7 1390.1 1061.9 1412.3 1062.2 1434.5 1062.4 1456.6 1062.7 1478.8 1063.0 1500.9 1063.4 1523.1 1063.7 1545.2 1064.1 1567.4 1064.4 1589.5 1064.8 1611.7 1065.3 1633.8 1065.7 1656.0 1066.1 1678.2 1066.6 1700.3 1067.1 1722.5 1067.6 1744.6 1068.1 1766.8 1068.7 1788.9 1069.2 1811.1 1069.8 1833.2 1070.4 1855.4 1071.1 1877.5 1071.7 M562.7 1092.3 585.0 1091.8 607.2 1091.3 629.5 1090.9 651.8 1090.5 674.1 1090.1 696.3 1089.7 718.6 1089.4 740.9 1089.0 763.1 1088.7 785.4 1088.4 807.7 1088.1 830.0 1087.8 852.2 1087.6 874.5 1087.3 896.8 1087.1 919.1 1086.9 941.3 1086.7 963.6 1086.6 985.9 1086.4 1008.1 1086.3 1030.4 1086.2 1052.7 1086.1 1075.0 1086.0 1097.2 1086.0 1119.5 1085.9 1141.8 1085.9 1164.1 1085.9 1186.3 1085.9 1208.6 1086.0 1230.9 1086.0 1253.2 1086.1 1275.4 1086.2 1297.7 1086.3 1320.0 1086.4 1342.2 1086.5 1364.5 1086.7 1386.8 1086.9 1409.1 1087.1 1431.3 1087.3 1453.6 1087.5 1475.9 1087.8 1498.2 1088.0 1520.4 1088.3 1542.7 1088.6 1565.0 1088.9 1587.3 1089.3 1609.5 1089.6 1631.8 1090.0 1654.1 1090.4 1676.3 1090.8 1698.6 1091.2 1720.9 1091.7 1743.2 1092.1 1765.4 1092.6 1787.7 1093.1 1810.0 1093.6 1832.3 1094.2 1854.5 1094.7 1876.8 1095.3 1899.1 1095.9 M576.4 1116.3 598.8 1115.8 621.2 1115.3 643.6 1114.9 666.0 1114.5 688.4 1114.1 710.8 1113.7 733.1 1113.3 755.5 1112.9 777.9 1112.6 800.3 1112.3 822.7 1112.0 845.1 1111.7 867.5 1111.4 889.8 1111.2 912.2 1110.9 934.6 1110.7 957.0 1110.5 979.4 1110.3 1001.8 1110.1 1024.2 1110.0 1046.6 1109.9 1068.9 1109.8 1091.3 1109.7 1113.7 1109.6 1136.1 1109.5 1158.5 1109.5 1180.9 1109.4 1203.3 1109.4 1225.6 1109.4 1248.0 1109.5 1270.4 1109.5 1292.8 1109.6 1315.2 1109.6 1337.6 1109.7 1360.0 1109.9 1382.4 1110.0 1404.7 1110.1 1427.1 1110.3 1449.5 1110.5 1471.9 1110.7 1494.3 1110.9 1516.7 1111.1 1539.1 1111.4 1561.4 1111.6 1583.8 1111.9 1606.2 1112.2 1628.6 1112.6 1651.0 1112.9 1673.4 1113.2 1695.8 1113.6 1718.2 1114.0 1740.5 1114.4 1762.9 1114.8 1785.3 1115.3 1807.7 1115.7 1830.1 1116.2 1852.5 1116.7 1874.9 1117.2 1897.2 1117.8 1919.6 1118.3 M590.0 1139.3 612.5 1138.8 635.0 1138.3 657.5 1137.9 680.0 1137.4 702.5 1137.0 725.0 1136.6 747.5 1136.2 770.0 1135.9 792.5 1135.5 815.0 1135.2 837.5 1134.8 860.0 1134.5 882.5 1134.3 905.0 1134.0 927.5 1133.7 950.0 1133.5 972.5 1133.3 995.0 1133.1 1017.5 1132.9 1040.0 1132.7 1062.5 1132.6 1085.0 1132.4 1107.5 1132.3 1130.0 1132.2 1152.5 1132.1 1175.0 1132.1 1197.5 1132.0 1220.0 1132.0 1242.5 1132.0 1265.0 1132.0 1287.5 1132.0 1310.0 1132.0 1332.5 1132.1 1355.0 1132.1 1377.5 1132.2 1400.0 1132.3 1422.5 1132.4 1445.0 1132.6 1467.5 1132.7 1490.0 1132.9 1512.5 1133.1 1535.0 1133.3 1557.5 1133.5 1580.0 1133.7 1602.5 1134.0 1625.0 1134.3 1647.5 1134.5 1670.0 1134.8 1692.5 1135.2 1715.0 1135.5 1737.5 1135.9 1760.0 1136.2 1782.5 1136.6 1805.0 1137.0 1827.5 1137.4 1850.0 1137.9 1872.5 1138.3 1895.0 1138.8 1917.5 1139.3 1939.9 1139.8 M603.4 1161.3 626.0 1160.8 648.6 1160.3 671.2 1159.9 693.8 1159.4 716.4 1159.0 739.1 1158.6 761.7 1158.2 784.3 1157.8 806.9 1157.4 829.5 1157.1 852.1 1156.7 874.7 1156.4 897.3 1156.1 919.9 1155.8 942.5 1155.6 965.1 1155.3 987.7 1155.1 1010.4 1154.8 1033.0 1154.6 1055.6 1154.5 1078.2 1154.3 1100.8 1154.1 1123.4 1154.0 1146.0 1153.9 1168.6 1153.8 1191.2 1153.7 1213.8 1153.6 1236.4 1153.6 1259.1 1153.5 1281.7 1153.5 1304.3 1153.5 1326.9 1153.5 1349.5 1153.5 1372.1 1153.6 1394.7 1153.6 1417.3 1153.7 1439.9 1153.8 1462.5 1153.9 1485.1 1154.0 1507.8 1154.2 1530.4 1154.3 1553.0 1154.5 1575.6 1154.7 1598.2 1154.9 1620.8 1155.1 1643.4 1155.4 1666.0 1155.6 1688.6 1155.9 1711.2 1156.2 1733.8 1156.5 1756.5 1156.8 1779.1 1157.1 1801.7 1157.5 1824.3 1157.9 1846.9 1158.2 1869.5 1158.6 1892.1 1159.1 1914.7 1159.5 1937.3 1160.0 1959.9 1160.4 M616.5 1182.3 639.2 1181.8 661.9 1181.3 684.7 1180.9 707.4 1180.4 730.1 1180.0 752.8 1179.5 775.5 1179.1 798.2 1178.7 821.0 1178.3 843.7 1178.0 866.4 1177.6 889.1 1177.3 911.8 1177.0 934.5 1176.7 957.3 1176.4 980.0 1176.1 1002.7 1175.9 1025.4 1175.6 1048.1 1175.4 1070.8 1175.2 1093.6 1175.0 1116.3 1174.9 1139.0 1174.7 1161.7 1174.6 1184.4 1174.4 1207.1 1174.3 1229.9 1174.2 1252.6 1174.2 1275.3 1174.1 1298.0 1174.0 1320.7 1174.0 1343.5 1174.0 1366.2 1174.0 1388.9 1174.0 1411.6 1174.1 1434.3 1174.1 1457.0 1174.2 1479.8 1174.3 1502.5 1174.4 1525.2 1174.5 1547.9 1174.6 1570.6 1174.8 1593.3 1174.9 1616.1 1175.1 1638.8 1175.3 1661.5 1175.5 1684.2 1175.7 1706.9 1176.0 1729.6 1176.2 1752.4 1176.5 1775.1 1176.8 1797.8 1177.1 1820.5 1177.4 1843.2 1177.8 1865.9 1178.1 1888.7 1178.5 1911.4 1178.9 1934.1 1179.3 1956.8 1179.7 1979.5 1180.1 M630.6 1204.4 653.4 1203.8 676.3 1203.3 699.1 1202.8 721.9 1202.4 744.8 1201.9 767.6 1201.5 790.4 1201.1 813.3 1200.6 836.1 1200.3 858.9 1199.9 881.8 1199.5 904.6 1199.2 927.4 1198.8 950.3 1198.5 973.1 1198.2 995.9 1197.9 1018.8 1197.7 1041.6 1197.4 1064.4 1197.2 1087.3 1197.0 1110.1 1196.7 1132.9 1196.6 1155.8 1196.4 1178.6 1196.2 1201.4 1196.1 1224.3 1195.9 1247.1 1195.8 1269.9 1195.7 1292.8 1195.6 1315.6 1195.6 1338.4 1195.5 1361.3 1195.5 1384.1 1195.5 1406.9 1195.5 1429.8 1195.5 1452.6 1195.5 1475.4 1195.5 1498.3 1195.6 1521.1 1195.7 1543.9 1195.8 1566.8 1195.9 1589.6 1196.0 1612.4 1196.1 1635.3 1196.3 1658.1 1196.4 1680.9 1196.6 1703.8 1196.8 1726.6 1197.0 1749.4 1197.2 1772.3 1197.5 1795.1 1197.7 1817.9 1198.0 1840.8 1198.3 1863.6 1198.6 1886.4 1198.9 1909.3 1199.3 1932.1 1199.6 1954.9 1200.0 1977.8 1200.4 2000.6 1200.8 M645.0 1226.4 668.0 1225.8 690.9 1225.3 713.9 1224.8 736.9 1224.4 759.8 1223.9 782.8 1223.4 805.7 1223.0 828.7 1222.6 851.6 1222.2 874.6 1221.8 897.5 1221.4 920.5 1221.0 943.4 1220.7 966.4 1220.4 989.3 1220.0 1012.3 1219.7 1035.2 1219.5 1058.2 1219.2 1081.1 1218.9 1104.1 1218.7 1127.0 1218.5 1150.0 1218.3 1173.0 1218.1 1195.9 1217.9 1218.9 1217.7 1241.8 1217.6 1264.8 1217.4 1287.7 1217.3 1310.7 1217.2 1333.6 1217.1 1356.6 1217.0 1379.5 1217.0 1402.5 1216.9 1425.4 1216.9 1448.4 1216.9 1471.3 1216.9 1494.3 1216.9 1517.2 1216.9 1540.2 1217.0 1563.1 1217.0 1586.1 1217.1 1609.1 1217.2 1632.0 1217.3 1655.0 1217.4 1677.9 1217.6 1700.9 1217.7 1723.8 1217.9 1746.8 1218.1 1769.7 1218.2 1792.7 1218.5 1815.6 1218.7 1838.6 1218.9 1861.5 1219.2 1884.5 1219.5 1907.4 1219.7 1930.4 1220.0 1953.3 1220.4 1976.3 1220.7 1999.2 1221.0 2022.2 1221.4 M659.2 1247.4 682.3 1246.9 705.3 1246.3 728.4 1245.8 751.5 1245.3 774.5 1244.9 797.6 1244.4 820.7 1243.9 843.7 1243.5 866.8 1243.1 889.9 1242.7 912.9 1242.3 936.0 1241.9 959.1 1241.6 982.2 1241.2 1005.2 1240.9 1028.3 1240.6 1051.4 1240.3 1074.4 1240.0 1097.5 1239.7 1120.6 1239.4 1143.6 1239.2 1166.7 1239.0 1189.8 1238.8 1212.8 1238.6 1235.9 1238.4 1259.0 1238.2 1282.1 1238.0 1305.1 1237.9 1328.2 1237.8 1351.3 1237.7 1374.3 1237.6 1397.4 1237.5 1420.5 1237.4 1443.5 1237.4 1466.6 1237.3 1489.7 1237.3 1512.7 1237.3 1535.8 1237.3 1558.9 1237.3 1582.0 1237.4 1605.0 1237.4 1628.1 1237.5 1651.2 1237.6 1674.2 1237.6 1697.3 1237.8 1720.4 1237.9 1743.4 1238.0 1766.5 1238.2 1789.6 1238.3 1812.6 1238.5 1835.7 1238.7 1858.8 1238.9 1881.9 1239.1 1904.9 1239.4 1928.0 1239.6 1951.1 1239.9 1974.1 1240.2 1997.2 1240.5 2020.3 1240.8 2043.3 1241.1 M674.4 1269.4 697.5 1268.9 720.7 1268.3 743.9 1267.8 767.1 1267.3 790.3 1266.8 813.5 1266.3 836.7 1265.9 859.9 1265.4 883.1 1265.0 906.3 1264.6 929.5 1264.2 952.7 1263.8 975.9 1263.4 999.1 1263.1 1022.3 1262.7 1045.5 1262.4 1068.7 1262.1 1091.9 1261.8 1115.0 1261.5 1138.2 1261.2 1161.4 1260.9 1184.6 1260.7 1207.8 1260.4 1231.0 1260.2 1254.2 1260.0 1277.4 1259.8 1300.6 1259.6 1323.8 1259.5 1347.0 1259.3 1370.2 1259.2 1393.4 1259.1 1416.6 1259.0 1439.8 1258.9 1463.0 1258.8 1486.2 1258.7 1509.4 1258.7 1532.5 1258.7 1555.7 1258.6 1578.9 1258.6 1602.1 1258.6 1625.3 1258.7 1648.5 1258.7 1671.7 1258.7 1694.9 1258.8 1718.1 1258.9 1741.3 1259.0 1764.5 1259.1 1787.7 1259.2 1810.9 1259.3 1834.1 1259.5 1857.3 1259.7 1880.5 1259.8 1903.7 1260.0 1926.9 1260.2 1950.0 1260.5 1973.2 1260.7 1996.4 1260.9 2019.6 1261.2 2042.8 1261.5 2066.0 1261.8 M689.2 1290.4 712.5 1289.9 735.8 1289.3 759.1 1288.8 782.4 1288.3 805.8 1287.8 829.1 1287.3 852.4 1286.8 875.7 1286.4 899.0 1285.9 922.3 1285.5 945.7 1285.1 969.0 1284.7 992.3 1284.3 1015.6 1283.9 1038.9 1283.5 1062.2 1283.2 1085.6 1282.9 1108.9 1282.5 1132.2 1282.2 1155.5 1281.9 1178.8 1281.7 1202.1 1281.4 1225.5 1281.1 1248.8 1280.9 1272.1 1280.7 1295.4 1280.5 1318.7 1280.3 1342.0 1280.1 1365.4 1279.9 1388.7 1279.8 1412.0 1279.6 1435.3 1279.5 1458.6 1279.4 1481.9 1279.3 1505.3 1279.2 1528.6 1279.1 1551.9 1279.1 1575.2 1279.0 1598.5 1279.0 1621.8 1279.0 1645.2 1279.0 1668.5 1279.0 1691.8 1279.0 1715.1 1279.0 1738.4 1279.1 1761.7 1279.2 1785.1 1279.2 1808.4 1279.3 1831.7 1279.4 1855.0 1279.6 1878.3 1279.7 1901.6 1279.8 1925.0 1280.0 1948.3 1280.2 1971.6 1280.4 1994.9 1280.6 2018.2 1280.8 2041.5 1281.0 2064.9 1281.3 2088.2 1281.5 M418.4 763.9 422.5 776.4 426.4 788.4 430.3 799.9 434.2 811.3 438.3 822.7 442.6 834.5 447.1 846.6 451.7 858.6 456.2 870.0 460.3 880.4 464.3 890.2 468.4 900.0 472.7 910.3 477.2 920.8 481.7 931.1 486.1 941.0 490.4 950.5 494.8 960.1 499.4 969.8 504.0 979.6 508.6 989.1 513.1 998.4 517.6 1007.3 522.0 1016.2 526.5 1025.0 531.0 1033.8 535.4 1042.2 539.7 1050.2 543.9 1058.1 548.3 1066.2 553.0 1074.8 557.8 1083.6 562.7 1092.3 567.4 1100.5 571.9 1108.5 576.4 1116.3 581.0 1124.0 585.5 1131.7 590.0 1139.3 594.5 1146.8 599.0 1154.1 603.4 1161.3 607.7 1168.3 612.1 1175.3 616.5 1182.3 621.1 1189.6 625.8 1196.9 630.6 1204.4 635.4 1211.8 640.3 1219.2 645.0 1226.4 649.7 1233.4 654.4 1240.3 659.2 1247.4 664.1 1254.6 669.2 1262.0 674.4 1269.4 679.4 1276.7 684.4 1283.7 689.2 1290.4 M481.7 763.0 485.8 775.5 489.9 787.5 493.8 799.0 497.9 810.4 502.0 821.8 506.4 833.5 511.1 845.6 515.8 857.6 520.3 869.0 524.6 879.4 528.7 889.2 532.9 899.0 537.3 909.2 541.9 919.7 546.5 930.0 551.0 939.8 555.5 949.4 560.0 959.0 564.6 968.7 569.4 978.4 574.1 987.9 578.7 997.1 583.3 1006.1 587.8 1014.9 592.5 1023.8 597.1 1032.5 601.6 1040.9 605.9 1048.9 610.2 1056.8 614.7 1064.9 619.5 1073.5 624.5 1082.2 629.5 1090.9 634.3 1099.2 639.0 1107.1 643.6 1114.9 648.2 1122.6 652.9 1130.3 657.5 1137.9 662.1 1145.4 666.7 1152.7 671.2 1159.9 675.7 1166.9 680.1 1173.8 684.7 1180.9 689.3 1188.1 694.2 1195.4 699.1 1202.8 704.1 1210.3 709.0 1217.6 713.9 1224.8 718.7 1231.8 723.5 1238.8 728.4 1245.8 733.5 1253.1 738.7 1260.4 743.9 1267.8 749.2 1275.1 754.2 1282.1 759.1 1288.8 M544.9 762.4 549.2 774.9 553.3 786.8 557.4 798.3 561.5 809.6 565.8 821.1 570.3 832.7 575.0 844.8 579.9 856.8 584.5 868.2 588.9 878.5 593.1 888.3 597.3 898.1 601.9 908.3 606.6 918.8 611.3 929.0 615.9 938.9 620.5 948.4 625.1 958.0 629.9 967.7 634.8 977.4 639.6 986.9 644.3 996.1 649.0 1005.0 653.6 1013.9 658.4 1022.7 663.1 1031.4 667.7 1039.8 672.2 1047.8 676.6 1055.7 681.2 1063.8 686.1 1072.3 691.2 1081.1 696.3 1089.7 701.2 1098.0 706.0 1105.9 710.8 1113.7 715.5 1121.4 720.3 1129.0 725.0 1136.6 729.7 1144.1 734.4 1151.4 739.1 1158.6 743.6 1165.6 748.2 1172.5 752.8 1179.5 757.6 1186.7 762.6 1194.1 767.6 1201.5 772.7 1208.9 777.7 1216.2 782.8 1223.4 787.7 1230.4 792.6 1237.4 797.6 1244.4 802.8 1251.6 808.1 1259.0 813.5 1266.3 818.9 1273.6 824.1 1280.6 829.1 1287.3 M608.2 762.0 612.5 774.5 616.7 786.4 620.9 797.9 625.2 809.2 629.5 820.5 634.1 832.2 639.0 844.2 643.9 856.2 648.7 867.6 653.1 877.9 657.4 887.7 661.8 897.4 666.5 907.6 671.3 918.1 676.2 928.3 680.9 938.1 685.5 947.7 690.3 957.2 695.2 966.9 700.1 976.6 705.1 986.1 709.9 995.2 714.7 1004.2 719.5 1013.0 724.3 1021.8 729.1 1030.5 733.9 1038.9 738.4 1046.9 743.0 1054.7 747.7 1062.8 752.7 1071.3 757.9 1080.1 763.1 1088.7 768.2 1096.9 773.1 1104.8 777.9 1112.6 782.8 1120.3 787.6 1127.9 792.5 1135.5 797.4 1143.0 802.1 1150.3 806.9 1157.4 811.5 1164.4 816.2 1171.3 821.0 1178.3 825.9 1185.5 830.9 1192.9 836.1 1200.3 841.3 1207.7 846.5 1215.0 851.6 1222.2 856.6 1229.2 861.7 1236.1 866.8 1243.1 872.1 1250.3 877.6 1257.6 883.1 1265.0 888.6 1272.2 893.9 1279.3 899.0 1285.9 M671.4 761.9 675.9 774.3 680.2 786.2 684.5 797.6 688.8 808.9 693.3 820.3 698.0 831.9 702.9 843.9 708.0 855.8 712.9 867.2 717.4 877.5 721.8 887.2 726.3 897.0 731.1 907.2 736.0 917.6 741.0 927.8 745.8 937.6 750.6 947.1 755.4 956.6 760.4 966.3 765.5 975.9 770.5 985.4 775.5 994.6 780.4 1003.5 785.3 1012.3 790.2 1021.1 795.2 1029.7 800.0 1038.1 804.7 1046.1 809.3 1053.9 814.1 1062.0 819.3 1070.5 824.6 1079.2 830.0 1087.8 835.1 1096.0 840.1 1103.9 845.1 1111.7 850.0 1119.4 855.0 1127.0 860.0 1134.5 865.0 1142.0 869.9 1149.3 874.7 1156.4 879.5 1163.4 884.2 1170.3 889.1 1177.3 894.1 1184.5 899.3 1191.8 904.6 1199.2 909.9 1206.6 915.2 1213.9 920.5 1221.0 925.6 1228.0 930.8 1234.9 936.0 1241.9 941.5 1249.1 947.0 1256.5 952.7 1263.8 958.3 1271.0 963.7 1278.0 969.0 1284.7 M734.7 762.0 739.2 774.4 743.6 786.2 748.0 797.6 752.4 808.9 757.0 820.2 761.8 831.8 766.9 843.8 772.1 855.7 777.1 867.0 781.7 877.3 786.2 887.0 790.8 896.7 795.7 906.9 800.7 917.2 805.8 927.5 810.7 937.2 815.6 946.7 820.5 956.2 825.7 965.8 830.9 975.5 836.0 985.0 841.1 994.1 846.1 1003.0 851.1 1011.7 856.2 1020.5 861.2 1029.2 866.2 1037.5 870.9 1045.5 875.7 1053.3 880.6 1061.3 885.9 1069.8 891.3 1078.5 896.8 1087.1 902.0 1095.3 907.2 1103.2 912.2 1110.9 917.3 1118.6 922.4 1126.2 927.5 1133.7 932.6 1141.2 937.6 1148.4 942.5 1155.6 947.4 1162.5 952.3 1169.4 957.3 1176.4 962.4 1183.5 967.7 1190.8 973.1 1198.2 978.5 1205.6 984.0 1212.9 989.3 1220.0 994.6 1227.0 999.9 1233.9 1005.2 1240.9 1010.8 1248.1 1016.5 1255.4 1022.3 1262.7 1028.0 1269.9 1033.6 1276.9 1038.9 1283.5 M797.9 762.3 802.6 774.7 807.1 786.5 811.6 797.9 816.1 809.1 820.7 820.4 825.7 832.0 830.9 843.9 836.1 855.8 841.2 867.0 846.0 877.3 850.6 887.0 855.3 896.7 860.3 906.8 865.4 917.1 870.6 927.3 875.6 937.1 880.6 946.6 885.7 956.0 890.9 965.6 896.2 975.2 901.5 984.7 906.7 993.8 911.8 1002.6 916.9 1011.4 922.1 1020.1 927.3 1028.8 932.3 1037.1 937.2 1045.0 942.0 1052.8 947.1 1060.8 952.4 1069.3 958.0 1078.0 963.6 1086.6 969.0 1094.7 974.2 1102.6 979.4 1110.3 984.6 1118.0 989.8 1125.6 995.0 1133.1 1000.2 1140.5 1005.3 1147.7 1010.4 1154.8 1015.3 1161.8 1020.3 1168.7 1025.4 1175.6 1030.7 1182.8 1036.1 1190.1 1041.6 1197.4 1047.2 1204.8 1052.7 1212.1 1058.2 1219.2 1063.6 1226.1 1068.9 1233.0 1074.4 1240.0 1080.1 1247.1 1086.0 1254.4 1091.9 1261.8 1097.7 1268.9 1103.4 1275.9 1108.9 1282.5 M861.2 763.0 865.9 775.3 870.5 787.0 875.1 798.4 879.7 809.6 884.5 820.8 889.5 832.3 894.8 844.2 900.2 856.1 905.4 867.3 910.3 877.5 915.0 887.2 919.8 896.8 924.9 906.9 930.1 917.2 935.4 927.4 940.6 937.1 945.7 946.6 950.8 956.0 956.2 965.6 961.6 975.2 967.0 984.6 972.3 993.6 977.5 1002.5 982.7 1011.2 988.0 1019.9 993.3 1028.5 998.5 1036.9 1003.4 1044.8 1008.4 1052.5 1013.5 1060.5 1019.0 1069.0 1024.7 1077.6 1030.4 1086.2 1035.9 1094.3 1041.3 1102.2 1046.6 1109.9 1051.9 1117.5 1057.2 1125.1 1062.5 1132.6 1067.8 1140.0 1073.0 1147.2 1078.2 1154.3 1083.3 1161.2 1088.4 1168.1 1093.6 1175.0 1098.9 1182.1 1104.5 1189.4 1110.1 1196.7 1115.8 1204.1 1121.4 1211.3 1127.0 1218.5 1132.5 1225.4 1138.0 1232.3 1143.6 1239.2 1149.5 1246.4 1155.4 1253.6 1161.4 1260.9 1167.4 1268.1 1173.2 1275.1 1178.8 1281.7 M924.4 763.8 929.3 776.1 934.0 787.8 938.6 799.1 943.4 810.2 948.2 821.4 953.4 832.9 958.8 844.8 964.3 856.6 969.6 867.8 974.6 878.0 979.4 887.6 984.3 897.2 989.4 907.3 994.8 917.5 1000.2 927.7 1005.5 937.4 1010.7 946.8 1016.0 956.2 1021.4 965.7 1027.0 975.3 1032.5 984.7 1037.9 993.7 1043.2 1002.5 1048.5 1011.2 1053.9 1019.9 1059.3 1028.5 1064.6 1036.8 1069.7 1044.7 1074.7 1052.4 1080.0 1060.4 1085.6 1068.8 1091.4 1077.4 1097.2 1086.0 1102.9 1094.1 1108.3 1101.9 1113.7 1109.6 1119.1 1117.2 1124.6 1124.7 1130.0 1132.2 1135.4 1139.6 1140.7 1146.8 1146.0 1153.9 1151.2 1160.8 1156.4 1167.6 1161.7 1174.6 1167.2 1181.7 1172.8 1188.9 1178.6 1196.2 1184.4 1203.5 1190.2 1210.8 1195.9 1217.9 1201.5 1224.8 1207.1 1231.6 1212.8 1238.6 1218.8 1245.7 1224.9 1253.0 1231.0 1260.2 1237.1 1267.4 1243.1 1274.3 1248.8 1280.9 M987.7 764.9 992.6 777.1 997.4 788.8 1002.2 800.0 1007.0 811.1 1012.0 822.3 1017.2 833.7 1022.7 845.6 1028.4 857.3 1033.8 868.4 1038.9 878.6 1043.7 888.2 1048.7 897.8 1054.0 907.8 1059.5 918.1 1065.0 928.1 1070.4 937.8 1075.7 947.2 1081.1 956.5 1086.7 966.0 1092.3 975.6 1098.0 984.9 1103.5 993.9 1108.9 1002.7 1114.3 1011.4 1119.9 1020.1 1125.4 1028.6 1130.7 1036.9 1135.9 1044.7 1141.1 1052.5 1146.4 1060.4 1152.2 1068.8 1158.1 1077.4 1164.1 1085.9 1169.8 1094.0 1175.4 1101.8 1180.9 1109.4 1186.4 1117.0 1192.0 1124.6 1197.5 1132.0 1203.0 1139.4 1208.5 1146.6 1213.8 1153.6 1219.1 1160.5 1224.5 1167.3 1229.9 1174.2 1235.5 1181.3 1241.2 1188.5 1247.1 1195.8 1253.0 1203.1 1258.9 1210.3 1264.8 1217.4 1270.5 1224.3 1276.2 1231.1 1282.1 1238.0 1288.1 1245.2 1294.3 1252.4 1300.6 1259.6 1306.8 1266.8 1312.9 1273.7 1318.7 1280.3 M1050.9 766.2 1056.0 778.4 1060.9 790.0 1065.7 801.2 1070.6 812.3 1075.7 823.4 1081.0 834.8 1086.7 846.5 1092.4 858.2 1098.0 869.3 1103.1 879.5 1108.1 889.0 1113.2 898.6 1118.6 908.6 1124.2 918.8 1129.9 928.8 1135.3 938.4 1140.8 947.8 1146.3 957.1 1151.9 966.6 1157.7 976.1 1163.4 985.4 1169.0 994.4 1174.6 1003.1 1180.1 1011.7 1185.8 1020.4 1191.4 1028.9 1196.9 1037.1 1202.2 1045.0 1207.4 1052.7 1212.9 1060.6 1218.8 1069.0 1224.8 1077.5 1230.9 1086.0 1236.7 1094.1 1242.4 1101.9 1248.0 1109.5 1253.7 1117.0 1259.3 1124.5 1265.0 1132.0 1270.6 1139.3 1276.2 1146.5 1281.7 1153.5 1287.1 1160.4 1292.5 1167.2 1298.0 1174.0 1303.7 1181.1 1309.6 1188.3 1315.6 1195.6 1321.6 1202.9 1327.7 1210.1 1333.6 1217.1 1339.5 1224.0 1345.3 1230.8 1351.3 1237.7 1357.4 1244.8 1363.8 1252.0 1370.2 1259.2 1376.5 1266.3 1382.7 1273.2 1388.7 1279.8 M1114.2 767.8 1119.3 779.9 1124.3 791.5 1129.3 802.6 1134.3 813.7 1139.4 824.7 1144.9 836.1 1150.7 847.8 1156.5 859.4 1162.2 870.5 1167.4 880.5 1172.5 890.1 1177.7 899.6 1183.2 909.5 1189.0 919.7 1194.7 929.7 1200.3 939.2 1205.8 948.5 1211.4 957.8 1217.2 967.3 1223.1 976.7 1228.9 986.0 1234.6 995.0 1240.3 1003.7 1246.0 1012.3 1251.7 1020.9 1257.4 1029.4 1263.0 1037.6 1268.4 1045.4 1273.8 1053.1 1279.4 1061.0 1285.3 1069.3 1291.5 1077.8 1297.7 1086.3 1303.7 1094.3 1309.5 1102.1 1315.2 1109.6 1320.9 1117.2 1326.7 1124.7 1332.5 1132.1 1338.2 1139.4 1343.9 1146.5 1349.5 1153.5 1355.0 1160.4 1360.5 1167.1 1366.2 1174.0 1372.0 1181.0 1378.0 1188.2 1384.1 1195.5 1390.3 1202.7 1396.4 1209.9 1402.5 1216.9 1408.4 1223.8 1414.4 1230.6 1420.5 1237.4 1426.8 1244.5 1433.2 1251.7 1439.8 1258.9 1446.2 1266.0 1452.6 1272.9 1458.6 1279.4 M1177.4 769.6 1182.7 781.7 1187.8 793.2 1192.8 804.3 1197.9 815.3 1203.2 826.3 1208.7 837.6 1214.6 849.2 1220.6 860.8 1226.3 871.8 1231.7 881.8 1236.9 891.3 1242.2 900.8 1247.8 910.7 1253.7 920.8 1259.5 930.7 1265.2 940.3 1270.8 949.5 1276.5 958.8 1282.4 968.2 1288.4 977.6 1294.4 986.8 1300.2 995.7 1306.0 1004.4 1311.8 1013.0 1317.6 1021.6 1323.5 1030.0 1329.2 1038.2 1334.7 1046.0 1340.1 1053.6 1345.8 1061.5 1351.9 1069.8 1358.2 1078.3 1364.5 1086.7 1370.6 1094.7 1376.5 1102.4 1382.4 1110.0 1388.2 1117.5 1394.1 1124.9 1400.0 1132.3 1405.8 1139.6 1411.6 1146.7 1417.3 1153.7 1422.9 1160.5 1428.6 1167.3 1434.3 1174.1 1440.3 1181.1 1446.4 1188.3 1452.6 1195.5 1458.9 1202.7 1465.1 1209.9 1471.3 1216.9 1477.4 1223.7 1483.5 1230.5 1489.7 1237.3 1496.1 1244.3 1502.7 1251.5 1509.4 1258.7 1516.0 1265.8 1522.4 1272.6 1528.6 1279.1 M1240.7 771.7 1246.0 783.7 1251.2 795.1 1256.4 806.2 1261.6 817.1 1266.9 828.0 1272.6 839.3 1278.6 850.9 1284.7 862.4 1290.5 873.3 1296.0 883.3 1301.3 892.7 1306.7 902.2 1312.4 912.0 1318.4 922.1 1324.3 932.0 1330.1 941.5 1335.8 950.7 1341.7 959.9 1347.7 969.3 1353.8 978.6 1359.9 987.8 1365.8 996.7 1371.7 1005.3 1377.6 1013.9 1383.6 1022.4 1389.5 1030.9 1395.3 1039.0 1400.9 1046.7 1406.5 1054.3 1412.3 1062.2 1418.5 1070.4 1424.9 1078.9 1431.3 1087.3 1437.5 1095.3 1443.6 1103.0 1449.5 1110.5 1455.5 1117.9 1461.5 1125.4 1467.5 1132.7 1473.4 1140.0 1479.3 1147.1 1485.1 1154.0 1490.9 1160.8 1496.6 1167.6 1502.5 1174.4 1508.5 1181.4 1514.7 1188.5 1521.1 1195.7 1527.5 1202.9 1533.9 1210.0 1540.2 1217.0 1546.4 1223.8 1552.6 1230.5 1558.9 1237.3 1565.4 1244.3 1572.2 1251.5 1578.9 1258.6 1585.7 1265.7 1592.2 1272.5 1598.5 1279.0 M1303.9 774.0 1309.4 786.0 1314.7 797.3 1319.9 808.3 1325.2 819.1 1330.7 830.0 1336.4 841.2 1342.5 852.7 1348.7 864.2 1354.7 875.1 1360.3 885.0 1365.7 894.4 1371.2 903.8 1377.0 913.6 1383.1 923.6 1389.1 933.4 1395.0 942.9 1400.9 952.1 1406.8 961.2 1412.9 970.5 1419.2 979.9 1425.4 989.0 1431.4 997.9 1437.4 1006.5 1443.4 1015.0 1449.5 1023.5 1455.5 1031.8 1461.5 1039.9 1467.2 1047.7 1472.9 1055.2 1478.8 1063.0 1485.1 1071.3 1491.6 1079.7 1498.2 1088.0 1504.5 1096.0 1510.6 1103.6 1516.7 1111.1 1522.8 1118.6 1528.9 1126.0 1535.0 1133.3 1541.0 1140.5 1547.0 1147.6 1553.0 1154.5 1558.8 1161.3 1564.7 1168.0 1570.6 1174.8 1576.8 1181.7 1583.1 1188.8 1589.6 1196.0 1596.1 1203.1 1602.6 1210.2 1609.1 1217.2 1615.4 1224.0 1621.7 1230.7 1628.1 1237.5 1634.8 1244.5 1641.6 1251.6 1648.5 1258.7 1655.4 1265.7 1662.1 1272.5 1668.5 1279.0 M1367.2 776.6 1372.7 788.5 1378.1 799.7 1383.4 810.7 1388.8 821.4 1394.4 832.3 1400.3 843.4 1406.5 854.8 1412.8 866.2 1418.9 877.0 1424.6 886.9 1430.1 896.3 1435.6 905.6 1441.6 915.3 1447.8 925.3 1453.9 935.1 1460.0 944.5 1465.9 953.6 1472.0 962.7 1478.2 972.0 1484.5 981.3 1490.8 990.4 1497.0 999.2 1503.1 1007.7 1509.2 1016.2 1515.4 1024.7 1521.6 1033.0 1527.6 1041.1 1533.4 1048.7 1539.2 1056.3 1545.2 1064.1 1551.7 1072.2 1558.3 1080.6 1565.0 1088.9 1571.4 1096.9 1577.7 1104.5 1583.8 1111.9 1590.0 1119.3 1596.3 1126.7 1602.5 1134.0 1608.6 1141.2 1614.8 1148.2 1620.8 1155.1 1626.8 1161.9 1632.7 1168.5 1638.8 1175.3 1645.1 1182.2 1651.5 1189.3 1658.1 1196.4 1664.7 1203.6 1671.4 1210.6 1677.9 1217.6 1684.3 1224.3 1690.7 1231.0 1697.3 1237.8 1704.1 1244.7 1711.1 1251.8 1718.1 1258.9 1725.1 1265.9 1731.9 1272.7 1738.4 1279.1 M1430.4 779.4 1436.1 791.2 1441.6 802.4 1447.0 813.3 1452.5 824.0 1458.2 834.7 1464.1 845.8 1470.5 857.1 1476.9 868.5 1483.1 879.2 1488.9 889.1 1494.4 898.3 1500.1 907.6 1506.2 917.3 1512.5 927.2 1518.8 937.0 1524.9 946.3 1530.9 955.4 1537.1 964.5 1543.4 973.7 1549.9 982.9 1556.3 992.0 1562.6 1000.7 1568.8 1009.2 1575.0 1017.6 1581.3 1026.0 1587.6 1034.4 1593.8 1042.4 1599.7 1050.0 1605.6 1057.5 1611.7 1065.3 1618.2 1073.4 1625.0 1081.8 1631.8 1090.0 1638.3 1097.9 1644.7 1105.5 1651.0 1112.9 1657.3 1120.3 1663.6 1127.6 1670.0 1134.8 1676.3 1142.0 1682.5 1149.0 1688.6 1155.9 1694.7 1162.6 1700.7 1169.2 1706.9 1176.0 1713.3 1182.9 1719.9 1189.9 1726.6 1197.0 1733.4 1204.1 1740.1 1211.2 1746.8 1218.1 1753.3 1224.8 1759.8 1231.4 1766.5 1238.2 1773.4 1245.1 1780.5 1252.2 1787.7 1259.2 1794.8 1266.2 1801.7 1272.9 1808.4 1279.3 M1493.7 782.4 1499.4 794.2 1505.0 805.3 1510.5 816.1 1516.1 826.7 1521.9 837.4 1528.0 848.4 1534.4 859.7 1540.9 870.9 1547.3 881.6 1553.1 891.4 1558.8 900.6 1564.6 909.8 1570.8 919.5 1577.2 929.3 1583.6 939.0 1589.8 948.3 1596.0 957.3 1602.2 966.3 1608.7 975.5 1615.3 984.7 1621.8 993.7 1628.2 1002.4 1634.5 1010.9 1640.8 1019.2 1647.3 1027.6 1653.7 1035.9 1659.9 1043.8 1665.9 1051.4 1671.9 1058.9 1678.2 1066.6 1684.8 1074.7 1691.7 1083.0 1698.6 1091.2 1705.3 1099.1 1711.8 1106.6 1718.2 1114.0 1724.6 1121.3 1731.0 1128.6 1737.5 1135.9 1743.9 1143.0 1750.2 1150.0 1756.5 1156.8 1762.6 1163.5 1768.8 1170.1 1775.1 1176.8 1781.6 1183.7 1788.3 1190.7 1795.1 1197.7 1802.0 1204.8 1808.8 1211.8 1815.6 1218.7 1822.3 1225.4 1828.9 1232.0 1835.7 1238.7 1842.8 1245.6 1850.0 1252.6 1857.3 1259.7 1864.5 1266.6 1871.6 1273.3 1878.3 1279.7 M1556.9 785.7 1562.8 797.4 1568.5 808.4 1574.1 819.1 1579.8 829.7 1585.6 840.3 1591.8 851.2 1598.4 862.4 1605.0 873.6 1611.4 884.2 1617.4 893.9 1623.2 903.1 1629.1 912.3 1635.4 921.8 1641.9 931.6 1648.4 941.3 1654.7 950.5 1661.0 959.5 1667.4 968.4 1674.0 977.5 1680.6 986.7 1687.3 995.6 1693.8 1004.3 1700.2 1012.7 1706.7 1021.0 1713.2 1029.3 1719.7 1037.6 1726.1 1045.5 1732.2 1053.1 1738.3 1060.5 1744.6 1068.1 1751.4 1076.2 1758.4 1084.5 1765.4 1092.6 1772.2 1100.4 1778.8 1107.9 1785.3 1115.3 1791.9 1122.6 1798.4 1129.8 1805.0 1137.0 1811.5 1144.1 1817.9 1151.1 1824.3 1157.9 1830.6 1164.5 1836.8 1171.1 1843.2 1177.8 1849.8 1184.6 1856.7 1191.6 1863.6 1198.6 1870.6 1205.6 1877.6 1212.6 1884.5 1219.5 1891.3 1226.1 1898.0 1232.7 1904.9 1239.4 1912.1 1246.3 1919.4 1253.2 1926.9 1260.2 1934.2 1267.1 1941.4 1273.8 1948.3 1280.2 M1620.2 789.3 1626.1 800.8 1631.9 811.8 1637.6 822.4 1643.4 832.9 1649.4 843.5 1655.7 854.3 1662.3 865.4 1669.1 876.5 1675.6 887.1 1681.7 896.7 1687.6 905.8 1693.6 914.9 1700.0 924.4 1706.6 934.1 1713.2 943.7 1719.7 952.9 1726.0 961.8 1732.5 970.7 1739.2 979.8 1746.0 988.8 1752.8 997.7 1759.4 1006.3 1765.9 1014.7 1772.5 1023.0 1779.1 1031.3 1785.7 1039.4 1792.2 1047.3 1798.4 1054.8 1804.6 1062.2 1811.1 1069.8 1818.0 1077.8 1825.1 1086.1 1832.3 1094.2 1839.1 1101.9 1845.8 1109.4 1852.5 1116.7 1859.1 1124.0 1865.8 1131.2 1872.5 1138.3 1879.1 1145.4 1885.6 1152.3 1892.1 1159.1 1898.5 1165.7 1904.9 1172.2 1911.4 1178.9 1918.1 1185.7 1925.0 1192.6 1932.1 1199.6 1939.2 1206.6 1946.3 1213.6 1953.3 1220.4 1960.2 1227.0 1967.1 1233.5 1974.1 1240.2 1981.4 1247.0 1988.9 1254.0 1996.4 1260.9 2003.9 1267.8 2011.2 1274.5 2018.2 1280.8 M1683.4 793.1 1689.5 804.5 1695.4 815.4 1701.2 826.0 1707.0 836.4 1713.1 846.8 1719.5 857.6 1726.3 868.6 1733.2 879.6 1739.8 890.1 1746.0 899.7 1752.0 908.7 1758.1 917.8 1764.6 927.2 1771.3 936.9 1778.0 946.4 1784.6 955.5 1791.1 964.3 1797.7 973.2 1804.5 982.2 1811.4 991.2 1818.3 1000.0 1825.0 1008.6 1831.6 1016.9 1838.3 1025.1 1845.0 1033.3 1851.8 1041.5 1858.3 1049.3 1864.7 1056.8 1871.0 1064.1 1877.5 1071.7 1884.6 1079.7 1891.8 1087.8 1899.1 1095.9 1906.1 1103.6 1912.9 1111.0 1919.6 1118.3 1926.4 1125.5 1933.2 1132.7 1939.9 1139.8 1946.7 1146.8 1953.4 1153.7 1959.9 1160.4 1966.4 1167.0 1972.9 1173.5 1979.5 1180.1 1986.4 1186.9 1993.4 1193.8 2000.6 1200.8 2007.8 1207.7 2015.1 1214.6 2022.2 1221.4 2029.2 1228.0 2036.2 1234.5 2043.3 1241.1 2050.7 1247.9 2058.3 1254.9 2066.0 1261.8 2073.6 1268.6 2081.1 1275.2 2088.2 1281.5" fill="none" stroke="#00ad85" stroke-width="3.4"/>
<path d="M416.5 508.0 437.4 508.1 458.2 508.2 479.1 508.3 499.9 508.5 520.8 508.8 541.6 509.1 562.5 509.5 583.3 509.9 604.2 510.4 625.0 510.9 645.9 511.6 666.7 512.3 687.6 513.0 708.4 513.8 729.3 514.7 750.1 515.7 771.0 516.8 791.8 517.9 812.7 519.1 833.5 520.4 854.4 521.8 875.2 523.3 896.1 524.9 916.9 526.5 937.8 528.3 958.6 530.2 979.5 532.1 1000.3 534.2 1021.2 536.3 1042.0 538.6 1062.9 541.0 1083.7 543.4 1104.6 546.0 1125.4 548.7 1146.3 551.6 1167.1 554.5 1188.0 557.6 1208.8 560.7 1229.7 564.0 1250.5 567.5 1271.4 571.0 1292.2 574.7 1313.1 578.6 1333.9 582.5 1354.8 586.6 1375.6 590.9 1396.5 595.2 1417.3 599.8 1438.2 604.4 1459.0 609.2 1479.9 614.2 1500.7 619.3 1521.6 624.6 1542.4 630.0 1563.3 635.6 1584.1 641.3 1605.0 647.2 1625.8 653.3 1646.7 659.6 1667.5 666.0 1667.5 666.0 1671.2 678.0 1675.3 690.0 1680.9 702.1 1688.0 714.0 1695.6 725.9 1702.8 737.6 1709.3 749.1 1715.6 760.4 1722.0 771.7 1728.4 782.9 1734.8 794.0 1741.3 805.1 1747.8 816.1 1754.2 826.8 1760.3 837.1 1766.2 846.8 1772.0 856.4 1778.1 866.0 1784.6 876.2 1791.4 886.5 1798.3 896.7 1805.1 906.3 1811.9 915.6 1818.6 924.7 1825.3 933.5 1832.1 942.3 1838.9 951.0 1845.6 959.5 1852.4 968.1 1859.3 976.8 1866.5 985.7 1873.8 994.7 1881.0 1003.4 1888.2 1011.8 1895.3 1020.0 1902.6 1028.1 1910.4 1036.4 1918.5 1044.7 1926.8 1052.9 1935.0 1061.0 1943.2 1068.9 1951.4 1076.8 1959.7 1084.8 1968.0 1092.7 1976.4 1100.6 1984.5 1108.3 1992.7 1115.9 2001.1 1123.6 2009.9 1131.3 2019.3 1139.1 2028.7 1146.6 2037.6 1153.8 2045.8 1160.7 2053.1 1167.6 2059.4 1174.6 2065.4 1181.6 2071.3 1188.8 2077.0 1195.9 2082.5 1203.0 2087.6 1210.2 2087.6 1210.2 2064.3 1207.4 2040.9 1204.8 2017.6 1202.2 1994.2 1199.8 1970.9 1197.4 1947.6 1195.1 1924.2 1192.9 1900.9 1190.8 1877.5 1188.7 1854.2 1186.8 1830.8 1184.9 1807.5 1183.1 1784.2 1181.3 1760.8 1179.7 1737.5 1178.1 1714.1 1176.6 1690.8 1175.1 1667.5 1173.8 1644.1 1172.5 1620.8 1171.2 1597.4 1170.0 1574.1 1168.9 1550.7 1167.9 1527.4 1166.9 1504.1 1166.0 1480.7 1165.1 1457.4 1164.3 1434.0 1163.5 1410.7 1162.8 1387.4 1162.1 1364.0 1161.5 1340.7 1161.0 1317.3 1160.5 1294.0 1160.0 1270.6 1159.6 1247.3 1159.2 1224.0 1158.9 1200.6 1158.6 1177.3 1158.4 1153.9 1158.2 1130.6 1158.0 1107.3 1157.9 1083.9 1157.8 1060.6 1157.7 1037.2 1157.7 1013.9 1157.7 990.5 1157.7 967.2 1157.7 943.9 1157.8 920.5 1157.9 897.2 1158.0 873.8 1158.2 850.5 1158.4 827.2 1158.5 803.8 1158.8 780.5 1159.0 757.1 1159.2 733.8 1159.5 710.4 1159.7 687.1 1160.0 687.1 1160.0 682.2 1151.8 677.4 1143.5 672.5 1135.3 667.8 1127.1 663.1 1118.9 658.5 1110.9 654.0 1103.0 649.5 1094.9 644.8 1086.6 640.0 1077.8 635.0 1068.8 630.1 1059.7 625.3 1050.8 620.6 1041.9 615.8 1032.9 611.0 1023.7 606.1 1014.3 601.3 1004.9 596.6 995.6 591.9 986.3 587.3 976.9 582.5 967.2 577.7 957.4 573.0 947.6 568.4 938.0 563.9 928.3 559.3 918.4 554.5 908.0 549.7 897.3 544.9 886.7 540.3 876.3 535.9 866.2 531.5 856.0 527.2 845.7 522.8 835.2 518.4 824.6 514.0 813.8 509.5 802.7 504.9 791.0 500.2 778.7 495.4 766.3 490.9 754.0 486.5 742.3 482.4 730.8 478.2 719.0 473.9 706.5 469.4 693.4 465.0 680.0 460.5 666.4 456.2 652.8 451.9 639.0 447.7 625.2 443.6 611.2 439.5 597.0 435.5 582.5 431.5 567.9 427.6 553.0 423.8 538.0 420.1 523.0 416.5 508.0Z" fill="#ecebe4"/>
<path d="M416.5 508.0 437.4 508.1 458.2 508.2 479.1 508.3 499.9 508.5 520.8 508.8 541.6 509.1 562.5 509.5 583.3 509.9 604.2 510.4 625.0 510.9 645.9 511.6 666.7 512.3 687.6 513.0 708.4 513.8 729.3 514.7 750.1 515.7 771.0 516.8 791.8 517.9 812.7 519.1 833.5 520.4 854.4 521.8 875.2 523.3 896.1 524.9 916.9 526.5 937.8 528.3 958.6 530.2 979.5 532.1 1000.3 534.2 1021.2 536.3 1042.0 538.6 1062.9 541.0 1083.7 543.4 1104.6 546.0 1125.4 548.7 1146.3 551.6 1167.1 554.5 1188.0 557.6 1208.8 560.7 1229.7 564.0 1250.5 567.5 1271.4 571.0 1292.2 574.7 1313.1 578.6 1333.9 582.5 1354.8 586.6 1375.6 590.9 1396.5 595.2 1417.3 599.8 1438.2 604.4 1459.0 609.2 1479.9 614.2 1500.7 619.3 1521.6 624.6 1542.4 630.0 1563.3 635.6 1584.1 641.3 1605.0 647.2 1625.8 653.3 1646.7 659.6 1667.5 666.0 M427.6 553.0 448.5 553.0 469.4 553.1 490.3 553.2 511.2 553.4 532.0 553.6 552.9 553.9 573.8 554.2 594.7 554.6 615.6 555.1 636.5 555.6 657.4 556.1 678.3 556.7 699.1 557.4 720.0 558.2 740.9 559.0 761.8 559.9 782.7 560.9 803.6 562.0 824.5 563.1 845.4 564.3 866.2 565.6 887.1 567.0 908.0 568.4 928.9 570.0 949.8 571.6 970.7 573.4 991.6 575.2 1012.5 577.1 1033.3 579.2 1054.2 581.3 1075.1 583.5 1096.0 585.8 1116.9 588.3 1137.8 590.8 1158.7 593.5 1179.6 596.3 1200.4 599.2 1221.3 602.2 1242.2 605.3 1263.1 608.5 1284.0 611.9 1304.9 615.4 1325.8 619.0 1346.7 622.8 1367.5 626.7 1388.4 630.7 1409.3 634.8 1430.2 639.1 1451.1 643.5 1472.0 648.1 1492.9 652.8 1513.8 657.7 1534.6 662.7 1555.5 667.9 1576.4 673.2 1597.3 678.6 1618.2 684.2 1639.1 690.0 1660.0 696.0 1680.9 702.1 M439.5 597.0 460.6 597.0 481.6 597.1 502.7 597.2 523.7 597.3 544.8 597.5 565.9 597.7 586.9 598.0 608.0 598.3 629.0 598.7 650.1 599.2 671.1 599.7 692.2 600.3 713.2 600.9 734.3 601.6 755.3 602.3 776.4 603.2 797.5 604.1 818.5 605.0 839.6 606.1 860.6 607.2 881.7 608.4 902.7 609.7 923.8 611.1 944.8 612.5 965.9 614.0 986.9 615.7 1008.0 617.4 1029.1 619.2 1050.1 621.1 1071.2 623.1 1092.2 625.2 1113.3 627.4 1134.3 629.7 1155.4 632.1 1176.4 634.6 1197.5 637.2 1218.5 639.9 1239.6 642.7 1260.7 645.7 1281.7 648.8 1302.8 651.9 1323.8 655.2 1344.9 658.7 1365.9 662.2 1387.0 665.9 1408.0 669.7 1429.1 673.6 1450.1 677.7 1471.2 681.9 1492.3 686.3 1513.3 690.7 1534.4 695.3 1555.4 700.1 1576.5 705.0 1597.5 710.1 1618.6 715.3 1639.6 720.6 1660.7 726.1 1681.7 731.8 1702.8 737.6 M451.9 639.0 473.1 639.0 494.3 639.0 515.4 639.1 536.6 639.2 557.8 639.3 578.9 639.5 600.1 639.8 621.3 640.1 642.4 640.4 663.6 640.8 684.8 641.3 705.9 641.8 727.1 642.4 748.3 643.0 769.4 643.7 790.6 644.5 811.8 645.3 832.9 646.2 854.1 647.2 875.3 648.2 896.4 649.3 917.6 650.5 938.8 651.8 960.0 653.1 981.1 654.6 1002.3 656.1 1023.5 657.7 1044.6 659.4 1065.8 661.1 1087.0 663.0 1108.1 665.0 1129.3 667.0 1150.5 669.2 1171.6 671.5 1192.8 673.8 1214.0 676.3 1235.1 678.9 1256.3 681.5 1277.5 684.3 1298.6 687.2 1319.8 690.3 1341.0 693.4 1362.1 696.6 1383.3 700.0 1404.5 703.5 1425.6 707.1 1446.8 710.8 1468.0 714.7 1489.2 718.7 1510.3 722.8 1531.5 727.1 1552.7 731.5 1573.8 736.0 1595.0 740.6 1616.2 745.4 1637.3 750.4 1658.5 755.5 1679.7 760.7 1700.8 766.1 1722.0 771.7 M465.0 680.0 486.2 680.0 507.5 680.0 528.8 680.0 550.0 680.1 571.3 680.2 592.6 680.4 613.9 680.6 635.1 680.8 656.4 681.1 677.7 681.5 698.9 681.9 720.2 682.4 741.5 682.9 762.8 683.5 784.0 684.1 805.3 684.8 826.6 685.5 847.8 686.4 869.1 687.3 890.4 688.2 911.7 689.3 932.9 690.4 954.2 691.5 975.5 692.8 996.8 694.1 1018.0 695.5 1039.3 697.0 1060.6 698.6 1081.8 700.3 1103.1 702.1 1124.4 703.9 1145.7 705.8 1166.9 707.9 1188.2 710.0 1209.5 712.2 1230.7 714.5 1252.0 717.0 1273.3 719.5 1294.6 722.1 1315.8 724.9 1337.1 727.7 1358.4 730.7 1379.6 733.8 1400.9 737.0 1422.2 740.3 1443.5 743.7 1464.7 747.2 1486.0 750.9 1507.3 754.7 1528.5 758.6 1549.8 762.6 1571.1 766.8 1592.4 771.1 1613.6 775.6 1634.9 780.1 1656.2 784.8 1677.4 789.7 1698.7 794.7 1720.0 799.8 1741.3 805.1 M478.2 719.0 499.6 718.9 521.0 718.9 542.3 718.9 563.7 719.0 585.1 719.1 606.4 719.2 627.8 719.4 649.2 719.6 670.5 719.9 691.9 720.2 713.3 720.5 734.6 721.0 756.0 721.4 777.4 721.9 798.8 722.5 820.1 723.2 841.5 723.8 862.9 724.6 884.2 725.4 905.6 726.3 927.0 727.3 948.3 728.3 969.7 729.4 991.1 730.6 1012.4 731.8 1033.8 733.1 1055.2 734.5 1076.5 736.0 1097.9 737.6 1119.3 739.2 1140.7 741.0 1162.0 742.8 1183.4 744.7 1204.8 746.7 1226.1 748.8 1247.5 751.0 1268.9 753.3 1290.2 755.7 1311.6 758.2 1333.0 760.8 1354.3 763.5 1375.7 766.3 1397.1 769.2 1418.4 772.2 1439.8 775.3 1461.2 778.6 1482.6 782.0 1503.9 785.4 1525.3 789.1 1546.7 792.8 1568.0 796.6 1589.4 800.6 1610.8 804.7 1632.1 808.9 1653.5 813.3 1674.9 817.8 1696.2 822.4 1717.6 827.2 1739.0 832.1 1760.3 837.1 M490.9 754.0 512.3 753.9 533.8 753.9 555.2 753.9 576.7 753.9 598.1 754.0 619.6 754.1 641.0 754.2 662.5 754.4 683.9 754.6 705.4 754.9 726.8 755.2 748.3 755.6 769.7 756.0 791.2 756.5 812.7 757.0 834.1 757.6 855.6 758.2 877.0 758.9 898.5 759.7 919.9 760.5 941.4 761.4 962.8 762.4 984.3 763.4 1005.7 764.5 1027.2 765.7 1048.6 766.9 1070.1 768.2 1091.6 769.6 1113.0 771.1 1134.5 772.6 1155.9 774.3 1177.4 776.0 1198.8 777.8 1220.3 779.7 1241.7 781.7 1263.2 783.8 1284.6 786.0 1306.1 788.2 1327.5 790.6 1349.0 793.1 1370.4 795.6 1391.9 798.3 1413.4 801.1 1434.8 804.0 1456.3 806.9 1477.7 810.0 1499.2 813.3 1520.6 816.6 1542.1 820.0 1563.5 823.6 1585.0 827.3 1606.4 831.1 1627.9 835.0 1649.3 839.0 1670.8 843.2 1692.2 847.5 1713.7 851.9 1735.2 856.5 1756.6 861.2 1778.1 866.0 M504.9 791.0 526.5 790.9 548.1 790.9 569.6 790.8 591.2 790.8 612.7 790.9 634.3 790.9 655.8 791.0 677.4 791.2 698.9 791.4 720.5 791.6 742.1 791.9 763.6 792.2 785.2 792.6 806.7 793.0 828.3 793.5 849.8 794.0 871.4 794.6 892.9 795.2 914.5 795.9 936.1 796.7 957.6 797.5 979.2 798.4 1000.7 799.3 1022.3 800.4 1043.8 801.4 1065.4 802.6 1086.9 803.8 1108.5 805.1 1130.1 806.5 1151.6 808.0 1173.2 809.5 1194.7 811.1 1216.3 812.8 1237.8 814.6 1259.4 816.5 1281.0 818.4 1302.5 820.5 1324.1 822.6 1345.6 824.9 1367.2 827.2 1388.7 829.6 1410.3 832.2 1431.8 834.8 1453.4 837.5 1475.0 840.4 1496.5 843.3 1518.1 846.4 1539.6 849.5 1561.2 852.8 1582.7 856.2 1604.3 859.7 1625.8 863.3 1647.4 867.0 1669.0 870.9 1690.5 874.9 1712.1 879.0 1733.6 883.2 1755.2 887.6 1776.7 892.0 1798.3 896.7 M518.4 824.6 540.1 824.5 561.7 824.4 583.4 824.4 605.1 824.3 626.7 824.4 648.4 824.4 670.1 824.5 691.8 824.6 713.4 824.8 735.1 825.0 756.8 825.2 778.4 825.5 800.1 825.8 821.8 826.2 843.4 826.6 865.1 827.1 886.8 827.6 908.5 828.2 930.1 828.9 951.8 829.6 973.5 830.3 995.1 831.1 1016.8 832.0 1038.5 833.0 1060.1 834.0 1081.8 835.1 1103.5 836.2 1125.2 837.4 1146.8 838.7 1168.5 840.1 1190.2 841.5 1211.8 843.1 1233.5 844.7 1255.2 846.4 1276.8 848.1 1298.5 850.0 1320.2 851.9 1341.9 854.0 1363.5 856.1 1385.2 858.3 1406.9 860.6 1428.5 863.0 1450.2 865.5 1471.9 868.1 1493.5 870.8 1515.2 873.6 1536.9 876.5 1558.6 879.6 1580.2 882.7 1601.9 885.9 1623.6 889.3 1645.2 892.7 1666.9 896.3 1688.6 900.0 1710.2 903.8 1731.9 907.7 1753.6 911.8 1775.3 915.9 1796.9 920.2 1818.6 924.7 M531.5 856.0 553.3 855.9 575.1 855.8 596.9 855.7 618.7 855.7 640.5 855.7 662.3 855.7 684.1 855.7 705.8 855.8 727.6 856.0 749.4 856.1 771.2 856.3 793.0 856.6 814.8 856.9 836.6 857.2 858.4 857.6 880.2 858.0 901.9 858.5 923.7 859.0 945.5 859.6 967.3 860.3 989.1 861.0 1010.9 861.7 1032.7 862.6 1054.5 863.4 1076.3 864.4 1098.0 865.4 1119.8 866.5 1141.6 867.6 1163.4 868.9 1185.2 870.2 1207.0 871.5 1228.8 873.0 1250.6 874.5 1272.4 876.1 1294.1 877.8 1315.9 879.5 1337.7 881.4 1359.5 883.3 1381.3 885.3 1403.1 887.4 1424.9 889.6 1446.7 891.9 1468.5 894.3 1490.2 896.8 1512.0 899.4 1533.8 902.1 1555.6 904.8 1577.4 907.7 1599.2 910.7 1621.0 913.8 1642.8 917.0 1664.5 920.3 1686.3 923.7 1708.1 927.3 1729.9 930.9 1751.7 934.7 1773.5 938.6 1795.3 942.6 1817.1 946.7 1838.9 951.0 M544.9 886.7 566.8 886.6 588.7 886.5 610.6 886.4 632.5 886.3 654.5 886.3 676.4 886.3 698.3 886.3 720.2 886.4 742.1 886.5 764.0 886.6 785.9 886.8 807.8 887.0 829.7 887.2 851.6 887.5 873.5 887.9 895.4 888.3 917.3 888.7 939.2 889.2 961.1 889.7 983.0 890.3 1005.0 891.0 1026.9 891.7 1048.8 892.4 1070.7 893.3 1092.6 894.2 1114.5 895.1 1136.4 896.1 1158.3 897.2 1180.2 898.3 1202.1 899.6 1224.0 900.8 1245.9 902.2 1267.8 903.6 1289.7 905.2 1311.6 906.7 1333.5 908.4 1355.5 910.2 1377.4 912.0 1399.3 913.9 1421.2 915.9 1443.1 918.0 1465.0 920.2 1486.9 922.5 1508.8 924.9 1530.7 927.3 1552.6 929.9 1574.5 932.5 1596.4 935.3 1618.3 938.2 1640.2 941.1 1662.1 944.2 1684.1 947.4 1706.0 950.6 1727.9 954.0 1749.8 957.5 1771.7 961.1 1793.6 964.9 1815.5 968.7 1837.4 972.7 1859.3 976.8 M559.3 918.4 581.3 918.2 603.3 918.1 625.4 918.0 647.4 917.9 669.4 917.9 691.5 917.9 713.5 917.9 735.5 917.9 757.5 918.0 779.6 918.1 801.6 918.2 823.6 918.4 845.7 918.6 867.7 918.9 889.7 919.2 911.8 919.5 933.8 919.9 955.8 920.3 977.8 920.8 999.9 921.4 1021.9 922.0 1043.9 922.6 1066.0 923.3 1088.0 924.1 1110.0 924.9 1132.0 925.8 1154.1 926.7 1176.1 927.7 1198.1 928.8 1220.2 929.9 1242.2 931.1 1264.2 932.4 1286.3 933.8 1308.3 935.2 1330.3 936.7 1352.3 938.3 1374.4 939.9 1396.4 941.7 1418.4 943.5 1440.5 945.4 1462.5 947.4 1484.5 949.4 1506.5 951.6 1528.6 953.8 1550.6 956.2 1572.6 958.6 1594.7 961.2 1616.7 963.8 1638.7 966.5 1660.7 969.3 1682.8 972.3 1704.8 975.3 1726.8 978.4 1748.9 981.7 1770.9 985.0 1792.9 988.5 1815.0 992.0 1837.0 995.7 1859.0 999.5 1881.0 1003.4 M573.0 947.6 595.2 947.4 617.3 947.3 639.5 947.2 661.6 947.1 683.8 947.0 706.0 946.9 728.1 946.9 750.3 946.9 772.4 947.0 794.6 947.0 816.8 947.2 838.9 947.3 861.1 947.5 883.2 947.7 905.4 948.0 927.6 948.3 949.7 948.6 971.9 949.0 994.0 949.5 1016.2 950.0 1038.4 950.5 1060.5 951.1 1082.7 951.7 1104.8 952.4 1127.0 953.2 1149.2 954.0 1171.3 954.9 1193.5 955.8 1215.6 956.9 1237.8 957.9 1260.0 959.1 1282.1 960.3 1304.3 961.5 1326.4 962.9 1348.6 964.3 1370.8 965.8 1392.9 967.4 1415.1 969.0 1437.2 970.7 1459.4 972.5 1481.6 974.4 1503.7 976.4 1525.9 978.5 1548.0 980.6 1570.2 982.9 1592.4 985.2 1614.5 987.6 1636.7 990.1 1658.8 992.7 1681.0 995.4 1703.2 998.2 1725.3 1001.1 1747.5 1004.1 1769.6 1007.2 1791.8 1010.4 1814.0 1013.8 1836.1 1017.2 1858.3 1020.7 1880.4 1024.4 1902.6 1028.1 M587.3 976.9 609.6 976.7 631.9 976.6 654.2 976.4 676.6 976.3 698.9 976.2 721.2 976.1 743.5 976.1 765.9 976.1 788.2 976.1 810.5 976.1 832.8 976.2 855.2 976.3 877.5 976.5 899.8 976.7 922.1 976.9 944.5 977.1 966.8 977.5 989.1 977.8 1011.4 978.2 1033.8 978.7 1056.1 979.1 1078.4 979.7 1100.7 980.3 1123.1 980.9 1145.4 981.6 1167.7 982.4 1190.0 983.2 1212.4 984.1 1234.7 985.0 1257.0 986.0 1279.3 987.1 1301.7 988.2 1324.0 989.4 1346.3 990.7 1368.7 992.0 1391.0 993.4 1413.3 994.9 1435.6 996.5 1458.0 998.1 1480.3 999.8 1502.6 1001.6 1524.9 1003.5 1547.3 1005.5 1569.6 1007.5 1591.9 1009.6 1614.2 1011.8 1636.6 1014.1 1658.9 1016.5 1681.2 1019.0 1703.5 1021.6 1725.9 1024.3 1748.2 1027.1 1770.5 1029.9 1792.8 1032.9 1815.2 1036.0 1837.5 1039.2 1859.8 1042.5 1882.1 1045.8 1904.5 1049.3 1926.8 1052.9 M601.3 1004.9 623.8 1004.7 646.3 1004.5 668.8 1004.4 691.3 1004.2 713.8 1004.1 736.3 1004.0 758.8 1004.0 781.3 1003.9 803.8 1003.9 826.3 1003.9 848.8 1004.0 871.3 1004.1 893.8 1004.2 916.3 1004.3 938.8 1004.5 961.3 1004.7 983.8 1005.0 1006.3 1005.3 1028.8 1005.7 1051.3 1006.1 1073.8 1006.5 1096.3 1007.0 1118.8 1007.6 1141.3 1008.2 1163.8 1008.8 1186.3 1009.5 1208.8 1010.3 1231.3 1011.1 1253.9 1012.0 1276.4 1012.9 1298.9 1013.9 1321.4 1015.0 1343.9 1016.1 1366.4 1017.3 1388.9 1018.6 1411.4 1019.9 1433.9 1021.3 1456.4 1022.8 1478.9 1024.3 1501.4 1025.9 1523.9 1027.7 1546.4 1029.4 1568.9 1031.3 1591.4 1033.2 1613.9 1035.3 1636.4 1037.4 1658.9 1039.6 1681.4 1041.9 1703.9 1044.3 1726.4 1046.7 1748.9 1049.3 1771.4 1051.9 1793.9 1054.7 1816.4 1057.5 1838.9 1060.5 1861.4 1063.5 1883.9 1066.7 1906.4 1069.9 1928.9 1073.3 1951.4 1076.8 M615.8 1032.9 638.5 1032.7 661.2 1032.5 683.8 1032.3 706.5 1032.2 729.2 1032.0 751.9 1031.9 774.5 1031.8 797.2 1031.8 819.9 1031.7 842.6 1031.7 865.2 1031.7 887.9 1031.8 910.6 1031.9 933.3 1032.0 956.0 1032.2 978.6 1032.3 1001.3 1032.6 1024.0 1032.8 1046.7 1033.2 1069.3 1033.5 1092.0 1033.9 1114.7 1034.4 1137.4 1034.9 1160.0 1035.4 1182.7 1036.0 1205.4 1036.7 1228.1 1037.4 1250.7 1038.1 1273.4 1038.9 1296.1 1039.8 1318.8 1040.7 1341.4 1041.7 1364.1 1042.8 1386.8 1043.9 1409.5 1045.1 1432.1 1046.4 1454.8 1047.7 1477.5 1049.1 1500.2 1050.5 1522.8 1052.1 1545.5 1053.7 1568.2 1055.4 1590.9 1057.2 1613.5 1059.0 1636.2 1060.9 1658.9 1062.9 1681.6 1065.0 1704.2 1067.2 1726.9 1069.5 1749.6 1071.9 1772.3 1074.3 1794.9 1076.8 1817.6 1079.5 1840.3 1082.2 1863.0 1085.0 1885.7 1087.9 1908.3 1091.0 1931.0 1094.1 1953.7 1097.3 1976.4 1100.6 M630.1 1059.7 653.0 1059.5 675.8 1059.3 698.7 1059.1 721.5 1058.9 744.4 1058.8 767.2 1058.6 790.1 1058.5 812.9 1058.4 835.8 1058.4 858.6 1058.3 881.5 1058.3 904.3 1058.3 927.2 1058.4 950.0 1058.5 972.9 1058.6 995.7 1058.8 1018.6 1059.0 1041.4 1059.2 1064.3 1059.5 1087.1 1059.8 1110.0 1060.1 1132.8 1060.6 1155.7 1061.0 1178.5 1061.5 1201.4 1062.0 1224.2 1062.6 1247.1 1063.3 1269.9 1064.0 1292.8 1064.8 1315.6 1065.6 1338.5 1066.4 1361.3 1067.4 1384.2 1068.4 1407.0 1069.4 1429.9 1070.5 1452.7 1071.7 1475.6 1073.0 1498.4 1074.3 1521.3 1075.7 1544.1 1077.1 1567.0 1078.7 1589.8 1080.3 1612.7 1082.0 1635.5 1083.7 1658.4 1085.6 1681.2 1087.5 1704.1 1089.5 1726.9 1091.6 1749.8 1093.7 1772.6 1096.0 1795.5 1098.3 1818.3 1100.7 1841.2 1103.3 1864.0 1105.9 1886.9 1108.6 1909.7 1111.4 1932.6 1114.3 1955.4 1117.3 1978.3 1120.4 2001.1 1123.6 M644.8 1086.6 667.9 1086.4 691.0 1086.1 714.0 1085.9 737.1 1085.7 760.2 1085.6 783.2 1085.4 806.3 1085.3 829.4 1085.2 852.4 1085.1 875.5 1085.0 898.6 1085.0 921.6 1085.0 944.7 1085.0 967.7 1085.1 990.8 1085.2 1013.9 1085.3 1036.9 1085.5 1060.0 1085.6 1083.1 1085.9 1106.1 1086.2 1129.2 1086.5 1152.3 1086.8 1175.3 1087.2 1198.4 1087.7 1221.5 1088.2 1244.5 1088.7 1267.6 1089.3 1290.7 1090.0 1313.7 1090.7 1336.8 1091.4 1359.9 1092.2 1382.9 1093.1 1406.0 1094.0 1429.0 1095.0 1452.1 1096.1 1475.2 1097.2 1498.2 1098.4 1521.3 1099.6 1544.4 1100.9 1567.4 1102.3 1590.5 1103.7 1613.6 1105.3 1636.6 1106.9 1659.7 1108.5 1682.8 1110.3 1705.8 1112.1 1728.9 1114.0 1752.0 1116.0 1775.0 1118.1 1798.1 1120.2 1821.2 1122.4 1844.2 1124.8 1867.3 1127.2 1890.3 1129.7 1913.4 1132.3 1936.5 1134.9 1959.5 1137.7 1982.6 1140.6 2005.7 1143.6 2028.7 1146.6 M658.5 1110.9 681.7 1110.7 705.0 1110.4 728.2 1110.2 751.5 1110.0 774.7 1109.8 798.0 1109.6 821.2 1109.5 844.5 1109.4 867.7 1109.2 890.9 1109.2 914.2 1109.1 937.4 1109.1 960.7 1109.1 983.9 1109.1 1007.2 1109.2 1030.4 1109.3 1053.6 1109.4 1076.9 1109.6 1100.1 1109.8 1123.4 1110.0 1146.6 1110.3 1169.9 1110.6 1193.1 1111.0 1216.4 1111.4 1239.6 1111.8 1262.8 1112.3 1286.1 1112.9 1309.3 1113.5 1332.6 1114.1 1355.8 1114.8 1379.1 1115.6 1402.3 1116.4 1425.6 1117.3 1448.8 1118.2 1472.0 1119.2 1495.3 1120.3 1518.5 1121.4 1541.8 1122.5 1565.0 1123.8 1588.3 1125.1 1611.5 1126.5 1634.7 1127.9 1658.0 1129.5 1681.2 1131.0 1704.5 1132.7 1727.7 1134.5 1751.0 1136.3 1774.2 1138.2 1797.5 1140.2 1820.7 1142.2 1843.9 1144.4 1867.2 1146.6 1890.4 1148.9 1913.7 1151.3 1936.9 1153.8 1960.2 1156.4 1983.4 1159.1 2006.7 1161.8 2029.9 1164.7 2053.1 1167.6 M672.5 1135.3 695.9 1135.0 719.2 1134.8 742.5 1134.6 765.8 1134.3 789.1 1134.1 812.4 1133.9 835.7 1133.8 859.0 1133.6 882.4 1133.5 905.7 1133.4 929.0 1133.3 952.3 1133.3 975.6 1133.2 998.9 1133.2 1022.2 1133.3 1045.5 1133.3 1068.9 1133.4 1092.2 1133.6 1115.5 1133.7 1138.8 1133.9 1162.1 1134.2 1185.4 1134.5 1208.7 1134.8 1232.0 1135.2 1255.4 1135.6 1278.7 1136.0 1302.0 1136.5 1325.3 1137.1 1348.6 1137.7 1371.9 1138.3 1395.2 1139.1 1418.5 1139.8 1441.9 1140.6 1465.2 1141.5 1488.5 1142.4 1511.8 1143.4 1535.1 1144.5 1558.4 1145.6 1581.7 1146.8 1605.0 1148.0 1628.4 1149.3 1651.7 1150.7 1675.0 1152.1 1698.3 1153.7 1721.6 1155.3 1744.9 1156.9 1768.2 1158.7 1791.5 1160.5 1814.9 1162.4 1838.2 1164.3 1861.5 1166.4 1884.8 1168.5 1908.1 1170.8 1931.4 1173.1 1954.7 1175.5 1978.0 1177.9 2001.4 1180.5 2024.7 1183.2 2048.0 1185.9 2071.3 1188.8 M687.1 1160.0 710.4 1159.7 733.8 1159.5 757.1 1159.2 780.5 1159.0 803.8 1158.8 827.2 1158.5 850.5 1158.4 873.8 1158.2 897.2 1158.0 920.5 1157.9 943.9 1157.8 967.2 1157.7 990.5 1157.7 1013.9 1157.7 1037.2 1157.7 1060.6 1157.7 1083.9 1157.8 1107.3 1157.9 1130.6 1158.0 1153.9 1158.2 1177.3 1158.4 1200.6 1158.6 1224.0 1158.9 1247.3 1159.2 1270.6 1159.6 1294.0 1160.0 1317.3 1160.5 1340.7 1161.0 1364.0 1161.5 1387.4 1162.1 1410.7 1162.8 1434.0 1163.5 1457.4 1164.3 1480.7 1165.1 1504.1 1166.0 1527.4 1166.9 1550.7 1167.9 1574.1 1168.9 1597.4 1170.0 1620.8 1171.2 1644.1 1172.5 1667.5 1173.8 1690.8 1175.1 1714.1 1176.6 1737.5 1178.1 1760.8 1179.7 1784.2 1181.3 1807.5 1183.1 1830.8 1184.9 1854.2 1186.8 1877.5 1188.7 1900.9 1190.8 1924.2 1192.9 1947.6 1195.1 1970.9 1197.4 1994.2 1199.8 2017.6 1202.2 2040.9 1204.8 2064.3 1207.4 2087.6 1210.2" fill="none" stroke="#ff8896" stroke-width="9.0" stroke-opacity="0.85"/>
<path d="M416.5 508.0 420.1 523.0 423.8 538.0 427.6 553.0 431.5 567.9 435.5 582.5 439.5 597.0 443.6 611.2 447.7 625.2 451.9 639.0 456.2 652.8 460.5 666.4 465.0 680.0 469.4 693.4 473.9 706.5 478.2 719.0 482.4 730.8 486.5 742.3 490.9 754.0 495.4 766.3 500.2 778.7 504.9 791.0 509.5 802.7 514.0 813.8 518.4 824.6 522.8 835.2 527.2 845.7 531.5 856.0 535.9 866.2 540.3 876.3 544.9 886.7 549.7 897.3 554.5 908.0 559.3 918.4 563.9 928.3 568.4 938.0 573.0 947.6 577.7 957.4 582.5 967.2 587.3 976.9 591.9 986.3 596.6 995.6 601.3 1004.9 606.1 1014.3 611.0 1023.7 615.8 1032.9 620.6 1041.9 625.3 1050.8 630.1 1059.7 635.0 1068.8 640.0 1077.8 644.8 1086.6 649.5 1094.9 654.0 1103.0 658.5 1110.9 663.1 1118.9 667.8 1127.1 672.5 1135.3 677.4 1143.5 682.2 1151.8 687.1 1160.0 M479.1 508.3 482.6 523.3 486.4 538.3 490.3 553.2 494.3 568.1 498.5 582.7 502.7 597.2 506.9 611.3 511.1 625.3 515.4 639.1 519.8 652.8 524.2 666.5 528.8 680.0 533.4 693.4 537.9 706.5 542.3 718.9 546.6 730.7 550.8 742.2 555.2 753.9 559.9 766.1 564.8 778.6 569.6 790.8 574.3 802.5 578.9 813.6 583.4 824.4 587.9 835.0 592.4 845.4 596.9 855.7 601.4 865.9 605.9 876.0 610.6 886.4 615.5 897.0 620.5 907.6 625.4 918.0 630.1 927.9 634.8 937.6 639.5 947.2 644.3 956.9 649.3 966.7 654.2 976.4 659.1 985.8 663.9 995.1 668.8 1004.4 673.8 1013.7 678.8 1023.1 683.8 1032.3 688.8 1041.3 693.7 1050.2 698.7 1059.1 703.8 1068.1 709.0 1077.2 714.0 1085.9 718.9 1094.2 723.6 1102.3 728.2 1110.2 732.9 1118.2 737.7 1126.4 742.5 1134.6 747.4 1142.8 752.2 1151.0 757.1 1159.2 M541.6 509.1 545.2 524.0 548.9 539.0 552.9 553.9 557.2 568.7 561.5 583.3 565.9 597.7 570.2 611.9 574.5 625.8 578.9 639.5 583.4 653.2 588.0 666.9 592.6 680.4 597.3 693.7 601.9 706.8 606.4 719.2 610.8 731.0 615.1 742.4 619.6 754.1 624.4 766.3 629.3 778.7 634.3 790.9 639.1 802.6 643.8 813.6 648.4 824.4 653.0 835.0 657.7 845.4 662.3 855.7 666.9 865.8 671.5 876.0 676.4 886.3 681.4 896.9 686.4 907.5 691.5 917.9 696.3 927.8 701.1 937.4 706.0 946.9 711.0 956.7 716.1 966.5 721.2 976.1 726.3 985.5 731.3 994.8 736.3 1004.0 741.5 1013.4 746.7 1022.7 751.9 1031.9 757.0 1040.9 762.0 1049.7 767.2 1058.6 772.5 1067.7 777.9 1076.7 783.2 1085.4 788.3 1093.7 793.2 1101.7 798.0 1109.6 802.7 1117.6 807.5 1125.8 812.4 1133.9 817.3 1142.2 822.3 1150.4 827.2 1158.5 M604.2 510.4 607.8 525.3 611.5 540.2 615.6 555.1 620.0 569.8 624.5 584.4 629.0 598.7 633.5 612.8 637.9 626.7 642.4 640.4 647.0 654.1 651.7 667.7 656.4 681.1 661.2 694.5 665.9 707.5 670.5 719.9 675.0 731.6 679.4 743.0 683.9 754.6 688.8 766.8 693.9 779.2 698.9 791.4 703.9 803.0 708.7 814.0 713.4 824.8 718.2 835.3 722.9 845.7 727.6 856.0 732.4 866.1 737.1 876.2 742.1 886.5 747.2 897.0 752.4 907.6 757.5 918.0 762.5 927.8 767.5 937.4 772.4 947.0 777.6 956.7 782.9 966.4 788.2 976.1 793.4 985.5 798.6 994.7 803.8 1003.9 809.2 1013.2 814.5 1022.5 819.9 1031.7 825.2 1040.7 830.4 1049.5 835.8 1058.4 841.3 1067.4 846.9 1076.4 852.4 1085.1 857.7 1093.4 862.8 1101.3 867.7 1109.2 872.5 1117.2 877.4 1125.3 882.4 1133.5 887.3 1141.7 892.3 1149.9 897.2 1158.0 M666.7 512.3 670.3 527.1 674.1 541.9 678.3 556.7 682.8 571.4 687.5 586.0 692.2 600.3 696.7 614.3 701.3 628.1 705.9 641.8 710.6 655.4 715.4 668.9 720.2 682.4 725.1 695.6 729.9 708.6 734.6 721.0 739.2 732.6 743.6 744.0 748.3 755.6 753.3 767.7 758.4 780.1 763.6 792.2 768.7 803.8 773.6 814.8 778.4 825.5 783.3 836.0 788.2 846.4 793.0 856.6 797.8 866.7 802.7 876.7 807.8 887.0 813.0 897.5 818.4 908.1 823.6 918.4 828.7 928.2 833.8 937.8 838.9 947.3 844.2 957.0 849.7 966.7 855.2 976.3 860.6 985.7 865.9 994.9 871.3 1004.1 876.8 1013.3 882.4 1022.6 887.9 1031.8 893.4 1040.7 898.8 1049.5 904.3 1058.3 910.0 1067.3 915.8 1076.3 921.6 1085.0 927.1 1093.2 932.4 1101.2 937.4 1109.1 942.4 1117.0 947.3 1125.1 952.3 1133.3 957.3 1141.4 962.3 1149.6 967.2 1157.7 M729.3 514.7 732.9 529.5 736.7 544.3 740.9 559.0 745.6 573.7 750.5 588.1 755.3 602.3 760.0 616.3 764.7 630.1 769.4 643.7 774.2 657.3 779.1 670.7 784.0 684.1 789.0 697.3 794.0 710.2 798.8 722.5 803.4 734.1 807.9 745.5 812.7 757.0 817.7 769.1 823.0 781.4 828.3 793.5 833.4 805.0 838.5 816.0 843.4 826.6 848.4 837.1 853.4 847.4 858.4 857.6 863.3 867.6 868.4 877.7 873.5 887.9 878.9 898.4 884.3 908.9 889.7 919.2 895.0 929.0 900.1 938.5 905.4 948.0 910.9 957.6 916.5 967.3 922.1 976.9 927.7 986.2 933.2 995.4 938.8 1004.5 944.5 1013.8 950.3 1023.0 956.0 1032.2 961.6 1041.0 967.2 1049.8 972.9 1058.6 978.7 1067.6 984.8 1076.5 990.8 1085.2 996.5 1093.4 1002.0 1101.3 1007.2 1109.2 1012.2 1117.1 1017.2 1125.2 1022.2 1133.3 1027.3 1141.4 1032.3 1149.6 1037.2 1157.7 M791.8 517.9 795.4 532.6 799.2 547.3 803.6 562.0 808.4 576.5 813.5 590.9 818.5 605.0 823.3 618.9 828.1 632.6 832.9 646.2 837.8 659.7 842.8 673.1 847.8 686.4 852.9 699.5 858.0 712.3 862.9 724.6 867.5 736.2 872.2 747.5 877.0 758.9 882.2 771.0 887.5 783.2 892.9 795.2 898.2 806.7 903.4 817.6 908.5 828.2 913.6 838.6 918.6 848.9 923.7 859.0 928.8 869.0 934.0 879.0 939.2 889.2 944.7 899.6 950.3 910.1 955.8 920.3 961.2 930.1 966.5 939.6 971.9 949.0 977.5 958.6 983.3 968.3 989.1 977.8 994.9 987.1 1000.6 996.2 1006.3 1005.3 1012.2 1014.5 1018.1 1023.8 1024.0 1032.8 1029.8 1041.7 1035.5 1050.4 1041.4 1059.2 1047.5 1068.1 1053.8 1077.0 1060.0 1085.6 1065.9 1093.8 1071.5 1101.7 1076.9 1109.6 1082.0 1117.5 1087.1 1125.5 1092.2 1133.6 1097.3 1141.7 1102.3 1149.8 1107.3 1157.9 M854.4 521.8 858.0 536.4 861.8 551.0 866.2 565.6 871.3 580.1 876.5 594.3 881.7 608.4 886.6 622.2 891.5 635.8 896.4 649.3 901.5 662.7 906.5 676.0 911.7 689.3 916.9 702.3 922.0 715.1 927.0 727.3 931.7 738.8 936.5 750.0 941.4 761.4 946.6 773.4 952.1 785.5 957.6 797.5 963.0 808.9 968.3 819.8 973.5 830.3 978.7 840.7 983.9 850.9 989.1 861.0 994.3 870.9 999.6 880.9 1005.0 891.0 1010.6 901.4 1016.3 911.8 1021.9 922.0 1027.4 931.7 1032.8 941.1 1038.4 950.5 1044.2 960.1 1050.1 969.7 1056.1 979.1 1062.0 988.4 1067.9 997.5 1073.8 1006.5 1079.9 1015.7 1086.0 1024.9 1092.0 1033.9 1098.0 1042.7 1103.9 1051.4 1110.0 1060.1 1116.2 1069.0 1122.7 1077.9 1129.2 1086.5 1135.3 1094.6 1141.1 1102.5 1146.6 1110.3 1151.8 1118.2 1156.9 1126.1 1162.1 1134.2 1167.3 1142.3 1172.3 1150.3 1177.3 1158.4 M916.9 526.5 920.5 541.0 924.4 555.5 928.9 570.0 934.1 584.3 939.5 598.5 944.8 612.5 949.9 626.2 954.9 639.7 960.0 653.1 965.1 666.4 970.2 679.7 975.5 692.8 980.8 705.8 986.0 718.5 991.1 730.6 995.9 742.0 1000.7 753.1 1005.7 764.5 1011.1 776.4 1016.7 788.5 1022.3 800.4 1027.8 811.7 1033.1 822.5 1038.5 833.0 1043.8 843.3 1049.1 853.4 1054.5 863.4 1059.8 873.3 1065.2 883.2 1070.7 893.3 1076.4 903.6 1082.2 913.9 1088.0 924.1 1093.6 933.7 1099.2 943.1 1104.8 952.4 1110.8 961.9 1116.9 971.5 1123.1 980.9 1129.2 990.1 1135.2 999.1 1141.3 1008.2 1147.6 1017.3 1153.8 1026.4 1160.0 1035.4 1166.2 1044.2 1172.3 1052.8 1178.5 1061.5 1185.0 1070.3 1191.7 1079.1 1198.4 1087.7 1204.7 1095.8 1210.7 1103.6 1216.4 1111.4 1221.6 1119.2 1226.8 1127.2 1232.0 1135.2 1237.2 1143.2 1242.3 1151.2 1247.3 1159.2 M979.5 532.1 983.1 546.5 987.0 560.9 991.6 575.2 996.9 589.4 1002.6 603.5 1008.0 617.4 1013.1 631.0 1018.3 644.4 1023.5 657.7 1028.7 670.9 1033.9 684.0 1039.3 697.0 1044.7 709.9 1050.0 722.5 1055.2 734.5 1060.1 745.9 1065.0 757.0 1070.1 768.2 1075.5 780.0 1081.2 792.0 1086.9 803.8 1092.6 815.1 1098.0 825.8 1103.5 836.2 1108.9 846.4 1114.4 856.5 1119.8 866.5 1125.3 876.3 1130.8 886.1 1136.4 896.1 1142.2 906.4 1148.2 916.7 1154.1 926.7 1159.8 936.3 1165.5 945.6 1171.3 954.9 1177.4 964.4 1183.7 973.8 1190.0 983.2 1196.3 992.3 1202.6 1001.3 1208.8 1010.3 1215.2 1019.4 1221.7 1028.4 1228.1 1037.4 1234.4 1046.1 1240.6 1054.7 1247.1 1063.3 1253.7 1072.1 1260.7 1080.8 1267.6 1089.3 1274.2 1097.4 1280.3 1105.2 1286.1 1112.9 1291.5 1120.7 1296.7 1128.6 1302.0 1136.5 1307.2 1144.5 1312.4 1152.5 1317.3 1160.5 M1042.0 538.6 1045.7 552.8 1049.6 567.1 1054.2 581.3 1059.7 595.4 1065.6 609.3 1071.2 623.1 1076.4 636.6 1081.7 649.9 1087.0 663.0 1092.3 676.1 1097.7 689.1 1103.1 702.1 1108.6 714.8 1114.0 727.3 1119.3 739.2 1124.3 750.5 1129.3 761.5 1134.5 772.6 1140.0 784.3 1145.8 796.3 1151.6 808.0 1157.3 819.1 1162.9 829.8 1168.5 840.1 1174.1 850.3 1179.6 860.3 1185.2 870.2 1190.7 879.9 1196.4 889.6 1202.1 899.6 1208.1 909.7 1214.1 919.9 1220.2 929.9 1226.0 939.5 1231.8 948.7 1237.8 957.9 1244.1 967.3 1250.5 976.7 1257.0 986.0 1263.5 995.1 1269.9 1004.0 1276.4 1012.9 1282.9 1021.9 1289.5 1030.9 1296.1 1039.8 1302.6 1048.5 1309.0 1057.0 1315.6 1065.6 1322.5 1074.3 1329.6 1083.0 1336.8 1091.4 1343.6 1099.4 1349.9 1107.2 1355.8 1114.8 1361.3 1122.6 1366.6 1130.4 1371.9 1138.3 1377.2 1146.3 1382.4 1154.2 1387.4 1162.1 M1104.6 546.0 1108.2 560.1 1112.1 574.2 1116.9 588.3 1122.6 602.2 1128.6 616.1 1134.3 629.7 1139.7 643.0 1145.1 656.2 1150.5 669.2 1155.9 682.2 1161.4 695.1 1166.9 707.9 1172.5 720.5 1178.1 732.9 1183.4 744.7 1188.5 755.9 1193.6 766.7 1198.8 777.8 1204.5 789.4 1210.3 801.2 1216.3 812.8 1222.1 823.9 1227.8 834.4 1233.5 844.7 1239.2 854.8 1244.9 864.7 1250.6 874.5 1256.2 884.1 1262.0 893.8 1267.8 903.6 1273.9 913.7 1280.1 923.9 1286.3 933.8 1292.2 943.2 1298.2 952.4 1304.3 961.5 1310.7 970.8 1317.3 980.2 1324.0 989.4 1330.6 998.4 1337.2 1007.3 1343.9 1016.1 1350.6 1025.0 1357.4 1034.0 1364.1 1042.8 1370.8 1051.4 1377.4 1059.8 1384.2 1068.4 1391.2 1077.0 1398.6 1085.7 1406.0 1094.0 1413.0 1102.0 1419.5 1109.7 1425.6 1117.3 1431.1 1125.0 1436.5 1132.8 1441.9 1140.6 1447.2 1148.5 1452.4 1156.4 1457.4 1164.3 M1167.1 554.5 1170.8 568.4 1174.7 582.4 1179.6 596.3 1185.4 610.1 1191.6 623.7 1197.5 637.2 1203.0 650.4 1208.5 663.4 1214.0 676.3 1219.5 689.1 1225.1 701.9 1230.7 714.5 1236.5 727.1 1242.1 739.3 1247.5 751.0 1252.7 762.0 1257.8 772.8 1263.2 783.8 1268.9 795.3 1274.9 807.0 1281.0 818.4 1286.9 829.4 1292.7 839.8 1298.5 850.0 1304.3 860.0 1310.1 869.8 1315.9 879.5 1321.7 889.1 1327.6 898.7 1333.5 908.4 1339.8 918.4 1346.1 928.5 1352.3 938.3 1358.5 947.6 1364.5 956.7 1370.8 965.8 1377.3 975.0 1384.1 984.3 1391.0 993.4 1397.8 1002.4 1404.5 1011.1 1411.4 1019.9 1418.3 1028.8 1425.2 1037.6 1432.1 1046.4 1439.0 1054.9 1445.8 1063.3 1452.7 1071.7 1459.9 1080.3 1467.6 1088.9 1475.2 1097.2 1482.4 1105.1 1489.1 1112.7 1495.3 1120.3 1500.9 1127.9 1506.4 1135.6 1511.8 1143.4 1517.2 1151.3 1522.4 1159.1 1527.4 1166.9 M1229.7 564.0 1233.3 577.8 1237.3 591.6 1242.2 605.3 1248.2 618.9 1254.6 632.4 1260.7 645.7 1266.3 658.7 1271.9 671.6 1277.5 684.3 1283.1 697.0 1288.8 709.6 1294.6 722.1 1300.4 734.5 1306.1 746.6 1311.6 758.2 1316.9 769.1 1322.1 779.7 1327.5 790.6 1333.4 801.9 1339.5 813.5 1345.6 824.9 1351.7 835.7 1357.6 846.0 1363.5 856.1 1369.4 866.0 1375.4 875.7 1381.3 885.3 1387.2 894.8 1393.2 904.3 1399.3 913.9 1405.6 923.8 1412.0 933.8 1418.4 943.5 1424.7 952.7 1430.9 961.8 1437.2 970.7 1444.0 979.9 1450.9 989.1 1458.0 998.1 1464.9 1006.9 1471.9 1015.6 1478.9 1024.3 1485.9 1033.1 1493.1 1041.9 1500.2 1050.5 1507.2 1059.0 1514.1 1067.3 1521.3 1075.7 1528.7 1084.2 1536.5 1092.7 1544.4 1100.9 1551.8 1108.8 1558.7 1116.3 1565.0 1123.8 1570.7 1131.4 1576.2 1139.0 1581.7 1146.8 1587.2 1154.5 1592.4 1162.3 1597.4 1170.0 M1292.2 574.7 1295.9 588.3 1299.9 601.9 1304.9 615.4 1311.0 628.8 1317.6 642.1 1323.8 655.2 1329.6 668.1 1335.3 680.8 1341.0 693.4 1346.7 705.9 1352.5 718.3 1358.4 730.7 1364.3 742.9 1370.1 754.9 1375.7 766.3 1381.1 777.1 1386.4 787.6 1391.9 798.3 1397.8 809.5 1404.0 820.9 1410.3 832.2 1416.4 842.9 1422.5 853.1 1428.5 863.0 1434.6 872.8 1440.6 882.4 1446.7 891.9 1452.7 901.3 1458.8 910.7 1465.0 920.2 1471.4 930.0 1478.0 939.8 1484.5 949.4 1490.9 958.6 1497.2 967.5 1503.7 976.4 1510.6 985.4 1517.7 994.5 1524.9 1003.5 1532.1 1012.2 1539.2 1020.8 1546.4 1029.4 1553.6 1038.1 1560.9 1046.8 1568.2 1055.4 1575.4 1063.7 1582.5 1072.0 1589.8 1080.3 1597.4 1088.7 1605.5 1097.1 1613.6 1105.3 1621.2 1113.0 1628.3 1120.5 1634.7 1127.9 1640.5 1135.4 1646.1 1143.0 1651.7 1150.7 1657.1 1158.4 1662.4 1166.1 1667.5 1173.8 M1354.8 586.6 1358.4 600.0 1362.4 613.3 1367.5 626.7 1373.8 639.9 1380.6 653.0 1387.0 665.9 1392.8 678.6 1398.7 691.1 1404.5 703.5 1410.3 715.8 1416.2 728.1 1422.2 740.3 1428.2 752.3 1434.1 764.1 1439.8 775.3 1445.3 786.0 1450.7 796.4 1456.3 806.9 1462.3 818.0 1468.6 829.3 1475.0 840.4 1481.2 850.9 1487.4 861.0 1493.5 870.8 1499.7 880.5 1505.9 890.0 1512.0 899.4 1518.2 908.6 1524.4 917.9 1530.7 927.3 1537.3 937.0 1544.0 946.7 1550.6 956.2 1557.1 965.3 1563.6 974.1 1570.2 982.9 1577.2 991.8 1584.5 1000.8 1591.9 1009.6 1599.2 1018.3 1606.5 1026.8 1613.9 1035.3 1621.3 1043.9 1628.8 1052.5 1636.2 1060.9 1643.6 1069.2 1650.9 1077.4 1658.4 1085.6 1666.2 1093.9 1674.5 1102.2 1682.8 1110.3 1690.6 1118.0 1697.9 1125.4 1704.5 1132.7 1710.4 1140.1 1716.0 1147.7 1721.6 1155.3 1727.1 1162.9 1732.4 1170.5 1737.5 1178.1 M1417.3 599.8 1421.0 612.9 1425.0 626.0 1430.2 639.1 1436.7 652.1 1443.6 665.0 1450.1 677.7 1456.1 690.2 1462.1 702.5 1468.0 714.7 1473.9 726.8 1479.9 738.9 1486.0 750.9 1492.1 762.8 1498.1 774.4 1503.9 785.4 1509.4 795.9 1514.9 806.2 1520.6 816.6 1526.7 827.5 1533.1 838.6 1539.6 849.5 1546.0 859.9 1552.3 869.9 1558.6 879.6 1564.8 889.1 1571.1 898.5 1577.4 907.7 1583.7 916.9 1590.0 926.0 1596.4 935.3 1603.1 944.8 1609.9 954.4 1616.7 963.8 1623.3 972.7 1629.9 981.4 1636.7 990.1 1643.9 998.9 1651.3 1007.8 1658.9 1016.5 1666.4 1025.1 1673.9 1033.5 1681.4 1041.9 1689.0 1050.4 1696.6 1058.9 1704.2 1067.2 1711.7 1075.4 1719.3 1083.4 1726.9 1091.6 1734.9 1099.8 1743.4 1108.0 1752.0 1116.0 1760.0 1123.6 1767.5 1130.9 1774.2 1138.2 1780.2 1145.5 1785.9 1153.0 1791.5 1160.5 1797.1 1168.0 1802.4 1175.6 1807.5 1183.1 M1479.9 614.2 1483.6 627.1 1487.6 640.0 1492.9 652.8 1499.5 665.6 1506.6 678.3 1513.3 690.7 1519.4 703.0 1525.5 715.1 1531.5 727.1 1537.5 739.0 1543.6 750.9 1549.8 762.6 1556.0 774.3 1562.2 785.7 1568.0 796.6 1573.6 806.9 1579.2 817.0 1585.0 827.3 1591.2 838.0 1597.7 848.9 1604.3 859.7 1610.8 869.9 1617.2 879.7 1623.6 889.3 1630.0 898.6 1636.4 907.9 1642.8 917.0 1649.1 926.0 1655.6 935.0 1662.1 944.2 1669.0 953.6 1675.9 963.0 1682.8 972.3 1689.5 981.1 1696.2 989.7 1703.2 998.2 1710.5 1006.9 1718.1 1015.7 1725.9 1024.3 1733.5 1032.7 1741.2 1041.0 1748.9 1049.3 1756.6 1057.7 1764.5 1066.0 1772.3 1074.3 1779.9 1082.4 1787.6 1090.3 1795.5 1098.3 1803.6 1106.4 1812.4 1114.6 1821.2 1122.4 1829.4 1129.9 1837.0 1137.2 1843.9 1144.4 1850.0 1151.6 1855.8 1159.0 1861.5 1166.4 1867.1 1173.9 1872.5 1181.3 1877.5 1188.7 M1542.4 630.0 1546.1 642.6 1550.2 655.2 1555.5 667.9 1562.3 680.4 1569.6 692.8 1576.5 705.0 1582.7 717.0 1588.9 728.9 1595.0 740.6 1601.2 752.3 1607.4 764.0 1613.6 775.6 1620.0 787.0 1626.2 798.2 1632.1 808.9 1637.8 819.1 1643.5 829.0 1649.3 839.0 1655.6 849.6 1662.2 860.3 1669.0 870.9 1675.6 881.0 1682.1 890.6 1688.6 900.0 1695.1 909.2 1701.6 918.3 1708.1 927.3 1714.6 936.1 1721.2 945.0 1727.9 954.0 1734.8 963.3 1741.9 972.6 1748.9 981.7 1755.7 990.4 1762.6 998.8 1769.6 1007.2 1777.1 1015.8 1784.9 1024.4 1792.8 1032.9 1800.7 1041.2 1808.5 1049.4 1816.4 1057.5 1824.3 1065.8 1832.3 1074.1 1840.3 1082.2 1848.1 1090.1 1856.0 1098.0 1864.0 1105.9 1872.4 1113.9 1881.3 1121.9 1890.3 1129.7 1898.8 1137.1 1906.6 1144.2 1913.7 1151.3 1919.8 1158.5 1925.6 1165.7 1931.4 1173.1 1937.1 1180.4 1942.5 1187.8 1947.6 1195.1 M1605.0 647.2 1608.7 659.6 1612.7 671.9 1618.2 684.2 1625.1 696.5 1632.6 708.6 1639.6 720.6 1646.0 732.4 1652.2 744.0 1658.5 755.5 1664.8 766.9 1671.1 778.4 1677.4 789.7 1683.9 800.9 1690.2 811.9 1696.2 822.4 1702.0 832.3 1707.7 842.1 1713.7 851.9 1720.1 862.3 1726.8 872.8 1733.6 883.2 1740.3 893.1 1747.0 902.6 1753.6 911.8 1760.2 920.8 1766.9 929.8 1773.5 938.6 1780.1 947.3 1786.8 956.0 1793.6 964.9 1800.6 974.0 1807.8 983.1 1815.0 992.0 1821.9 1000.6 1828.9 1008.9 1836.1 1017.2 1843.8 1025.6 1851.7 1034.1 1859.8 1042.5 1867.8 1050.6 1875.8 1058.7 1883.9 1066.7 1892.0 1074.8 1900.2 1082.9 1908.3 1091.0 1916.3 1098.8 1924.4 1106.5 1932.6 1114.3 1941.1 1122.2 1950.3 1130.1 1959.5 1137.7 1968.2 1145.0 1976.2 1152.1 1983.4 1159.1 1989.6 1166.1 1995.5 1173.3 2001.4 1180.5 2007.1 1187.8 2012.5 1195.0 2017.6 1202.2 M1667.5 666.0 1671.2 678.0 1675.3 690.0 1680.9 702.1 1688.0 714.0 1695.6 725.9 1702.8 737.6 1709.3 749.1 1715.6 760.4 1722.0 771.7 1728.4 782.9 1734.8 794.0 1741.3 805.1 1747.8 816.1 1754.2 826.8 1760.3 837.1 1766.2 846.8 1772.0 856.4 1778.1 866.0 1784.6 876.2 1791.4 886.5 1798.3 896.7 1805.1 906.3 1811.9 915.6 1818.6 924.7 1825.3 933.5 1832.1 942.3 1838.9 951.0 1845.6 959.5 1852.4 968.1 1859.3 976.8 1866.5 985.7 1873.8 994.7 1881.0 1003.4 1888.2 1011.8 1895.3 1020.0 1902.6 1028.1 1910.4 1036.4 1918.5 1044.7 1926.8 1052.9 1935.0 1061.0 1943.2 1068.9 1951.4 1076.8 1959.7 1084.8 1968.0 1092.7 1976.4 1100.6 1984.5 1108.3 1992.7 1115.9 2001.1 1123.6 2009.9 1131.3 2019.3 1139.1 2028.7 1146.6 2037.6 1153.8 2045.8 1160.7 2053.1 1167.6 2059.4 1174.6 2065.4 1181.6 2071.3 1188.8 2077.0 1195.9 2082.5 1203.0 2087.6 1210.2" fill="none" stroke="#ff8896" stroke-width="7.0" stroke-opacity="0.6"/>
<path d="M416.5 508.0 437.4 508.1 458.2 508.2 479.1 508.3 499.9 508.5 520.8 508.8 541.6 509.1 562.5 509.5 583.3 509.9 604.2 510.4 625.0 510.9 645.9 511.6 666.7 512.3 687.6 513.0 708.4 513.8 729.3 514.7 750.1 515.7 771.0 516.8 791.8 517.9 812.7 519.1 833.5 520.4 854.4 521.8 875.2 523.3 896.1 524.9 916.9 526.5 937.8 528.3 958.6 530.2 979.5 532.1 1000.3 534.2 1021.2 536.3 1042.0 538.6 1062.9 541.0 1083.7 543.4 1104.6 546.0 1125.4 548.7 1146.3 551.6 1167.1 554.5 1188.0 557.6 1208.8 560.7 1229.7 564.0 1250.5 567.5 1271.4 571.0 1292.2 574.7 1313.1 578.6 1333.9 582.5 1354.8 586.6 1375.6 590.9 1396.5 595.2 1417.3 599.8 1438.2 604.4 1459.0 609.2 1479.9 614.2 1500.7 619.3 1521.6 624.6 1542.4 630.0 1563.3 635.6 1584.1 641.3 1605.0 647.2 1625.8 653.3 1646.7 659.6 1667.5 666.0 M427.6 553.0 448.5 553.0 469.4 553.1 490.3 553.2 511.2 553.4 532.0 553.6 552.9 553.9 573.8 554.2 594.7 554.6 615.6 555.1 636.5 555.6 657.4 556.1 678.3 556.7 699.1 557.4 720.0 558.2 740.9 559.0 761.8 559.9 782.7 560.9 803.6 562.0 824.5 563.1 845.4 564.3 866.2 565.6 887.1 567.0 908.0 568.4 928.9 570.0 949.8 571.6 970.7 573.4 991.6 575.2 1012.5 577.1 1033.3 579.2 1054.2 581.3 1075.1 583.5 1096.0 585.8 1116.9 588.3 1137.8 590.8 1158.7 593.5 1179.6 596.3 1200.4 599.2 1221.3 602.2 1242.2 605.3 1263.1 608.5 1284.0 611.9 1304.9 615.4 1325.8 619.0 1346.7 622.8 1367.5 626.7 1388.4 630.7 1409.3 634.8 1430.2 639.1 1451.1 643.5 1472.0 648.1 1492.9 652.8 1513.8 657.7 1534.6 662.7 1555.5 667.9 1576.4 673.2 1597.3 678.6 1618.2 684.2 1639.1 690.0 1660.0 696.0 1680.9 702.1 M439.5 597.0 460.6 597.0 481.6 597.1 502.7 597.2 523.7 597.3 544.8 597.5 565.9 597.7 586.9 598.0 608.0 598.3 629.0 598.7 650.1 599.2 671.1 599.7 692.2 600.3 713.2 600.9 734.3 601.6 755.3 602.3 776.4 603.2 797.5 604.1 818.5 605.0 839.6 606.1 860.6 607.2 881.7 608.4 902.7 609.7 923.8 611.1 944.8 612.5 965.9 614.0 986.9 615.7 1008.0 617.4 1029.1 619.2 1050.1 621.1 1071.2 623.1 1092.2 625.2 1113.3 627.4 1134.3 629.7 1155.4 632.1 1176.4 634.6 1197.5 637.2 1218.5 639.9 1239.6 642.7 1260.7 645.7 1281.7 648.8 1302.8 651.9 1323.8 655.2 1344.9 658.7 1365.9 662.2 1387.0 665.9 1408.0 669.7 1429.1 673.6 1450.1 677.7 1471.2 681.9 1492.3 686.3 1513.3 690.7 1534.4 695.3 1555.4 700.1 1576.5 705.0 1597.5 710.1 1618.6 715.3 1639.6 720.6 1660.7 726.1 1681.7 731.8 1702.8 737.6 M451.9 639.0 473.1 639.0 494.3 639.0 515.4 639.1 536.6 639.2 557.8 639.3 578.9 639.5 600.1 639.8 621.3 640.1 642.4 640.4 663.6 640.8 684.8 641.3 705.9 641.8 727.1 642.4 748.3 643.0 769.4 643.7 790.6 644.5 811.8 645.3 832.9 646.2 854.1 647.2 875.3 648.2 896.4 649.3 917.6 650.5 938.8 651.8 960.0 653.1 981.1 654.6 1002.3 656.1 1023.5 657.7 1044.6 659.4 1065.8 661.1 1087.0 663.0 1108.1 665.0 1129.3 667.0 1150.5 669.2 1171.6 671.5 1192.8 673.8 1214.0 676.3 1235.1 678.9 1256.3 681.5 1277.5 684.3 1298.6 687.2 1319.8 690.3 1341.0 693.4 1362.1 696.6 1383.3 700.0 1404.5 703.5 1425.6 707.1 1446.8 710.8 1468.0 714.7 1489.2 718.7 1510.3 722.8 1531.5 727.1 1552.7 731.5 1573.8 736.0 1595.0 740.6 1616.2 745.4 1637.3 750.4 1658.5 755.5 1679.7 760.7 1700.8 766.1 1722.0 771.7 M465.0 680.0 486.2 680.0 507.5 680.0 528.8 680.0 550.0 680.1 571.3 680.2 592.6 680.4 613.9 680.6 635.1 680.8 656.4 681.1 677.7 681.5 698.9 681.9 720.2 682.4 741.5 682.9 762.8 683.5 784.0 684.1 805.3 684.8 826.6 685.5 847.8 686.4 869.1 687.3 890.4 688.2 911.7 689.3 932.9 690.4 954.2 691.5 975.5 692.8 996.8 694.1 1018.0 695.5 1039.3 697.0 1060.6 698.6 1081.8 700.3 1103.1 702.1 1124.4 703.9 1145.7 705.8 1166.9 707.9 1188.2 710.0 1209.5 712.2 1230.7 714.5 1252.0 717.0 1273.3 719.5 1294.6 722.1 1315.8 724.9 1337.1 727.7 1358.4 730.7 1379.6 733.8 1400.9 737.0 1422.2 740.3 1443.5 743.7 1464.7 747.2 1486.0 750.9 1507.3 754.7 1528.5 758.6 1549.8 762.6 1571.1 766.8 1592.4 771.1 1613.6 775.6 1634.9 780.1 1656.2 784.8 1677.4 789.7 1698.7 794.7 1720.0 799.8 1741.3 805.1 M478.2 719.0 499.6 718.9 521.0 718.9 542.3 718.9 563.7 719.0 585.1 719.1 606.4 719.2 627.8 719.4 649.2 719.6 670.5 719.9 691.9 720.2 713.3 720.5 734.6 721.0 756.0 721.4 777.4 721.9 798.8 722.5 820.1 723.2 841.5 723.8 862.9 724.6 884.2 725.4 905.6 726.3 927.0 727.3 948.3 728.3 969.7 729.4 991.1 730.6 1012.4 731.8 1033.8 733.1 1055.2 734.5 1076.5 736.0 1097.9 737.6 1119.3 739.2 1140.7 741.0 1162.0 742.8 1183.4 744.7 1204.8 746.7 1226.1 748.8 1247.5 751.0 1268.9 753.3 1290.2 755.7 1311.6 758.2 1333.0 760.8 1354.3 763.5 1375.7 766.3 1397.1 769.2 1418.4 772.2 1439.8 775.3 1461.2 778.6 1482.6 782.0 1503.9 785.4 1525.3 789.1 1546.7 792.8 1568.0 796.6 1589.4 800.6 1610.8 804.7 1632.1 808.9 1653.5 813.3 1674.9 817.8 1696.2 822.4 1717.6 827.2 1739.0 832.1 1760.3 837.1 M490.9 754.0 512.3 753.9 533.8 753.9 555.2 753.9 576.7 753.9 598.1 754.0 619.6 754.1 641.0 754.2 662.5 754.4 683.9 754.6 705.4 754.9 726.8 755.2 748.3 755.6 769.7 756.0 791.2 756.5 812.7 757.0 834.1 757.6 855.6 758.2 877.0 758.9 898.5 759.7 919.9 760.5 941.4 761.4 962.8 762.4 984.3 763.4 1005.7 764.5 1027.2 765.7 1048.6 766.9 1070.1 768.2 1091.6 769.6 1113.0 771.1 1134.5 772.6 1155.9 774.3 1177.4 776.0 1198.8 777.8 1220.3 779.7 1241.7 781.7 1263.2 783.8 1284.6 786.0 1306.1 788.2 1327.5 790.6 1349.0 793.1 1370.4 795.6 1391.9 798.3 1413.4 801.1 1434.8 804.0 1456.3 806.9 1477.7 810.0 1499.2 813.3 1520.6 816.6 1542.1 820.0 1563.5 823.6 1585.0 827.3 1606.4 831.1 1627.9 835.0 1649.3 839.0 1670.8 843.2 1692.2 847.5 1713.7 851.9 1735.2 856.5 1756.6 861.2 1778.1 866.0 M504.9 791.0 526.5 790.9 548.1 790.9 569.6 790.8 591.2 790.8 612.7 790.9 634.3 790.9 655.8 791.0 677.4 791.2 698.9 791.4 720.5 791.6 742.1 791.9 763.6 792.2 785.2 792.6 806.7 793.0 828.3 793.5 849.8 794.0 871.4 794.6 892.9 795.2 914.5 795.9 936.1 796.7 957.6 797.5 979.2 798.4 1000.7 799.3 1022.3 800.4 1043.8 801.4 1065.4 802.6 1086.9 803.8 1108.5 805.1 1130.1 806.5 1151.6 808.0 1173.2 809.5 1194.7 811.1 1216.3 812.8 1237.8 814.6 1259.4 816.5 1281.0 818.4 1302.5 820.5 1324.1 822.6 1345.6 824.9 1367.2 827.2 1388.7 829.6 1410.3 832.2 1431.8 834.8 1453.4 837.5 1475.0 840.4 1496.5 843.3 1518.1 846.4 1539.6 849.5 1561.2 852.8 1582.7 856.2 1604.3 859.7 1625.8 863.3 1647.4 867.0 1669.0 870.9 1690.5 874.9 1712.1 879.0 1733.6 883.2 1755.2 887.6 1776.7 892.0 1798.3 896.7 M518.4 824.6 540.1 824.5 561.7 824.4 583.4 824.4 605.1 824.3 626.7 824.4 648.4 824.4 670.1 824.5 691.8 824.6 713.4 824.8 735.1 825.0 756.8 825.2 778.4 825.5 800.1 825.8 821.8 826.2 843.4 826.6 865.1 827.1 886.8 827.6 908.5 828.2 930.1 828.9 951.8 829.6 973.5 830.3 995.1 831.1 1016.8 832.0 1038.5 833.0 1060.1 834.0 1081.8 835.1 1103.5 836.2 1125.2 837.4 1146.8 838.7 1168.5 840.1 1190.2 841.5 1211.8 843.1 1233.5 844.7 1255.2 846.4 1276.8 848.1 1298.5 850.0 1320.2 851.9 1341.9 854.0 1363.5 856.1 1385.2 858.3 1406.9 860.6 1428.5 863.0 1450.2 865.5 1471.9 868.1 1493.5 870.8 1515.2 873.6 1536.9 876.5 1558.6 879.6 1580.2 882.7 1601.9 885.9 1623.6 889.3 1645.2 892.7 1666.9 896.3 1688.6 900.0 1710.2 903.8 1731.9 907.7 1753.6 911.8 1775.3 915.9 1796.9 920.2 1818.6 924.7 M531.5 856.0 553.3 855.9 575.1 855.8 596.9 855.7 618.7 855.7 640.5 855.7 662.3 855.7 684.1 855.7 705.8 855.8 727.6 856.0 749.4 856.1 771.2 856.3 793.0 856.6 814.8 856.9 836.6 857.2 858.4 857.6 880.2 858.0 901.9 858.5 923.7 859.0 945.5 859.6 967.3 860.3 989.1 861.0 1010.9 861.7 1032.7 862.6 1054.5 863.4 1076.3 864.4 1098.0 865.4 1119.8 866.5 1141.6 867.6 1163.4 868.9 1185.2 870.2 1207.0 871.5 1228.8 873.0 1250.6 874.5 1272.4 876.1 1294.1 877.8 1315.9 879.5 1337.7 881.4 1359.5 883.3 1381.3 885.3 1403.1 887.4 1424.9 889.6 1446.7 891.9 1468.5 894.3 1490.2 896.8 1512.0 899.4 1533.8 902.1 1555.6 904.8 1577.4 907.7 1599.2 910.7 1621.0 913.8 1642.8 917.0 1664.5 920.3 1686.3 923.7 1708.1 927.3 1729.9 930.9 1751.7 934.7 1773.5 938.6 1795.3 942.6 1817.1 946.7 1838.9 951.0 M544.9 886.7 566.8 886.6 588.7 886.5 610.6 886.4 632.5 886.3 654.5 886.3 676.4 886.3 698.3 886.3 720.2 886.4 742.1 886.5 764.0 886.6 785.9 886.8 807.8 887.0 829.7 887.2 851.6 887.5 873.5 887.9 895.4 888.3 917.3 888.7 939.2 889.2 961.1 889.7 983.0 890.3 1005.0 891.0 1026.9 891.7 1048.8 892.4 1070.7 893.3 1092.6 894.2 1114.5 895.1 1136.4 896.1 1158.3 897.2 1180.2 898.3 1202.1 899.6 1224.0 900.8 1245.9 902.2 1267.8 903.6 1289.7 905.2 1311.6 906.7 1333.5 908.4 1355.5 910.2 1377.4 912.0 1399.3 913.9 1421.2 915.9 1443.1 918.0 1465.0 920.2 1486.9 922.5 1508.8 924.9 1530.7 927.3 1552.6 929.9 1574.5 932.5 1596.4 935.3 1618.3 938.2 1640.2 941.1 1662.1 944.2 1684.1 947.4 1706.0 950.6 1727.9 954.0 1749.8 957.5 1771.7 961.1 1793.6 964.9 1815.5 968.7 1837.4 972.7 1859.3 976.8 M559.3 918.4 581.3 918.2 603.3 918.1 625.4 918.0 647.4 917.9 669.4 917.9 691.5 917.9 713.5 917.9 735.5 917.9 757.5 918.0 779.6 918.1 801.6 918.2 823.6 918.4 845.7 918.6 867.7 918.9 889.7 919.2 911.8 919.5 933.8 919.9 955.8 920.3 977.8 920.8 999.9 921.4 1021.9 922.0 1043.9 922.6 1066.0 923.3 1088.0 924.1 1110.0 924.9 1132.0 925.8 1154.1 926.7 1176.1 927.7 1198.1 928.8 1220.2 929.9 1242.2 931.1 1264.2 932.4 1286.3 933.8 1308.3 935.2 1330.3 936.7 1352.3 938.3 1374.4 939.9 1396.4 941.7 1418.4 943.5 1440.5 945.4 1462.5 947.4 1484.5 949.4 1506.5 951.6 1528.6 953.8 1550.6 956.2 1572.6 958.6 1594.7 961.2 1616.7 963.8 1638.7 966.5 1660.7 969.3 1682.8 972.3 1704.8 975.3 1726.8 978.4 1748.9 981.7 1770.9 985.0 1792.9 988.5 1815.0 992.0 1837.0 995.7 1859.0 999.5 1881.0 1003.4 M573.0 947.6 595.2 947.4 617.3 947.3 639.5 947.2 661.6 947.1 683.8 947.0 706.0 946.9 728.1 946.9 750.3 946.9 772.4 947.0 794.6 947.0 816.8 947.2 838.9 947.3 861.1 947.5 883.2 947.7 905.4 948.0 927.6 948.3 949.7 948.6 971.9 949.0 994.0 949.5 1016.2 950.0 1038.4 950.5 1060.5 951.1 1082.7 951.7 1104.8 952.4 1127.0 953.2 1149.2 954.0 1171.3 954.9 1193.5 955.8 1215.6 956.9 1237.8 957.9 1260.0 959.1 1282.1 960.3 1304.3 961.5 1326.4 962.9 1348.6 964.3 1370.8 965.8 1392.9 967.4 1415.1 969.0 1437.2 970.7 1459.4 972.5 1481.6 974.4 1503.7 976.4 1525.9 978.5 1548.0 980.6 1570.2 982.9 1592.4 985.2 1614.5 987.6 1636.7 990.1 1658.8 992.7 1681.0 995.4 1703.2 998.2 1725.3 1001.1 1747.5 1004.1 1769.6 1007.2 1791.8 1010.4 1814.0 1013.8 1836.1 1017.2 1858.3 1020.7 1880.4 1024.4 1902.6 1028.1 M587.3 976.9 609.6 976.7 631.9 976.6 654.2 976.4 676.6 976.3 698.9 976.2 721.2 976.1 743.5 976.1 765.9 976.1 788.2 976.1 810.5 976.1 832.8 976.2 855.2 976.3 877.5 976.5 899.8 976.7 922.1 976.9 944.5 977.1 966.8 977.5 989.1 977.8 1011.4 978.2 1033.8 978.7 1056.1 979.1 1078.4 979.7 1100.7 980.3 1123.1 980.9 1145.4 981.6 1167.7 982.4 1190.0 983.2 1212.4 984.1 1234.7 985.0 1257.0 986.0 1279.3 987.1 1301.7 988.2 1324.0 989.4 1346.3 990.7 1368.7 992.0 1391.0 993.4 1413.3 994.9 1435.6 996.5 1458.0 998.1 1480.3 999.8 1502.6 1001.6 1524.9 1003.5 1547.3 1005.5 1569.6 1007.5 1591.9 1009.6 1614.2 1011.8 1636.6 1014.1 1658.9 1016.5 1681.2 1019.0 1703.5 1021.6 1725.9 1024.3 1748.2 1027.1 1770.5 1029.9 1792.8 1032.9 1815.2 1036.0 1837.5 1039.2 1859.8 1042.5 1882.1 1045.8 1904.5 1049.3 1926.8 1052.9 M601.3 1004.9 623.8 1004.7 646.3 1004.5 668.8 1004.4 691.3 1004.2 713.8 1004.1 736.3 1004.0 758.8 1004.0 781.3 1003.9 803.8 1003.9 826.3 1003.9 848.8 1004.0 871.3 1004.1 893.8 1004.2 916.3 1004.3 938.8 1004.5 961.3 1004.7 983.8 1005.0 1006.3 1005.3 1028.8 1005.7 1051.3 1006.1 1073.8 1006.5 1096.3 1007.0 1118.8 1007.6 1141.3 1008.2 1163.8 1008.8 1186.3 1009.5 1208.8 1010.3 1231.3 1011.1 1253.9 1012.0 1276.4 1012.9 1298.9 1013.9 1321.4 1015.0 1343.9 1016.1 1366.4 1017.3 1388.9 1018.6 1411.4 1019.9 1433.9 1021.3 1456.4 1022.8 1478.9 1024.3 1501.4 1025.9 1523.9 1027.7 1546.4 1029.4 1568.9 1031.3 1591.4 1033.2 1613.9 1035.3 1636.4 1037.4 1658.9 1039.6 1681.4 1041.9 1703.9 1044.3 1726.4 1046.7 1748.9 1049.3 1771.4 1051.9 1793.9 1054.7 1816.4 1057.5 1838.9 1060.5 1861.4 1063.5 1883.9 1066.7 1906.4 1069.9 1928.9 1073.3 1951.4 1076.8 M615.8 1032.9 638.5 1032.7 661.2 1032.5 683.8 1032.3 706.5 1032.2 729.2 1032.0 751.9 1031.9 774.5 1031.8 797.2 1031.8 819.9 1031.7 842.6 1031.7 865.2 1031.7 887.9 1031.8 910.6 1031.9 933.3 1032.0 956.0 1032.2 978.6 1032.3 1001.3 1032.6 1024.0 1032.8 1046.7 1033.2 1069.3 1033.5 1092.0 1033.9 1114.7 1034.4 1137.4 1034.9 1160.0 1035.4 1182.7 1036.0 1205.4 1036.7 1228.1 1037.4 1250.7 1038.1 1273.4 1038.9 1296.1 1039.8 1318.8 1040.7 1341.4 1041.7 1364.1 1042.8 1386.8 1043.9 1409.5 1045.1 1432.1 1046.4 1454.8 1047.7 1477.5 1049.1 1500.2 1050.5 1522.8 1052.1 1545.5 1053.7 1568.2 1055.4 1590.9 1057.2 1613.5 1059.0 1636.2 1060.9 1658.9 1062.9 1681.6 1065.0 1704.2 1067.2 1726.9 1069.5 1749.6 1071.9 1772.3 1074.3 1794.9 1076.8 1817.6 1079.5 1840.3 1082.2 1863.0 1085.0 1885.7 1087.9 1908.3 1091.0 1931.0 1094.1 1953.7 1097.3 1976.4 1100.6 M630.1 1059.7 653.0 1059.5 675.8 1059.3 698.7 1059.1 721.5 1058.9 744.4 1058.8 767.2 1058.6 790.1 1058.5 812.9 1058.4 835.8 1058.4 858.6 1058.3 881.5 1058.3 904.3 1058.3 927.2 1058.4 950.0 1058.5 972.9 1058.6 995.7 1058.8 1018.6 1059.0 1041.4 1059.2 1064.3 1059.5 1087.1 1059.8 1110.0 1060.1 1132.8 1060.6 1155.7 1061.0 1178.5 1061.5 1201.4 1062.0 1224.2 1062.6 1247.1 1063.3 1269.9 1064.0 1292.8 1064.8 1315.6 1065.6 1338.5 1066.4 1361.3 1067.4 1384.2 1068.4 1407.0 1069.4 1429.9 1070.5 1452.7 1071.7 1475.6 1073.0 1498.4 1074.3 1521.3 1075.7 1544.1 1077.1 1567.0 1078.7 1589.8 1080.3 1612.7 1082.0 1635.5 1083.7 1658.4 1085.6 1681.2 1087.5 1704.1 1089.5 1726.9 1091.6 1749.8 1093.7 1772.6 1096.0 1795.5 1098.3 1818.3 1100.7 1841.2 1103.3 1864.0 1105.9 1886.9 1108.6 1909.7 1111.4 1932.6 1114.3 1955.4 1117.3 1978.3 1120.4 2001.1 1123.6 M644.8 1086.6 667.9 1086.4 691.0 1086.1 714.0 1085.9 737.1 1085.7 760.2 1085.6 783.2 1085.4 806.3 1085.3 829.4 1085.2 852.4 1085.1 875.5 1085.0 898.6 1085.0 921.6 1085.0 944.7 1085.0 967.7 1085.1 990.8 1085.2 1013.9 1085.3 1036.9 1085.5 1060.0 1085.6 1083.1 1085.9 1106.1 1086.2 1129.2 1086.5 1152.3 1086.8 1175.3 1087.2 1198.4 1087.7 1221.5 1088.2 1244.5 1088.7 1267.6 1089.3 1290.7 1090.0 1313.7 1090.7 1336.8 1091.4 1359.9 1092.2 1382.9 1093.1 1406.0 1094.0 1429.0 1095.0 1452.1 1096.1 1475.2 1097.2 1498.2 1098.4 1521.3 1099.6 1544.4 1100.9 1567.4 1102.3 1590.5 1103.7 1613.6 1105.3 1636.6 1106.9 1659.7 1108.5 1682.8 1110.3 1705.8 1112.1 1728.9 1114.0 1752.0 1116.0 1775.0 1118.1 1798.1 1120.2 1821.2 1122.4 1844.2 1124.8 1867.3 1127.2 1890.3 1129.7 1913.4 1132.3 1936.5 1134.9 1959.5 1137.7 1982.6 1140.6 2005.7 1143.6 2028.7 1146.6 M658.5 1110.9 681.7 1110.7 705.0 1110.4 728.2 1110.2 751.5 1110.0 774.7 1109.8 798.0 1109.6 821.2 1109.5 844.5 1109.4 867.7 1109.2 890.9 1109.2 914.2 1109.1 937.4 1109.1 960.7 1109.1 983.9 1109.1 1007.2 1109.2 1030.4 1109.3 1053.6 1109.4 1076.9 1109.6 1100.1 1109.8 1123.4 1110.0 1146.6 1110.3 1169.9 1110.6 1193.1 1111.0 1216.4 1111.4 1239.6 1111.8 1262.8 1112.3 1286.1 1112.9 1309.3 1113.5 1332.6 1114.1 1355.8 1114.8 1379.1 1115.6 1402.3 1116.4 1425.6 1117.3 1448.8 1118.2 1472.0 1119.2 1495.3 1120.3 1518.5 1121.4 1541.8 1122.5 1565.0 1123.8 1588.3 1125.1 1611.5 1126.5 1634.7 1127.9 1658.0 1129.5 1681.2 1131.0 1704.5 1132.7 1727.7 1134.5 1751.0 1136.3 1774.2 1138.2 1797.5 1140.2 1820.7 1142.2 1843.9 1144.4 1867.2 1146.6 1890.4 1148.9 1913.7 1151.3 1936.9 1153.8 1960.2 1156.4 1983.4 1159.1 2006.7 1161.8 2029.9 1164.7 2053.1 1167.6 M672.5 1135.3 695.9 1135.0 719.2 1134.8 742.5 1134.6 765.8 1134.3 789.1 1134.1 812.4 1133.9 835.7 1133.8 859.0 1133.6 882.4 1133.5 905.7 1133.4 929.0 1133.3 952.3 1133.3 975.6 1133.2 998.9 1133.2 1022.2 1133.3 1045.5 1133.3 1068.9 1133.4 1092.2 1133.6 1115.5 1133.7 1138.8 1133.9 1162.1 1134.2 1185.4 1134.5 1208.7 1134.8 1232.0 1135.2 1255.4 1135.6 1278.7 1136.0 1302.0 1136.5 1325.3 1137.1 1348.6 1137.7 1371.9 1138.3 1395.2 1139.1 1418.5 1139.8 1441.9 1140.6 1465.2 1141.5 1488.5 1142.4 1511.8 1143.4 1535.1 1144.5 1558.4 1145.6 1581.7 1146.8 1605.0 1148.0 1628.4 1149.3 1651.7 1150.7 1675.0 1152.1 1698.3 1153.7 1721.6 1155.3 1744.9 1156.9 1768.2 1158.7 1791.5 1160.5 1814.9 1162.4 1838.2 1164.3 1861.5 1166.4 1884.8 1168.5 1908.1 1170.8 1931.4 1173.1 1954.7 1175.5 1978.0 1177.9 2001.4 1180.5 2024.7 1183.2 2048.0 1185.9 2071.3 1188.8 M687.1 1160.0 710.4 1159.7 733.8 1159.5 757.1 1159.2 780.5 1159.0 803.8 1158.8 827.2 1158.5 850.5 1158.4 873.8 1158.2 897.2 1158.0 920.5 1157.9 943.9 1157.8 967.2 1157.7 990.5 1157.7 1013.9 1157.7 1037.2 1157.7 1060.6 1157.7 1083.9 1157.8 1107.3 1157.9 1130.6 1158.0 1153.9 1158.2 1177.3 1158.4 1200.6 1158.6 1224.0 1158.9 1247.3 1159.2 1270.6 1159.6 1294.0 1160.0 1317.3 1160.5 1340.7 1161.0 1364.0 1161.5 1387.4 1162.1 1410.7 1162.8 1434.0 1163.5 1457.4 1164.3 1480.7 1165.1 1504.1 1166.0 1527.4 1166.9 1550.7 1167.9 1574.1 1168.9 1597.4 1170.0 1620.8 1171.2 1644.1 1172.5 1667.5 1173.8 1690.8 1175.1 1714.1 1176.6 1737.5 1178.1 1760.8 1179.7 1784.2 1181.3 1807.5 1183.1 1830.8 1184.9 1854.2 1186.8 1877.5 1188.7 1900.9 1190.8 1924.2 1192.9 1947.6 1195.1 1970.9 1197.4 1994.2 1199.8 2017.6 1202.2 2040.9 1204.8 2064.3 1207.4 2087.6 1210.2" fill="none" stroke="#ff2448" stroke-width="3.0"/>
<path d="M416.5 508.0 420.1 523.0 423.8 538.0 427.6 553.0 431.5 567.9 435.5 582.5 439.5 597.0 443.6 611.2 447.7 625.2 451.9 639.0 456.2 652.8 460.5 666.4 465.0 680.0 469.4 693.4 473.9 706.5 478.2 719.0 482.4 730.8 486.5 742.3 490.9 754.0 495.4 766.3 500.2 778.7 504.9 791.0 509.5 802.7 514.0 813.8 518.4 824.6 522.8 835.2 527.2 845.7 531.5 856.0 535.9 866.2 540.3 876.3 544.9 886.7 549.7 897.3 554.5 908.0 559.3 918.4 563.9 928.3 568.4 938.0 573.0 947.6 577.7 957.4 582.5 967.2 587.3 976.9 591.9 986.3 596.6 995.6 601.3 1004.9 606.1 1014.3 611.0 1023.7 615.8 1032.9 620.6 1041.9 625.3 1050.8 630.1 1059.7 635.0 1068.8 640.0 1077.8 644.8 1086.6 649.5 1094.9 654.0 1103.0 658.5 1110.9 663.1 1118.9 667.8 1127.1 672.5 1135.3 677.4 1143.5 682.2 1151.8 687.1 1160.0 M479.1 508.3 482.6 523.3 486.4 538.3 490.3 553.2 494.3 568.1 498.5 582.7 502.7 597.2 506.9 611.3 511.1 625.3 515.4 639.1 519.8 652.8 524.2 666.5 528.8 680.0 533.4 693.4 537.9 706.5 542.3 718.9 546.6 730.7 550.8 742.2 555.2 753.9 559.9 766.1 564.8 778.6 569.6 790.8 574.3 802.5 578.9 813.6 583.4 824.4 587.9 835.0 592.4 845.4 596.9 855.7 601.4 865.9 605.9 876.0 610.6 886.4 615.5 897.0 620.5 907.6 625.4 918.0 630.1 927.9 634.8 937.6 639.5 947.2 644.3 956.9 649.3 966.7 654.2 976.4 659.1 985.8 663.9 995.1 668.8 1004.4 673.8 1013.7 678.8 1023.1 683.8 1032.3 688.8 1041.3 693.7 1050.2 698.7 1059.1 703.8 1068.1 709.0 1077.2 714.0 1085.9 718.9 1094.2 723.6 1102.3 728.2 1110.2 732.9 1118.2 737.7 1126.4 742.5 1134.6 747.4 1142.8 752.2 1151.0 757.1 1159.2 M541.6 509.1 545.2 524.0 548.9 539.0 552.9 553.9 557.2 568.7 561.5 583.3 565.9 597.7 570.2 611.9 574.5 625.8 578.9 639.5 583.4 653.2 588.0 666.9 592.6 680.4 597.3 693.7 601.9 706.8 606.4 719.2 610.8 731.0 615.1 742.4 619.6 754.1 624.4 766.3 629.3 778.7 634.3 790.9 639.1 802.6 643.8 813.6 648.4 824.4 653.0 835.0 657.7 845.4 662.3 855.7 666.9 865.8 671.5 876.0 676.4 886.3 681.4 896.9 686.4 907.5 691.5 917.9 696.3 927.8 701.1 937.4 706.0 946.9 711.0 956.7 716.1 966.5 721.2 976.1 726.3 985.5 731.3 994.8 736.3 1004.0 741.5 1013.4 746.7 1022.7 751.9 1031.9 757.0 1040.9 762.0 1049.7 767.2 1058.6 772.5 1067.7 777.9 1076.7 783.2 1085.4 788.3 1093.7 793.2 1101.7 798.0 1109.6 802.7 1117.6 807.5 1125.8 812.4 1133.9 817.3 1142.2 822.3 1150.4 827.2 1158.5 M604.2 510.4 607.8 525.3 611.5 540.2 615.6 555.1 620.0 569.8 624.5 584.4 629.0 598.7 633.5 612.8 637.9 626.7 642.4 640.4 647.0 654.1 651.7 667.7 656.4 681.1 661.2 694.5 665.9 707.5 670.5 719.9 675.0 731.6 679.4 743.0 683.9 754.6 688.8 766.8 693.9 779.2 698.9 791.4 703.9 803.0 708.7 814.0 713.4 824.8 718.2 835.3 722.9 845.7 727.6 856.0 732.4 866.1 737.1 876.2 742.1 886.5 747.2 897.0 752.4 907.6 757.5 918.0 762.5 927.8 767.5 937.4 772.4 947.0 777.6 956.7 782.9 966.4 788.2 976.1 793.4 985.5 798.6 994.7 803.8 1003.9 809.2 1013.2 814.5 1022.5 819.9 1031.7 825.2 1040.7 830.4 1049.5 835.8 1058.4 841.3 1067.4 846.9 1076.4 852.4 1085.1 857.7 1093.4 862.8 1101.3 867.7 1109.2 872.5 1117.2 877.4 1125.3 882.4 1133.5 887.3 1141.7 892.3 1149.9 897.2 1158.0 M666.7 512.3 670.3 527.1 674.1 541.9 678.3 556.7 682.8 571.4 687.5 586.0 692.2 600.3 696.7 614.3 701.3 628.1 705.9 641.8 710.6 655.4 715.4 668.9 720.2 682.4 725.1 695.6 729.9 708.6 734.6 721.0 739.2 732.6 743.6 744.0 748.3 755.6 753.3 767.7 758.4 780.1 763.6 792.2 768.7 803.8 773.6 814.8 778.4 825.5 783.3 836.0 788.2 846.4 793.0 856.6 797.8 866.7 802.7 876.7 807.8 887.0 813.0 897.5 818.4 908.1 823.6 918.4 828.7 928.2 833.8 937.8 838.9 947.3 844.2 957.0 849.7 966.7 855.2 976.3 860.6 985.7 865.9 994.9 871.3 1004.1 876.8 1013.3 882.4 1022.6 887.9 1031.8 893.4 1040.7 898.8 1049.5 904.3 1058.3 910.0 1067.3 915.8 1076.3 921.6 1085.0 927.1 1093.2 932.4 1101.2 937.4 1109.1 942.4 1117.0 947.3 1125.1 952.3 1133.3 957.3 1141.4 962.3 1149.6 967.2 1157.7 M729.3 514.7 732.9 529.5 736.7 544.3 740.9 559.0 745.6 573.7 750.5 588.1 755.3 602.3 760.0 616.3 764.7 630.1 769.4 643.7 774.2 657.3 779.1 670.7 784.0 684.1 789.0 697.3 794.0 710.2 798.8 722.5 803.4 734.1 807.9 745.5 812.7 757.0 817.7 769.1 823.0 781.4 828.3 793.5 833.4 805.0 838.5 816.0 843.4 826.6 848.4 837.1 853.4 847.4 858.4 857.6 863.3 867.6 868.4 877.7 873.5 887.9 878.9 898.4 884.3 908.9 889.7 919.2 895.0 929.0 900.1 938.5 905.4 948.0 910.9 957.6 916.5 967.3 922.1 976.9 927.7 986.2 933.2 995.4 938.8 1004.5 944.5 1013.8 950.3 1023.0 956.0 1032.2 961.6 1041.0 967.2 1049.8 972.9 1058.6 978.7 1067.6 984.8 1076.5 990.8 1085.2 996.5 1093.4 1002.0 1101.3 1007.2 1109.2 1012.2 1117.1 1017.2 1125.2 1022.2 1133.3 1027.3 1141.4 1032.3 1149.6 1037.2 1157.7 M791.8 517.9 795.4 532.6 799.2 547.3 803.6 562.0 808.4 576.5 813.5 590.9 818.5 605.0 823.3 618.9 828.1 632.6 832.9 646.2 837.8 659.7 842.8 673.1 847.8 686.4 852.9 699.5 858.0 712.3 862.9 724.6 867.5 736.2 872.2 747.5 877.0 758.9 882.2 771.0 887.5 783.2 892.9 795.2 898.2 806.7 903.4 817.6 908.5 828.2 913.6 838.6 918.6 848.9 923.7 859.0 928.8 869.0 934.0 879.0 939.2 889.2 944.7 899.6 950.3 910.1 955.8 920.3 961.2 930.1 966.5 939.6 971.9 949.0 977.5 958.6 983.3 968.3 989.1 977.8 994.9 987.1 1000.6 996.2 1006.3 1005.3 1012.2 1014.5 1018.1 1023.8 1024.0 1032.8 1029.8 1041.7 1035.5 1050.4 1041.4 1059.2 1047.5 1068.1 1053.8 1077.0 1060.0 1085.6 1065.9 1093.8 1071.5 1101.7 1076.9 1109.6 1082.0 1117.5 1087.1 1125.5 1092.2 1133.6 1097.3 1141.7 1102.3 1149.8 1107.3 1157.9 M854.4 521.8 858.0 536.4 861.8 551.0 866.2 565.6 871.3 580.1 876.5 594.3 881.7 608.4 886.6 622.2 891.5 635.8 896.4 649.3 901.5 662.7 906.5 676.0 911.7 689.3 916.9 702.3 922.0 715.1 927.0 727.3 931.7 738.8 936.5 750.0 941.4 761.4 946.6 773.4 952.1 785.5 957.6 797.5 963.0 808.9 968.3 819.8 973.5 830.3 978.7 840.7 983.9 850.9 989.1 861.0 994.3 870.9 999.6 880.9 1005.0 891.0 1010.6 901.4 1016.3 911.8 1021.9 922.0 1027.4 931.7 1032.8 941.1 1038.4 950.5 1044.2 960.1 1050.1 969.7 1056.1 979.1 1062.0 988.4 1067.9 997.5 1073.8 1006.5 1079.9 1015.7 1086.0 1024.9 1092.0 1033.9 1098.0 1042.7 1103.9 1051.4 1110.0 1060.1 1116.2 1069.0 1122.7 1077.9 1129.2 1086.5 1135.3 1094.6 1141.1 1102.5 1146.6 1110.3 1151.8 1118.2 1156.9 1126.1 1162.1 1134.2 1167.3 1142.3 1172.3 1150.3 1177.3 1158.4 M916.9 526.5 920.5 541.0 924.4 555.5 928.9 570.0 934.1 584.3 939.5 598.5 944.8 612.5 949.9 626.2 954.9 639.7 960.0 653.1 965.1 666.4 970.2 679.7 975.5 692.8 980.8 705.8 986.0 718.5 991.1 730.6 995.9 742.0 1000.7 753.1 1005.7 764.5 1011.1 776.4 1016.7 788.5 1022.3 800.4 1027.8 811.7 1033.1 822.5 1038.5 833.0 1043.8 843.3 1049.1 853.4 1054.5 863.4 1059.8 873.3 1065.2 883.2 1070.7 893.3 1076.4 903.6 1082.2 913.9 1088.0 924.1 1093.6 933.7 1099.2 943.1 1104.8 952.4 1110.8 961.9 1116.9 971.5 1123.1 980.9 1129.2 990.1 1135.2 999.1 1141.3 1008.2 1147.6 1017.3 1153.8 1026.4 1160.0 1035.4 1166.2 1044.2 1172.3 1052.8 1178.5 1061.5 1185.0 1070.3 1191.7 1079.1 1198.4 1087.7 1204.7 1095.8 1210.7 1103.6 1216.4 1111.4 1221.6 1119.2 1226.8 1127.2 1232.0 1135.2 1237.2 1143.2 1242.3 1151.2 1247.3 1159.2 M979.5 532.1 983.1 546.5 987.0 560.9 991.6 575.2 996.9 589.4 1002.6 603.5 1008.0 617.4 1013.1 631.0 1018.3 644.4 1023.5 657.7 1028.7 670.9 1033.9 684.0 1039.3 697.0 1044.7 709.9 1050.0 722.5 1055.2 734.5 1060.1 745.9 1065.0 757.0 1070.1 768.2 1075.5 780.0 1081.2 792.0 1086.9 803.8 1092.6 815.1 1098.0 825.8 1103.5 836.2 1108.9 846.4 1114.4 856.5 1119.8 866.5 1125.3 876.3 1130.8 886.1 1136.4 896.1 1142.2 906.4 1148.2 916.7 1154.1 926.7 1159.8 936.3 1165.5 945.6 1171.3 954.9 1177.4 964.4 1183.7 973.8 1190.0 983.2 1196.3 992.3 1202.6 1001.3 1208.8 1010.3 1215.2 1019.4 1221.7 1028.4 1228.1 1037.4 1234.4 1046.1 1240.6 1054.7 1247.1 1063.3 1253.7 1072.1 1260.7 1080.8 1267.6 1089.3 1274.2 1097.4 1280.3 1105.2 1286.1 1112.9 1291.5 1120.7 1296.7 1128.6 1302.0 1136.5 1307.2 1144.5 1312.4 1152.5 1317.3 1160.5 M1042.0 538.6 1045.7 552.8 1049.6 567.1 1054.2 581.3 1059.7 595.4 1065.6 609.3 1071.2 623.1 1076.4 636.6 1081.7 649.9 1087.0 663.0 1092.3 676.1 1097.7 689.1 1103.1 702.1 1108.6 714.8 1114.0 727.3 1119.3 739.2 1124.3 750.5 1129.3 761.5 1134.5 772.6 1140.0 784.3 1145.8 796.3 1151.6 808.0 1157.3 819.1 1162.9 829.8 1168.5 840.1 1174.1 850.3 1179.6 860.3 1185.2 870.2 1190.7 879.9 1196.4 889.6 1202.1 899.6 1208.1 909.7 1214.1 919.9 1220.2 929.9 1226.0 939.5 1231.8 948.7 1237.8 957.9 1244.1 967.3 1250.5 976.7 1257.0 986.0 1263.5 995.1 1269.9 1004.0 1276.4 1012.9 1282.9 1021.9 1289.5 1030.9 1296.1 1039.8 1302.6 1048.5 1309.0 1057.0 1315.6 1065.6 1322.5 1074.3 1329.6 1083.0 1336.8 1091.4 1343.6 1099.4 1349.9 1107.2 1355.8 1114.8 1361.3 1122.6 1366.6 1130.4 1371.9 1138.3 1377.2 1146.3 1382.4 1154.2 1387.4 1162.1 M1104.6 546.0 1108.2 560.1 1112.1 574.2 1116.9 588.3 1122.6 602.2 1128.6 616.1 1134.3 629.7 1139.7 643.0 1145.1 656.2 1150.5 669.2 1155.9 682.2 1161.4 695.1 1166.9 707.9 1172.5 720.5 1178.1 732.9 1183.4 744.7 1188.5 755.9 1193.6 766.7 1198.8 777.8 1204.5 789.4 1210.3 801.2 1216.3 812.8 1222.1 823.9 1227.8 834.4 1233.5 844.7 1239.2 854.8 1244.9 864.7 1250.6 874.5 1256.2 884.1 1262.0 893.8 1267.8 903.6 1273.9 913.7 1280.1 923.9 1286.3 933.8 1292.2 943.2 1298.2 952.4 1304.3 961.5 1310.7 970.8 1317.3 980.2 1324.0 989.4 1330.6 998.4 1337.2 1007.3 1343.9 1016.1 1350.6 1025.0 1357.4 1034.0 1364.1 1042.8 1370.8 1051.4 1377.4 1059.8 1384.2 1068.4 1391.2 1077.0 1398.6 1085.7 1406.0 1094.0 1413.0 1102.0 1419.5 1109.7 1425.6 1117.3 1431.1 1125.0 1436.5 1132.8 1441.9 1140.6 1447.2 1148.5 1452.4 1156.4 1457.4 1164.3 M1167.1 554.5 1170.8 568.4 1174.7 582.4 1179.6 596.3 1185.4 610.1 1191.6 623.7 1197.5 637.2 1203.0 650.4 1208.5 663.4 1214.0 676.3 1219.5 689.1 1225.1 701.9 1230.7 714.5 1236.5 727.1 1242.1 739.3 1247.5 751.0 1252.7 762.0 1257.8 772.8 1263.2 783.8 1268.9 795.3 1274.9 807.0 1281.0 818.4 1286.9 829.4 1292.7 839.8 1298.5 850.0 1304.3 860.0 1310.1 869.8 1315.9 879.5 1321.7 889.1 1327.6 898.7 1333.5 908.4 1339.8 918.4 1346.1 928.5 1352.3 938.3 1358.5 947.6 1364.5 956.7 1370.8 965.8 1377.3 975.0 1384.1 984.3 1391.0 993.4 1397.8 1002.4 1404.5 1011.1 1411.4 1019.9 1418.3 1028.8 1425.2 1037.6 1432.1 1046.4 1439.0 1054.9 1445.8 1063.3 1452.7 1071.7 1459.9 1080.3 1467.6 1088.9 1475.2 1097.2 1482.4 1105.1 1489.1 1112.7 1495.3 1120.3 1500.9 1127.9 1506.4 1135.6 1511.8 1143.4 1517.2 1151.3 1522.4 1159.1 1527.4 1166.9 M1229.7 564.0 1233.3 577.8 1237.3 591.6 1242.2 605.3 1248.2 618.9 1254.6 632.4 1260.7 645.7 1266.3 658.7 1271.9 671.6 1277.5 684.3 1283.1 697.0 1288.8 709.6 1294.6 722.1 1300.4 734.5 1306.1 746.6 1311.6 758.2 1316.9 769.1 1322.1 779.7 1327.5 790.6 1333.4 801.9 1339.5 813.5 1345.6 824.9 1351.7 835.7 1357.6 846.0 1363.5 856.1 1369.4 866.0 1375.4 875.7 1381.3 885.3 1387.2 894.8 1393.2 904.3 1399.3 913.9 1405.6 923.8 1412.0 933.8 1418.4 943.5 1424.7 952.7 1430.9 961.8 1437.2 970.7 1444.0 979.9 1450.9 989.1 1458.0 998.1 1464.9 1006.9 1471.9 1015.6 1478.9 1024.3 1485.9 1033.1 1493.1 1041.9 1500.2 1050.5 1507.2 1059.0 1514.1 1067.3 1521.3 1075.7 1528.7 1084.2 1536.5 1092.7 1544.4 1100.9 1551.8 1108.8 1558.7 1116.3 1565.0 1123.8 1570.7 1131.4 1576.2 1139.0 1581.7 1146.8 1587.2 1154.5 1592.4 1162.3 1597.4 1170.0 M1292.2 574.7 1295.9 588.3 1299.9 601.9 1304.9 615.4 1311.0 628.8 1317.6 642.1 1323.8 655.2 1329.6 668.1 1335.3 680.8 1341.0 693.4 1346.7 705.9 1352.5 718.3 1358.4 730.7 1364.3 742.9 1370.1 754.9 1375.7 766.3 1381.1 777.1 1386.4 787.6 1391.9 798.3 1397.8 809.5 1404.0 820.9 1410.3 832.2 1416.4 842.9 1422.5 853.1 1428.5 863.0 1434.6 872.8 1440.6 882.4 1446.7 891.9 1452.7 901.3 1458.8 910.7 1465.0 920.2 1471.4 930.0 1478.0 939.8 1484.5 949.4 1490.9 958.6 1497.2 967.5 1503.7 976.4 1510.6 985.4 1517.7 994.5 1524.9 1003.5 1532.1 1012.2 1539.2 1020.8 1546.4 1029.4 1553.6 1038.1 1560.9 1046.8 1568.2 1055.4 1575.4 1063.7 1582.5 1072.0 1589.8 1080.3 1597.4 1088.7 1605.5 1097.1 1613.6 1105.3 1621.2 1113.0 1628.3 1120.5 1634.7 1127.9 1640.5 1135.4 1646.1 1143.0 1651.7 1150.7 1657.1 1158.4 1662.4 1166.1 1667.5 1173.8 M1354.8 586.6 1358.4 600.0 1362.4 613.3 1367.5 626.7 1373.8 639.9 1380.6 653.0 1387.0 665.9 1392.8 678.6 1398.7 691.1 1404.5 703.5 1410.3 715.8 1416.2 728.1 1422.2 740.3 1428.2 752.3 1434.1 764.1 1439.8 775.3 1445.3 786.0 1450.7 796.4 1456.3 806.9 1462.3 818.0 1468.6 829.3 1475.0 840.4 1481.2 850.9 1487.4 861.0 1493.5 870.8 1499.7 880.5 1505.9 890.0 1512.0 899.4 1518.2 908.6 1524.4 917.9 1530.7 927.3 1537.3 937.0 1544.0 946.7 1550.6 956.2 1557.1 965.3 1563.6 974.1 1570.2 982.9 1577.2 991.8 1584.5 1000.8 1591.9 1009.6 1599.2 1018.3 1606.5 1026.8 1613.9 1035.3 1621.3 1043.9 1628.8 1052.5 1636.2 1060.9 1643.6 1069.2 1650.9 1077.4 1658.4 1085.6 1666.2 1093.9 1674.5 1102.2 1682.8 1110.3 1690.6 1118.0 1697.9 1125.4 1704.5 1132.7 1710.4 1140.1 1716.0 1147.7 1721.6 1155.3 1727.1 1162.9 1732.4 1170.5 1737.5 1178.1 M1417.3 599.8 1421.0 612.9 1425.0 626.0 1430.2 639.1 1436.7 652.1 1443.6 665.0 1450.1 677.7 1456.1 690.2 1462.1 702.5 1468.0 714.7 1473.9 726.8 1479.9 738.9 1486.0 750.9 1492.1 762.8 1498.1 774.4 1503.9 785.4 1509.4 795.9 1514.9 806.2 1520.6 816.6 1526.7 827.5 1533.1 838.6 1539.6 849.5 1546.0 859.9 1552.3 869.9 1558.6 879.6 1564.8 889.1 1571.1 898.5 1577.4 907.7 1583.7 916.9 1590.0 926.0 1596.4 935.3 1603.1 944.8 1609.9 954.4 1616.7 963.8 1623.3 972.7 1629.9 981.4 1636.7 990.1 1643.9 998.9 1651.3 1007.8 1658.9 1016.5 1666.4 1025.1 1673.9 1033.5 1681.4 1041.9 1689.0 1050.4 1696.6 1058.9 1704.2 1067.2 1711.7 1075.4 1719.3 1083.4 1726.9 1091.6 1734.9 1099.8 1743.4 1108.0 1752.0 1116.0 1760.0 1123.6 1767.5 1130.9 1774.2 1138.2 1780.2 1145.5 1785.9 1153.0 1791.5 1160.5 1797.1 1168.0 1802.4 1175.6 1807.5 1183.1 M1479.9 614.2 1483.6 627.1 1487.6 640.0 1492.9 652.8 1499.5 665.6 1506.6 678.3 1513.3 690.7 1519.4 703.0 1525.5 715.1 1531.5 727.1 1537.5 739.0 1543.6 750.9 1549.8 762.6 1556.0 774.3 1562.2 785.7 1568.0 796.6 1573.6 806.9 1579.2 817.0 1585.0 827.3 1591.2 838.0 1597.7 848.9 1604.3 859.7 1610.8 869.9 1617.2 879.7 1623.6 889.3 1630.0 898.6 1636.4 907.9 1642.8 917.0 1649.1 926.0 1655.6 935.0 1662.1 944.2 1669.0 953.6 1675.9 963.0 1682.8 972.3 1689.5 981.1 1696.2 989.7 1703.2 998.2 1710.5 1006.9 1718.1 1015.7 1725.9 1024.3 1733.5 1032.7 1741.2 1041.0 1748.9 1049.3 1756.6 1057.7 1764.5 1066.0 1772.3 1074.3 1779.9 1082.4 1787.6 1090.3 1795.5 1098.3 1803.6 1106.4 1812.4 1114.6 1821.2 1122.4 1829.4 1129.9 1837.0 1137.2 1843.9 1144.4 1850.0 1151.6 1855.8 1159.0 1861.5 1166.4 1867.1 1173.9 1872.5 1181.3 1877.5 1188.7 M1542.4 630.0 1546.1 642.6 1550.2 655.2 1555.5 667.9 1562.3 680.4 1569.6 692.8 1576.5 705.0 1582.7 717.0 1588.9 728.9 1595.0 740.6 1601.2 752.3 1607.4 764.0 1613.6 775.6 1620.0 787.0 1626.2 798.2 1632.1 808.9 1637.8 819.1 1643.5 829.0 1649.3 839.0 1655.6 849.6 1662.2 860.3 1669.0 870.9 1675.6 881.0 1682.1 890.6 1688.6 900.0 1695.1 909.2 1701.6 918.3 1708.1 927.3 1714.6 936.1 1721.2 945.0 1727.9 954.0 1734.8 963.3 1741.9 972.6 1748.9 981.7 1755.7 990.4 1762.6 998.8 1769.6 1007.2 1777.1 1015.8 1784.9 1024.4 1792.8 1032.9 1800.7 1041.2 1808.5 1049.4 1816.4 1057.5 1824.3 1065.8 1832.3 1074.1 1840.3 1082.2 1848.1 1090.1 1856.0 1098.0 1864.0 1105.9 1872.4 1113.9 1881.3 1121.9 1890.3 1129.7 1898.8 1137.1 1906.6 1144.2 1913.7 1151.3 1919.8 1158.5 1925.6 1165.7 1931.4 1173.1 1937.1 1180.4 1942.5 1187.8 1947.6 1195.1 M1605.0 647.2 1608.7 659.6 1612.7 671.9 1618.2 684.2 1625.1 696.5 1632.6 708.6 1639.6 720.6 1646.0 732.4 1652.2 744.0 1658.5 755.5 1664.8 766.9 1671.1 778.4 1677.4 789.7 1683.9 800.9 1690.2 811.9 1696.2 822.4 1702.0 832.3 1707.7 842.1 1713.7 851.9 1720.1 862.3 1726.8 872.8 1733.6 883.2 1740.3 893.1 1747.0 902.6 1753.6 911.8 1760.2 920.8 1766.9 929.8 1773.5 938.6 1780.1 947.3 1786.8 956.0 1793.6 964.9 1800.6 974.0 1807.8 983.1 1815.0 992.0 1821.9 1000.6 1828.9 1008.9 1836.1 1017.2 1843.8 1025.6 1851.7 1034.1 1859.8 1042.5 1867.8 1050.6 1875.8 1058.7 1883.9 1066.7 1892.0 1074.8 1900.2 1082.9 1908.3 1091.0 1916.3 1098.8 1924.4 1106.5 1932.6 1114.3 1941.1 1122.2 1950.3 1130.1 1959.5 1137.7 1968.2 1145.0 1976.2 1152.1 1983.4 1159.1 1989.6 1166.1 1995.5 1173.3 2001.4 1180.5 2007.1 1187.8 2012.5 1195.0 2017.6 1202.2 M1667.5 666.0 1671.2 678.0 1675.3 690.0 1680.9 702.1 1688.0 714.0 1695.6 725.9 1702.8 737.6 1709.3 749.1 1715.6 760.4 1722.0 771.7 1728.4 782.9 1734.8 794.0 1741.3 805.1 1747.8 816.1 1754.2 826.8 1760.3 837.1 1766.2 846.8 1772.0 856.4 1778.1 866.0 1784.6 876.2 1791.4 886.5 1798.3 896.7 1805.1 906.3 1811.9 915.6 1818.6 924.7 1825.3 933.5 1832.1 942.3 1838.9 951.0 1845.6 959.5 1852.4 968.1 1859.3 976.8 1866.5 985.7 1873.8 994.7 1881.0 1003.4 1888.2 1011.8 1895.3 1020.0 1902.6 1028.1 1910.4 1036.4 1918.5 1044.7 1926.8 1052.9 1935.0 1061.0 1943.2 1068.9 1951.4 1076.8 1959.7 1084.8 1968.0 1092.7 1976.4 1100.6 1984.5 1108.3 1992.7 1115.9 2001.1 1123.6 2009.9 1131.3 2019.3 1139.1 2028.7 1146.6 2037.6 1153.8 2045.8 1160.7 2053.1 1167.6 2059.4 1174.6 2065.4 1181.6 2071.3 1188.8 2077.0 1195.9 2082.5 1203.0 2087.6 1210.2" fill="none" stroke="#ff2448" stroke-width="4.0"/>
<path d="M417.5 311.7 433.5 312.3 449.4 313.0 465.4 313.9 481.3 314.8 497.3 315.9 513.2 317.1 529.1 318.3 545.1 319.7 561.0 321.3 577.0 322.9 592.9 324.6 608.8 326.5 624.7 328.5 640.7 330.6 656.6 332.8 672.5 335.2 688.4 337.6 704.3 340.2 720.2 343.0 736.1 345.8 752.0 348.8 767.9 352.0 783.7 355.2 799.6 358.6 815.5 362.2 831.3 365.8 847.2 369.6 863.0 373.6 878.9 377.7 894.7 381.9 910.5 386.3 926.3 390.8 942.2 395.5 957.9 400.3 973.7 405.3 989.5 410.4 1005.3 415.7 1021.0 421.2 1036.8 426.8 1052.5 432.5 1068.3 438.4 1084.0 444.5 1099.7 450.7 1115.4 457.1 1131.1 463.7 1146.7 470.4 1162.4 477.3 1178.1 484.3 1193.7 491.6 1209.3 498.9 1224.9 506.5 1240.5 514.3 1256.1 522.2 1271.6 530.3 1287.2 538.6 1302.7 547.0 1318.2 555.6 1333.7 564.5 1349.2 573.5 1364.7 582.6 M428.9 366.6 445.0 367.2 461.0 367.9 477.0 368.6 493.1 369.5 509.1 370.5 525.1 371.6 541.1 372.8 557.1 374.1 573.2 375.6 589.2 377.1 605.2 378.7 621.2 380.5 637.2 382.4 653.2 384.4 669.2 386.5 685.2 388.7 701.2 391.1 717.1 393.5 733.1 396.1 749.1 398.8 765.1 401.7 781.0 404.7 797.0 407.8 812.9 411.0 828.9 414.3 844.8 417.8 860.7 421.5 876.7 425.2 892.6 429.1 908.5 433.2 924.4 437.3 940.3 441.6 956.2 446.1 972.1 450.7 987.9 455.4 1003.8 460.3 1019.7 465.3 1035.5 470.5 1051.3 475.9 1067.2 481.3 1083.0 487.0 1098.8 492.8 1114.6 498.7 1130.3 504.8 1146.1 511.0 1161.9 517.5 1177.6 524.0 1193.4 530.8 1209.1 537.7 1224.8 544.7 1240.5 551.9 1256.2 559.3 1271.8 566.9 1287.5 574.6 1303.1 582.5 1318.8 590.6 1334.4 598.8 1350.0 607.2 1365.5 615.8 1381.1 624.6 M440.3 415.5 456.4 416.1 472.5 416.7 488.6 417.4 504.7 418.3 520.8 419.2 536.9 420.2 553.0 421.4 569.1 422.6 585.2 424.0 601.2 425.4 617.3 427.0 633.4 428.6 649.5 430.4 665.6 432.3 681.6 434.3 697.7 436.5 713.8 438.7 729.8 441.0 745.9 443.5 761.9 446.1 778.0 448.8 794.0 451.7 810.0 454.6 826.1 457.7 842.1 460.9 858.1 464.2 874.1 467.7 890.1 471.3 906.1 475.0 922.1 478.9 938.1 482.9 954.1 487.0 970.0 491.3 986.0 495.7 1002.0 500.2 1017.9 504.9 1033.8 509.7 1049.8 514.7 1065.7 519.8 1081.6 525.0 1097.5 530.4 1113.4 535.9 1129.2 541.6 1145.1 547.5 1161.0 553.5 1176.8 559.6 1192.6 565.9 1208.5 572.4 1224.3 579.0 1240.1 585.7 1255.9 592.7 1271.6 599.7 1287.4 607.0 1303.1 614.4 1318.9 622.0 1334.6 629.7 1350.3 637.6 1365.9 645.7 1381.6 653.9 1397.3 662.3 M452.9 465.5 469.1 466.0 485.3 466.5 501.5 467.2 517.6 468.0 533.8 468.9 550.0 469.8 566.2 470.9 582.4 472.1 598.5 473.4 614.7 474.7 630.9 476.2 647.1 477.8 663.2 479.5 679.4 481.3 695.5 483.2 711.7 485.2 727.8 487.3 744.0 489.5 760.1 491.9 776.3 494.4 792.4 496.9 808.5 499.6 824.6 502.5 840.8 505.4 856.9 508.5 873.0 511.6 889.1 514.9 905.2 518.4 921.2 521.9 937.3 525.6 953.4 529.4 969.5 533.3 985.5 537.4 1001.6 541.6 1017.6 545.9 1033.6 550.4 1049.7 555.0 1065.7 559.7 1081.7 564.6 1097.7 569.6 1113.7 574.8 1129.7 580.1 1145.6 585.5 1161.6 591.1 1177.5 596.8 1193.5 602.7 1209.4 608.7 1225.3 614.9 1241.2 621.2 1257.1 627.7 1273.0 634.3 1288.8 641.1 1304.7 648.0 1320.5 655.1 1336.4 662.3 1352.2 669.7 1368.0 677.3 1383.8 685.0 1399.5 692.9 1415.3 700.9 M466.3 514.4 482.6 514.9 498.9 515.4 515.2 516.0 531.4 516.8 547.7 517.6 564.0 518.5 580.3 519.5 596.5 520.6 612.8 521.8 629.1 523.1 645.3 524.5 661.6 526.0 677.8 527.6 694.1 529.3 710.3 531.1 726.6 533.0 742.8 535.0 759.0 537.1 775.3 539.3 791.5 541.7 807.7 544.1 823.9 546.7 840.2 549.4 856.4 552.2 872.6 555.1 888.8 558.1 905.0 561.3 921.1 564.5 937.3 567.9 953.5 571.4 969.7 575.0 985.8 578.8 1002.0 582.7 1018.1 586.7 1034.3 590.8 1050.4 595.1 1066.5 599.5 1082.6 604.0 1098.7 608.6 1114.8 613.4 1130.9 618.3 1147.0 623.4 1163.0 628.6 1179.1 633.9 1195.1 639.4 1211.2 645.0 1227.2 650.8 1243.2 656.7 1259.2 662.7 1275.2 668.9 1291.2 675.2 1307.2 681.7 1323.1 688.3 1339.1 695.1 1355.0 702.0 1370.9 709.1 1386.8 716.3 1402.7 723.7 1418.6 731.2 1434.4 738.9 M478.7 556.4 495.1 556.8 511.4 557.3 527.8 557.9 544.1 558.5 560.5 559.3 576.8 560.2 593.2 561.1 609.5 562.2 625.9 563.3 642.2 564.5 658.6 565.8 674.9 567.3 691.3 568.8 707.6 570.4 723.9 572.1 740.3 574.0 756.6 575.9 772.9 577.9 789.2 580.0 805.5 582.3 821.8 584.6 838.1 587.1 854.4 589.7 870.7 592.3 887.0 595.1 903.3 598.0 919.6 601.0 935.8 604.2 952.1 607.4 968.4 610.8 984.6 614.3 1000.9 617.9 1017.1 621.6 1033.3 625.5 1049.6 629.4 1065.8 633.5 1082.0 637.7 1098.2 642.1 1114.4 646.6 1130.5 651.2 1146.7 655.9 1162.9 660.7 1179.0 665.7 1195.2 670.9 1211.3 676.1 1227.4 681.5 1243.6 687.1 1259.7 692.7 1275.8 698.5 1291.8 704.5 1307.9 710.6 1324.0 716.8 1340.0 723.2 1356.0 729.7 1372.1 736.4 1388.1 743.2 1404.1 750.2 1420.1 757.3 1436.0 764.5 1452.0 771.9 M492.2 599.3 508.6 599.7 525.1 600.2 541.5 600.7 558.0 601.3 574.4 602.0 590.8 602.9 607.3 603.7 623.7 604.7 640.2 605.8 656.6 607.0 673.0 608.2 689.5 609.6 705.9 611.0 722.3 612.6 738.7 614.2 755.2 615.9 771.6 617.8 788.0 619.7 804.4 621.7 820.8 623.9 837.2 626.1 853.6 628.5 870.0 630.9 886.4 633.5 902.7 636.1 919.1 638.9 935.5 641.8 951.8 644.8 968.2 647.9 984.5 651.1 1000.9 654.5 1017.2 657.9 1033.6 661.5 1049.9 665.2 1066.2 669.0 1082.5 672.9 1098.8 676.9 1115.1 681.1 1131.4 685.4 1147.7 689.8 1163.9 694.3 1180.2 699.0 1196.5 703.8 1212.7 708.7 1228.9 713.8 1245.1 718.9 1261.4 724.3 1277.6 729.7 1293.8 735.3 1309.9 741.0 1326.1 746.8 1342.3 752.8 1358.4 758.9 1374.5 765.2 1390.7 771.6 1406.8 778.2 1422.9 784.8 1438.9 791.7 1455.0 798.6 1471.1 805.8 M506.8 643.3 523.3 643.6 539.9 644.0 556.4 644.5 572.9 645.1 589.5 645.8 606.0 646.5 622.6 647.4 639.1 648.3 655.6 649.3 672.2 650.4 688.7 651.6 705.2 652.9 721.8 654.2 738.3 655.7 754.8 657.2 771.3 658.9 787.8 660.6 804.3 662.5 820.9 664.4 837.4 666.4 853.9 668.6 870.3 670.8 886.8 673.1 903.3 675.6 919.8 678.1 936.3 680.8 952.7 683.5 969.2 686.4 985.7 689.3 1002.1 692.4 1018.6 695.6 1035.0 698.9 1051.4 702.3 1067.9 705.8 1084.3 709.5 1100.7 713.2 1117.1 717.1 1133.5 721.0 1149.9 725.1 1166.3 729.4 1182.6 733.7 1199.0 738.2 1215.3 742.8 1231.7 747.5 1248.0 752.3 1264.4 757.3 1280.7 762.3 1297.0 767.5 1313.3 772.9 1329.6 778.4 1345.8 784.0 1362.1 789.7 1378.4 795.5 1394.6 801.5 1410.8 807.7 1427.0 813.9 1443.3 820.4 1459.4 826.9 1475.6 833.6 1491.8 840.4 M520.8 683.2 537.4 683.5 554.1 683.9 570.7 684.4 587.3 684.9 604.0 685.5 620.6 686.2 637.2 687.0 653.9 687.9 670.5 688.9 687.1 689.9 703.8 691.0 720.4 692.2 737.0 693.5 753.6 694.9 770.2 696.4 786.8 698.0 803.4 699.6 820.1 701.4 836.7 703.2 853.2 705.2 869.8 707.2 886.4 709.3 903.0 711.6 919.6 713.9 936.2 716.3 952.7 718.9 969.3 721.5 985.9 724.2 1002.4 727.1 1019.0 730.0 1035.5 733.1 1052.0 736.2 1068.6 739.5 1085.1 742.9 1101.6 746.4 1118.1 749.9 1134.6 753.7 1151.1 757.5 1167.6 761.4 1184.1 765.5 1200.6 769.6 1217.0 773.9 1233.5 778.3 1249.9 782.8 1266.3 787.5 1282.8 792.2 1299.2 797.1 1315.6 802.1 1332.0 807.3 1348.4 812.5 1364.8 817.9 1381.1 823.4 1397.5 829.0 1413.8 834.8 1430.2 840.7 1446.5 846.7 1462.8 852.9 1479.1 859.2 1495.4 865.6 1511.6 872.2 M534.7 721.2 551.5 721.5 568.2 721.8 584.9 722.2 601.7 722.7 618.4 723.3 635.1 724.0 651.9 724.7 668.6 725.5 685.3 726.4 702.0 727.4 718.7 728.5 735.5 729.6 752.2 730.9 768.9 732.2 785.6 733.6 802.3 735.1 819.0 736.7 835.7 738.4 852.4 740.1 869.1 742.0 885.8 743.9 902.5 746.0 919.1 748.1 935.8 750.3 952.5 752.7 969.1 755.1 985.8 757.6 1002.5 760.2 1019.1 763.0 1035.7 765.8 1052.4 768.7 1069.0 771.7 1085.6 774.9 1102.3 778.1 1118.9 781.5 1135.5 784.9 1152.1 788.5 1168.7 792.2 1185.3 795.9 1201.8 799.8 1218.4 803.8 1235.0 807.9 1251.5 812.2 1268.1 816.5 1284.6 821.0 1301.1 825.6 1317.6 830.3 1334.1 835.1 1350.6 840.0 1367.1 845.1 1383.6 850.3 1400.1 855.6 1416.5 861.0 1433.0 866.5 1449.4 872.2 1465.8 878.0 1482.2 883.9 1498.6 890.0 1515.0 896.2 1531.4 902.5 M548.9 758.1 565.8 758.4 582.6 758.7 599.4 759.1 616.3 759.6 633.1 760.1 649.9 760.7 666.7 761.4 683.5 762.2 700.4 763.0 717.2 764.0 734.0 765.0 750.8 766.1 767.6 767.2 784.4 768.5 801.2 769.8 818.0 771.3 834.8 772.8 851.6 774.4 868.4 776.1 885.2 777.8 902.0 779.7 918.8 781.6 935.5 783.7 952.3 785.8 969.1 788.1 985.8 790.4 1002.6 792.8 1019.3 795.3 1036.1 797.9 1052.8 800.6 1069.6 803.4 1086.3 806.4 1103.0 809.4 1119.7 812.5 1136.4 815.7 1153.1 819.0 1169.8 822.4 1186.5 826.0 1203.2 829.6 1219.9 833.3 1236.6 837.2 1253.2 841.1 1269.9 845.2 1286.5 849.4 1303.2 853.7 1319.8 858.1 1336.4 862.6 1353.0 867.2 1369.6 872.0 1386.2 876.8 1402.8 881.8 1419.3 886.9 1435.9 892.2 1452.5 897.5 1469.0 903.0 1485.5 908.5 1502.0 914.3 1518.5 920.1 1535.0 926.0 1551.5 932.1 M563.3 794.1 580.3 794.3 597.2 794.6 614.1 795.0 631.0 795.4 648.0 795.9 664.9 796.5 681.8 797.1 698.7 797.9 715.6 798.7 732.5 799.5 749.5 800.5 766.4 801.5 783.3 802.6 800.2 803.8 817.1 805.1 834.0 806.5 850.9 807.9 867.8 809.4 884.6 811.0 901.5 812.7 918.4 814.5 935.3 816.4 952.2 818.3 969.0 820.4 985.9 822.5 1002.7 824.7 1019.6 827.1 1036.4 829.5 1053.3 832.0 1070.1 834.6 1087.0 837.3 1103.8 840.1 1120.6 842.9 1137.4 845.9 1154.2 849.0 1171.0 852.2 1187.8 855.5 1204.6 858.9 1221.4 862.4 1238.2 866.0 1255.0 869.7 1271.7 873.5 1288.5 877.4 1305.2 881.4 1322.0 885.5 1338.7 889.8 1355.4 894.1 1372.1 898.6 1388.8 903.1 1405.5 907.8 1422.2 912.6 1438.9 917.5 1455.5 922.6 1472.2 927.7 1488.8 933.0 1505.5 938.3 1522.1 943.8 1538.7 949.5 1555.3 955.2 1571.9 961.1 M576.6 826.1 593.6 826.3 610.6 826.5 627.7 826.9 644.7 827.3 661.7 827.7 678.7 828.3 695.7 828.9 712.7 829.6 729.7 830.3 746.7 831.2 763.7 832.1 780.7 833.1 797.7 834.1 814.7 835.3 831.7 836.5 848.7 837.8 865.6 839.2 882.6 840.6 899.6 842.2 916.6 843.8 933.5 845.5 950.5 847.3 967.5 849.2 984.4 851.1 1001.4 853.2 1018.3 855.3 1035.3 857.6 1052.2 859.9 1069.2 862.3 1086.1 864.8 1103.0 867.4 1119.9 870.1 1136.8 872.9 1153.7 875.8 1170.6 878.8 1187.5 881.8 1204.4 885.0 1221.3 888.3 1238.2 891.6 1255.1 895.1 1271.9 898.7 1288.8 902.4 1305.6 906.2 1322.5 910.0 1339.3 914.0 1356.1 918.1 1372.9 922.3 1389.7 926.6 1406.5 931.1 1423.3 935.6 1440.1 940.2 1456.8 945.0 1473.6 949.8 1490.4 954.8 1507.1 959.9 1523.8 965.1 1540.5 970.4 1557.2 975.9 1573.9 981.4 1590.6 987.1 M590.8 859.0 607.9 859.2 625.0 859.4 642.1 859.7 659.2 860.1 676.3 860.6 693.4 861.1 710.5 861.6 727.6 862.3 744.7 863.0 761.8 863.8 778.9 864.6 796.0 865.6 813.1 866.6 830.2 867.7 847.3 868.8 864.3 870.1 881.4 871.4 898.5 872.8 915.6 874.3 932.6 875.8 949.7 877.5 966.8 879.2 983.8 881.0 1000.9 882.9 1017.9 884.8 1035.0 886.9 1052.0 889.0 1069.0 891.3 1086.1 893.6 1103.1 896.0 1120.1 898.5 1137.1 901.1 1154.1 903.8 1171.1 906.5 1188.1 909.4 1205.1 912.4 1222.1 915.4 1239.1 918.6 1256.1 921.8 1273.0 925.2 1290.0 928.6 1307.0 932.1 1323.9 935.8 1340.8 939.5 1357.8 943.4 1374.7 947.3 1391.6 951.4 1408.5 955.5 1425.4 959.8 1442.3 964.2 1459.2 968.6 1476.0 973.2 1492.9 977.9 1509.7 982.7 1526.6 987.6 1543.4 992.6 1560.2 997.8 1577.0 1003.0 1593.8 1008.4 1610.6 1013.8 M605.0 891.0 622.2 891.1 639.4 891.4 656.6 891.6 673.8 892.0 691.0 892.4 708.2 892.8 725.4 893.4 742.6 894.0 759.8 894.7 776.9 895.4 794.1 896.2 811.3 897.1 828.5 898.1 845.7 899.1 862.9 900.2 880.0 901.4 897.2 902.7 914.4 904.0 931.6 905.4 948.7 906.9 965.9 908.5 983.0 910.1 1000.2 911.8 1017.3 913.6 1034.5 915.5 1051.6 917.5 1068.8 919.6 1085.9 921.7 1103.0 923.9 1120.1 926.3 1137.3 928.7 1154.4 931.1 1171.5 933.7 1188.6 936.4 1205.7 939.1 1222.8 942.0 1239.9 944.9 1256.9 948.0 1274.0 951.1 1291.1 954.3 1308.1 957.6 1325.2 961.1 1342.2 964.6 1359.3 968.2 1376.3 971.9 1393.3 975.7 1410.3 979.6 1427.3 983.6 1444.3 987.7 1461.3 991.9 1478.3 996.3 1495.2 1000.7 1512.2 1005.2 1529.2 1009.8 1546.1 1014.6 1563.0 1019.4 1579.9 1024.4 1596.9 1029.4 1613.8 1034.6 1630.6 1039.9 M619.1 922.0 636.4 922.1 653.7 922.3 671.0 922.5 688.3 922.8 705.6 923.2 722.9 923.6 740.2 924.2 757.5 924.7 774.8 925.4 792.1 926.1 809.3 926.8 826.6 927.7 843.9 928.6 861.2 929.6 878.5 930.6 895.7 931.8 913.0 933.0 930.3 934.2 947.5 935.6 964.8 937.0 982.0 938.5 999.3 940.1 1016.5 941.7 1033.8 943.5 1051.0 945.3 1068.3 947.2 1085.5 949.2 1102.7 951.2 1120.0 953.4 1137.2 955.6 1154.4 957.9 1171.6 960.3 1188.8 962.8 1206.0 965.3 1223.2 968.0 1240.4 970.7 1257.6 973.6 1274.7 976.5 1291.9 979.5 1309.1 982.6 1326.2 985.8 1343.4 989.1 1360.5 992.5 1377.6 996.0 1394.8 999.6 1411.9 1003.2 1429.0 1007.0 1446.1 1010.9 1463.2 1014.8 1480.3 1018.9 1497.4 1023.1 1514.4 1027.3 1531.5 1031.7 1548.5 1036.2 1565.6 1040.8 1582.6 1045.5 1599.6 1050.2 1616.6 1055.1 1633.7 1060.1 1650.6 1065.2 M633.5 952.4 650.9 952.5 668.3 952.7 685.7 952.9 703.1 953.2 720.5 953.5 737.8 954.0 755.2 954.4 772.6 955.0 790.0 955.6 807.4 956.2 824.8 957.0 842.1 957.7 859.5 958.6 876.9 959.5 894.2 960.6 911.6 961.6 929.0 962.8 946.3 964.0 963.7 965.3 981.1 966.6 998.4 968.1 1015.8 969.6 1033.1 971.2 1050.5 972.8 1067.8 974.6 1085.1 976.4 1102.5 978.3 1119.8 980.3 1137.1 982.3 1154.4 984.5 1171.7 986.7 1189.0 989.0 1206.3 991.4 1223.6 993.9 1240.9 996.4 1258.2 999.1 1275.5 1001.8 1292.8 1004.6 1310.0 1007.5 1327.3 1010.5 1344.5 1013.6 1361.8 1016.8 1379.0 1020.0 1396.3 1023.4 1413.5 1026.8 1430.7 1030.4 1447.9 1034.0 1465.1 1037.7 1482.3 1041.6 1499.5 1045.5 1516.7 1049.5 1533.9 1053.6 1551.0 1057.9 1568.2 1062.2 1585.3 1066.6 1602.5 1071.1 1619.6 1075.7 1636.7 1080.5 1653.8 1085.3 1670.9 1090.2 M647.3 980.9 664.8 981.0 682.2 981.1 699.7 981.3 717.2 981.6 734.7 981.9 752.2 982.3 769.7 982.7 787.1 983.2 804.6 983.8 822.1 984.4 839.5 985.1 857.0 985.9 874.5 986.7 891.9 987.6 909.4 988.5 926.9 989.6 944.3 990.7 961.8 991.8 979.2 993.1 996.7 994.4 1014.1 995.7 1031.6 997.2 1049.0 998.7 1066.4 1000.3 1083.9 1002.0 1101.3 1003.7 1118.7 1005.6 1136.1 1007.5 1153.6 1009.5 1171.0 1011.5 1188.4 1013.7 1205.8 1015.9 1223.2 1018.2 1240.6 1020.6 1258.0 1023.0 1275.3 1025.6 1292.7 1028.2 1310.1 1030.9 1327.4 1033.7 1344.8 1036.6 1362.1 1039.6 1379.5 1042.7 1396.8 1045.8 1414.2 1049.1 1431.5 1052.4 1448.8 1055.9 1466.1 1059.4 1483.4 1063.0 1500.7 1066.7 1518.0 1070.5 1535.2 1074.4 1552.5 1078.4 1569.8 1082.4 1587.0 1086.6 1604.3 1090.9 1621.5 1095.3 1638.7 1099.8 1655.9 1104.3 1673.1 1109.0 1690.3 1113.8 M660.9 1008.4 678.5 1008.5 696.1 1008.6 713.6 1008.7 731.2 1009.0 748.8 1009.3 766.4 1009.6 783.9 1010.0 801.5 1010.5 819.1 1011.0 836.6 1011.6 854.2 1012.3 871.7 1013.0 889.3 1013.8 906.9 1014.6 924.4 1015.5 942.0 1016.5 959.5 1017.6 977.1 1018.7 994.6 1019.9 1012.1 1021.1 1029.7 1022.4 1047.2 1023.8 1064.7 1025.3 1082.3 1026.9 1099.8 1028.5 1117.3 1030.1 1134.8 1031.9 1152.3 1033.7 1169.9 1035.7 1187.4 1037.6 1204.9 1039.7 1222.3 1041.9 1239.8 1044.1 1257.3 1046.4 1274.8 1048.8 1292.3 1051.2 1309.7 1053.8 1327.2 1056.4 1344.7 1059.1 1362.1 1061.9 1379.5 1064.8 1397.0 1067.8 1414.4 1070.8 1431.8 1074.0 1449.3 1077.2 1466.7 1080.5 1484.1 1083.9 1501.5 1087.4 1518.8 1091.0 1536.2 1094.7 1553.6 1098.4 1571.0 1102.3 1588.3 1106.3 1605.7 1110.3 1623.0 1114.5 1640.3 1118.7 1657.6 1123.0 1675.0 1127.5 1692.3 1132.0 1709.5 1136.6 M674.9 1035.9 692.6 1035.9 710.2 1036.0 727.9 1036.2 745.6 1036.4 763.2 1036.6 780.9 1036.9 798.5 1037.3 816.2 1037.8 833.9 1038.3 851.5 1038.8 869.2 1039.4 886.8 1040.1 904.5 1040.9 922.1 1041.7 939.8 1042.6 957.4 1043.5 975.1 1044.5 992.7 1045.6 1010.3 1046.7 1028.0 1047.9 1045.6 1049.2 1063.2 1050.5 1080.9 1051.9 1098.5 1053.4 1116.1 1054.9 1133.7 1056.6 1151.3 1058.3 1168.9 1060.0 1186.5 1061.9 1204.1 1063.8 1221.7 1065.8 1239.3 1067.8 1256.9 1070.0 1274.5 1072.2 1292.0 1074.5 1309.6 1076.9 1327.2 1079.3 1344.7 1081.9 1362.3 1084.5 1379.8 1087.2 1397.4 1090.0 1414.9 1092.9 1432.4 1095.8 1450.0 1098.8 1467.5 1102.0 1485.0 1105.2 1502.5 1108.5 1520.0 1111.8 1537.4 1115.3 1554.9 1118.9 1572.4 1122.5 1589.9 1126.3 1607.3 1130.1 1624.8 1134.0 1642.2 1138.0 1659.6 1142.1 1677.0 1146.3 1694.4 1150.6 1711.8 1155.0 1729.2 1159.5 M688.9 1062.8 706.7 1062.9 724.4 1062.9 742.2 1063.1 760.0 1063.3 777.7 1063.5 795.5 1063.8 813.2 1064.1 831.0 1064.5 848.7 1065.0 866.5 1065.5 884.2 1066.1 902.0 1066.8 919.7 1067.5 937.5 1068.2 955.2 1069.1 973.0 1070.0 990.7 1070.9 1008.4 1071.9 1026.2 1073.0 1043.9 1074.2 1061.6 1075.4 1079.3 1076.7 1097.1 1078.0 1114.8 1079.5 1132.5 1080.9 1150.2 1082.5 1167.9 1084.1 1185.6 1085.8 1203.3 1087.6 1221.0 1089.5 1238.7 1091.4 1256.4 1093.4 1274.0 1095.4 1291.7 1097.6 1309.4 1099.8 1327.1 1102.1 1344.7 1104.5 1362.4 1106.9 1380.0 1109.5 1397.7 1112.1 1415.3 1114.8 1432.9 1117.5 1450.5 1120.4 1468.2 1123.3 1485.8 1126.3 1503.4 1129.4 1521.0 1132.6 1538.6 1135.9 1556.1 1139.3 1573.7 1142.7 1591.3 1146.2 1608.8 1149.9 1626.4 1153.6 1643.9 1157.4 1661.5 1161.2 1679.0 1165.2 1696.5 1169.3 1714.0 1173.5 1731.5 1177.7 1749.0 1182.1 M417.5 311.7 420.5 326.4 423.4 340.4 426.2 353.8 428.9 366.6 431.7 379.0 434.5 391.3 437.4 403.4 440.3 415.5 443.3 427.8 446.4 440.3 449.6 452.8 452.9 465.5 456.3 478.1 459.7 490.6 463.1 502.8 466.3 514.4 469.5 525.4 472.6 535.9 475.6 546.1 478.7 556.4 481.9 566.8 485.2 577.5 488.6 588.3 492.2 599.3 495.8 610.4 499.4 621.5 503.1 632.5 506.8 643.3 510.3 653.6 513.8 663.7 517.3 673.5 520.8 683.2 524.3 692.8 527.7 702.3 531.2 711.8 534.7 721.2 538.3 730.5 541.8 739.7 545.3 748.9 548.9 758.1 552.6 767.4 556.2 776.5 559.8 785.5 563.3 794.1 566.7 802.3 570.0 810.3 573.3 818.1 576.6 826.1 580.1 834.2 583.6 842.4 587.2 850.8 590.8 859.0 594.4 867.2 597.9 875.2 601.4 883.1 605.0 891.0 608.5 898.8 612.0 906.5 615.6 914.3 619.1 922.0 622.7 929.7 626.3 937.4 629.9 945.0 633.5 952.4 637.0 959.7 640.5 966.9 643.9 974.0 647.3 980.9 650.7 987.8 654.1 994.7 657.5 1001.5 660.9 1008.4 664.4 1015.3 667.9 1022.1 671.4 1029.0 674.9 1035.9 678.4 1042.7 681.9 1049.5 685.4 1056.2 688.9 1062.8 M481.3 314.8 484.4 329.5 487.3 343.5 490.2 356.8 493.1 369.5 495.9 381.9 498.8 394.1 501.7 406.2 504.7 418.3 507.8 430.5 511.0 442.9 514.3 455.4 517.6 468.0 521.1 480.6 524.6 493.1 528.1 505.2 531.4 516.8 534.7 527.7 537.8 538.1 541.0 548.3 544.1 558.5 547.4 568.9 550.8 579.6 554.3 590.4 558.0 601.3 561.7 612.4 565.4 623.5 569.2 634.4 572.9 645.1 576.6 655.4 580.2 665.5 583.8 675.3 587.3 684.9 590.9 694.5 594.5 704.0 598.1 713.4 601.7 722.7 605.3 732.0 608.9 741.2 612.6 750.4 616.3 759.6 620.0 768.8 623.8 777.9 627.4 786.8 631.0 795.4 634.5 803.6 637.9 811.5 641.2 819.4 644.7 827.3 648.2 835.4 651.8 843.6 655.5 851.9 659.2 860.1 662.9 868.2 666.5 876.2 670.2 884.1 673.8 892.0 677.4 899.7 681.0 907.5 684.7 915.1 688.3 922.8 692.0 930.5 695.7 938.2 699.4 945.8 703.1 953.2 706.7 960.5 710.2 967.6 713.7 974.6 717.2 981.6 720.7 988.5 724.2 995.3 727.7 1002.1 731.2 1009.0 734.8 1015.8 738.3 1022.7 741.9 1029.5 745.6 1036.4 749.2 1043.2 752.8 1049.9 756.4 1056.6 760.0 1063.3 M545.1 319.7 548.2 334.4 551.2 348.2 554.2 361.4 557.1 374.1 560.1 386.5 563.0 398.6 566.0 410.6 569.1 422.6 572.2 434.8 575.5 447.1 578.9 459.6 582.4 472.1 585.9 484.6 589.5 497.0 593.1 509.1 596.5 520.6 599.8 531.4 603.1 541.8 606.3 552.0 609.5 562.2 612.9 572.5 616.4 583.1 620.0 593.8 623.7 604.7 627.5 615.7 631.4 626.8 635.3 637.7 639.1 648.3 642.9 658.6 646.6 668.5 650.2 678.3 653.9 687.9 657.5 697.4 661.2 706.9 664.9 716.2 668.6 725.5 672.3 734.8 676.0 743.9 679.8 753.1 683.5 762.2 687.4 771.4 691.2 780.4 695.0 789.3 698.7 797.9 702.3 806.0 705.7 813.9 709.2 821.7 712.7 829.6 716.3 837.6 720.1 845.8 723.8 854.1 727.6 862.3 731.4 870.4 735.1 878.3 738.8 886.2 742.6 894.0 746.3 901.7 750.0 909.4 753.7 917.1 757.5 924.7 761.3 932.4 765.1 940.0 768.9 947.5 772.6 955.0 776.3 962.2 779.9 969.3 783.5 976.3 787.1 983.2 790.7 990.1 794.3 996.9 797.9 1003.7 801.5 1010.5 805.1 1017.3 808.8 1024.1 812.5 1031.0 816.2 1037.8 819.9 1044.5 823.6 1051.3 827.3 1057.9 831.0 1064.5 M608.8 326.5 612.0 341.0 615.1 354.8 618.2 367.9 621.2 380.5 624.2 392.8 627.2 404.8 630.3 416.7 633.4 428.6 636.7 440.8 640.0 453.0 643.5 465.4 647.1 477.8 650.7 490.2 654.4 502.5 658.0 514.5 661.6 526.0 665.0 536.8 668.3 547.1 671.6 557.2 674.9 567.3 678.4 577.6 682.0 588.1 685.7 598.7 689.5 609.6 693.4 620.5 697.3 631.5 701.3 642.3 705.2 652.9 709.1 663.1 712.9 673.0 716.6 682.7 720.4 692.2 724.1 701.7 727.9 711.1 731.7 720.4 735.5 729.6 739.3 738.8 743.1 747.9 746.9 757.0 750.8 766.1 754.7 775.2 758.7 784.2 762.6 793.0 766.4 801.5 770.0 809.6 773.6 817.5 777.1 825.2 780.7 833.1 784.4 841.1 788.2 849.2 792.1 857.4 796.0 865.6 799.9 873.6 803.7 881.5 807.5 889.4 811.3 897.1 815.1 904.8 818.9 912.4 822.8 920.1 826.6 927.7 830.5 935.3 834.4 942.9 838.3 950.4 842.1 957.7 845.9 965.0 849.6 972.0 853.3 979.0 857.0 985.9 860.7 992.7 864.4 999.5 868.0 1006.2 871.7 1013.0 875.5 1019.8 879.2 1026.6 883.0 1033.4 886.8 1040.1 890.6 1046.9 894.4 1053.6 898.2 1060.2 902.0 1066.8 M672.5 335.2 675.8 349.6 679.0 363.2 682.1 376.2 685.2 388.7 688.2 400.9 691.3 412.8 694.5 424.6 697.7 436.5 701.0 448.5 704.5 460.6 708.0 472.9 711.7 485.2 715.4 497.5 719.2 509.7 722.9 521.6 726.6 533.0 730.1 543.7 733.5 553.9 736.8 563.9 740.3 574.0 743.8 584.2 747.5 594.6 751.3 605.2 755.2 615.9 759.2 626.8 763.2 637.7 767.3 648.4 771.3 658.9 775.3 669.0 779.2 678.9 783.0 688.5 786.8 698.0 790.7 707.4 794.5 716.7 798.4 725.9 802.3 735.1 806.2 744.2 810.1 753.2 814.0 762.2 818.0 771.3 822.1 780.3 826.1 789.3 830.1 798.0 834.0 806.5 837.7 814.5 841.3 822.3 845.0 830.0 848.7 837.8 852.5 845.7 856.4 853.8 860.4 862.0 864.3 870.1 868.3 878.1 872.2 885.9 876.1 893.7 880.0 901.4 883.9 909.0 887.9 916.6 891.8 924.2 895.7 931.8 899.7 939.3 903.7 946.9 907.7 954.3 911.6 961.6 915.5 968.8 919.3 975.8 923.1 982.7 926.9 989.6 930.6 996.3 934.4 1003.1 938.2 1009.8 942.0 1016.5 945.8 1023.3 949.7 1030.0 953.5 1036.8 957.4 1043.5 961.3 1050.2 965.2 1056.8 969.1 1063.4 973.0 1070.0 M736.1 345.8 739.5 360.1 742.7 373.6 745.9 386.5 749.1 398.8 752.2 410.9 755.4 422.7 758.6 434.4 761.9 446.1 765.3 458.0 768.9 470.0 772.5 482.2 776.3 494.4 780.1 506.6 784.0 518.7 787.8 530.4 791.5 541.7 795.1 552.3 798.6 562.4 802.0 572.4 805.5 582.3 809.2 592.4 812.9 602.7 816.8 613.2 820.8 623.9 824.9 634.6 829.1 645.4 833.2 656.0 837.4 666.4 841.4 676.5 845.4 686.2 849.3 695.8 853.2 705.2 857.2 714.5 861.1 723.7 865.1 732.9 869.1 742.0 873.1 751.0 877.1 759.9 881.1 768.9 885.2 777.8 889.3 786.8 893.5 795.7 897.6 804.4 901.5 812.7 905.3 820.7 909.1 828.5 912.8 836.1 916.6 843.8 920.5 851.7 924.5 859.7 928.6 867.8 932.6 875.8 936.7 883.7 940.7 891.5 944.7 899.3 948.7 906.9 952.7 914.5 956.7 922.0 960.7 929.5 964.8 937.0 968.9 944.5 973.0 952.0 977.0 959.4 981.1 966.6 985.0 973.8 988.9 980.7 992.8 987.6 996.7 994.4 1000.5 1001.1 1004.4 1007.8 1008.3 1014.4 1012.1 1021.1 1016.1 1027.8 1020.0 1034.5 1024.0 1041.2 1028.0 1047.9 1032.0 1054.5 1036.0 1061.1 1039.9 1067.7 1043.9 1074.2 M799.6 358.6 803.1 372.7 806.4 386.0 809.7 398.8 812.9 411.0 816.1 422.9 819.4 434.5 822.7 446.1 826.1 457.7 829.6 469.5 833.2 481.3 836.9 493.3 840.8 505.4 844.7 517.5 848.6 529.4 852.6 541.1 856.4 552.2 860.0 562.7 863.6 572.7 867.1 582.5 870.7 592.3 874.4 602.3 878.3 612.6 882.3 622.9 886.4 633.5 890.6 644.1 894.8 654.8 899.1 665.3 903.3 675.6 907.5 685.5 911.5 695.2 915.6 704.6 919.6 713.9 923.6 723.1 927.7 732.3 931.7 741.3 935.8 750.3 939.9 759.3 944.0 768.1 948.1 777.0 952.3 785.8 956.5 794.7 960.8 803.5 965.0 812.1 969.0 820.4 972.9 828.3 976.8 836.0 980.6 843.5 984.4 851.1 988.4 859.0 992.5 866.9 996.7 874.9 1000.9 882.9 1005.0 890.7 1009.1 898.4 1013.2 906.1 1017.3 913.6 1021.4 921.1 1025.5 928.6 1029.6 936.0 1033.8 943.5 1038.0 950.9 1042.2 958.3 1046.3 965.6 1050.5 972.8 1054.5 979.9 1058.5 986.8 1062.5 993.6 1066.4 1000.3 1070.4 1007.0 1074.3 1013.6 1078.3 1020.2 1082.3 1026.9 1086.3 1033.5 1090.3 1040.1 1094.4 1046.8 1098.5 1053.4 1102.6 1060.0 1106.7 1066.5 1110.7 1073.0 1114.8 1079.5 M863.0 373.6 866.6 387.5 870.0 400.6 873.4 413.2 876.7 425.2 880.0 436.9 883.3 448.4 886.7 459.9 890.1 471.3 893.7 482.9 897.4 494.6 901.2 506.5 905.2 518.4 909.2 530.3 913.2 542.1 917.2 553.5 921.1 564.5 924.9 574.9 928.5 584.8 932.2 594.5 935.8 604.2 939.6 614.1 943.6 624.1 947.6 634.4 951.8 644.8 956.1 655.3 960.5 665.8 964.9 676.2 969.2 686.4 973.4 696.2 977.6 705.7 981.7 715.0 985.9 724.2 990.0 733.3 994.1 742.4 998.3 751.3 1002.5 760.2 1006.6 769.0 1010.8 777.8 1015.1 786.6 1019.3 795.3 1023.7 804.1 1028.0 812.8 1032.3 821.3 1036.4 829.5 1040.4 837.3 1044.4 844.9 1048.3 852.4 1052.2 859.9 1056.3 867.6 1060.5 875.5 1064.8 883.4 1069.0 891.3 1073.3 899.0 1077.5 906.7 1081.7 914.2 1085.9 921.7 1090.1 929.1 1094.3 936.5 1098.5 943.9 1102.7 951.2 1107.0 958.6 1111.3 965.9 1115.6 973.2 1119.8 980.3 1123.9 987.3 1128.0 994.1 1132.1 1000.8 1136.1 1007.5 1140.2 1014.1 1144.2 1020.6 1148.3 1027.2 1152.3 1033.7 1156.5 1040.3 1160.6 1046.9 1164.8 1053.5 1168.9 1060.0 1173.1 1066.6 1177.3 1073.0 1181.5 1079.5 1185.6 1085.8 M926.3 390.8 930.0 404.5 933.5 417.4 936.9 429.8 940.3 441.6 943.7 453.2 947.1 464.5 950.5 475.7 954.1 487.0 957.7 498.4 961.5 510.0 965.4 521.6 969.5 533.3 973.6 545.1 977.7 556.7 981.8 568.0 985.8 578.8 989.7 589.0 993.4 598.8 997.1 608.3 1000.9 617.9 1004.8 627.6 1008.8 637.6 1012.9 647.7 1017.2 657.9 1021.6 668.3 1026.1 678.6 1030.6 688.9 1035.0 698.9 1039.3 708.6 1043.6 718.0 1047.8 727.2 1052.0 736.2 1056.3 745.2 1060.5 754.1 1064.8 763.0 1069.0 771.7 1073.3 780.4 1077.6 789.1 1081.9 797.7 1086.3 806.4 1090.7 815.0 1095.2 823.6 1099.5 832.0 1103.8 840.1 1107.9 847.8 1111.9 855.3 1115.9 862.7 1119.9 870.1 1124.1 877.7 1128.4 885.5 1132.8 893.3 1137.1 901.1 1141.5 908.7 1145.8 916.3 1150.1 923.8 1154.4 931.1 1158.7 938.5 1162.9 945.8 1167.3 953.0 1171.6 960.3 1176.0 967.6 1180.3 974.8 1184.7 982.0 1189.0 989.0 1193.3 995.9 1197.5 1002.7 1201.6 1009.3 1205.8 1015.9 1209.9 1022.4 1214.0 1028.9 1218.2 1035.4 1222.3 1041.9 1226.6 1048.4 1230.8 1054.9 1235.0 1061.4 1239.3 1067.8 1243.6 1074.3 1247.9 1080.7 1252.1 1087.1 1256.4 1093.4 M989.5 410.4 993.2 423.8 996.8 436.5 1000.3 448.7 1003.8 460.3 1007.3 471.6 1010.7 482.8 1014.3 493.8 1017.9 504.9 1021.7 516.1 1025.5 527.4 1029.5 538.9 1033.6 550.4 1037.9 561.9 1042.1 573.3 1046.3 584.4 1050.4 595.1 1054.3 605.1 1058.1 614.7 1061.9 624.1 1065.8 633.5 1069.7 643.1 1073.9 652.9 1078.1 662.8 1082.5 672.9 1087.0 683.1 1091.6 693.3 1096.2 703.4 1100.7 713.2 1105.1 722.7 1109.5 732.0 1113.8 741.0 1118.1 749.9 1122.4 758.8 1126.8 767.6 1131.1 776.3 1135.5 784.9 1139.9 793.5 1144.2 802.0 1148.7 810.5 1153.1 819.0 1157.7 827.5 1162.2 836.0 1166.7 844.2 1171.0 852.2 1175.2 859.8 1179.3 867.2 1183.4 874.5 1187.5 881.8 1191.8 889.4 1196.2 897.0 1200.7 904.7 1205.1 912.4 1209.6 919.9 1214.0 927.4 1218.4 934.7 1222.8 942.0 1227.1 949.2 1231.5 956.4 1235.9 963.6 1240.4 970.7 1244.8 977.9 1249.3 985.1 1253.8 992.1 1258.2 999.1 1262.6 1005.9 1266.9 1012.5 1271.1 1019.1 1275.3 1025.6 1279.5 1032.0 1283.8 1038.4 1288.0 1044.8 1292.3 1051.2 1296.6 1057.6 1300.9 1064.1 1305.3 1070.5 1309.6 1076.9 1314.0 1083.3 1318.4 1089.6 1322.7 1095.9 1327.1 1102.1 M1052.5 432.5 1056.3 445.6 1060.0 458.0 1063.6 469.9 1067.2 481.3 1070.7 492.4 1074.3 503.3 1077.9 514.1 1081.6 525.0 1085.4 536.0 1089.4 547.1 1093.5 558.3 1097.7 569.6 1102.0 580.9 1106.3 592.1 1110.6 603.0 1114.8 613.4 1118.8 623.3 1122.7 632.7 1126.6 641.9 1130.5 651.2 1134.6 660.6 1138.8 670.1 1143.2 679.9 1147.7 689.8 1152.3 699.8 1156.9 709.8 1161.6 719.7 1166.3 729.4 1170.8 738.7 1175.3 747.8 1179.7 756.7 1184.1 765.5 1188.5 774.2 1192.9 782.8 1197.4 791.3 1201.8 799.8 1206.3 808.2 1210.8 816.6 1215.3 825.0 1219.9 833.3 1224.5 841.7 1229.2 850.0 1233.7 858.1 1238.2 866.0 1242.5 873.5 1246.7 880.7 1250.8 887.9 1255.1 895.1 1259.4 902.5 1263.9 910.0 1268.5 917.6 1273.0 925.2 1277.6 932.6 1282.1 939.9 1286.6 947.2 1291.1 954.3 1295.5 961.4 1300.0 968.5 1304.5 975.6 1309.1 982.6 1313.6 989.7 1318.2 996.7 1322.8 1003.7 1327.3 1010.5 1331.7 1017.2 1336.1 1023.8 1340.5 1030.2 1344.8 1036.6 1349.1 1043.0 1353.4 1049.3 1357.7 1055.6 1362.1 1061.9 1366.5 1068.2 1370.9 1074.6 1375.4 1080.9 1379.8 1087.2 1384.3 1093.5 1388.8 1099.7 1393.2 1105.9 1397.7 1112.1 M1115.4 457.1 1119.3 469.9 1123.0 482.0 1126.7 493.6 1130.3 504.8 1134.0 515.6 1137.6 526.3 1141.3 536.9 1145.1 547.5 1149.0 558.2 1153.1 569.1 1157.3 580.0 1161.6 591.1 1166.0 602.1 1170.4 613.1 1174.8 623.7 1179.1 633.9 1183.2 643.6 1187.2 652.8 1191.2 661.8 1195.2 670.9 1199.3 680.1 1203.7 689.5 1208.1 699.0 1212.7 708.7 1217.4 718.5 1222.2 728.3 1227.0 738.0 1231.7 747.5 1236.3 756.6 1240.9 765.5 1245.4 774.2 1249.9 782.8 1254.4 791.4 1259.0 799.8 1263.5 808.2 1268.1 816.5 1272.6 824.8 1277.2 833.0 1281.8 841.2 1286.5 849.4 1291.3 857.6 1296.0 865.7 1300.7 873.7 1305.2 881.4 1309.6 888.8 1313.9 895.9 1318.1 902.9 1322.5 910.0 1326.9 917.3 1331.5 924.7 1336.2 932.1 1340.8 939.5 1345.5 946.8 1350.1 954.0 1354.7 961.1 1359.3 968.2 1363.8 975.2 1368.4 982.1 1373.0 989.1 1377.6 996.0 1382.3 1002.9 1387.0 1009.8 1391.7 1016.7 1396.3 1023.4 1400.8 1030.0 1405.3 1036.4 1409.7 1042.8 1414.2 1049.1 1418.6 1055.3 1423.0 1061.5 1427.4 1067.8 1431.8 1074.0 1436.3 1080.2 1440.9 1086.4 1445.4 1092.6 1450.0 1098.8 1454.5 1105.0 1459.1 1111.2 1463.6 1117.3 1468.2 1123.3 M1178.1 484.3 1182.0 496.8 1185.9 508.6 1189.6 519.9 1193.4 530.8 1197.1 541.3 1200.8 551.7 1204.6 562.0 1208.5 572.4 1212.5 582.8 1216.6 593.4 1220.9 604.1 1225.3 614.9 1229.8 625.7 1234.4 636.3 1238.8 646.7 1243.2 656.7 1247.4 666.1 1251.5 675.1 1255.5 683.9 1259.7 692.7 1263.9 701.7 1268.3 710.9 1272.9 720.2 1277.6 729.7 1282.4 739.3 1287.2 748.8 1292.1 758.3 1297.0 767.5 1301.7 776.5 1306.4 785.2 1311.0 793.7 1315.6 802.1 1320.2 810.5 1324.8 818.7 1329.5 826.9 1334.1 835.1 1338.8 843.2 1343.5 851.2 1348.2 859.2 1353.0 867.2 1357.8 875.3 1362.7 883.2 1367.5 891.0 1372.1 898.6 1376.6 905.8 1380.9 912.8 1385.3 919.7 1389.7 926.6 1394.3 933.8 1399.0 941.0 1403.7 948.3 1408.5 955.5 1413.2 962.7 1418.0 969.7 1422.6 976.7 1427.3 983.6 1432.0 990.5 1436.7 997.3 1441.4 1004.1 1446.1 1010.9 1450.9 1017.7 1455.7 1024.4 1460.4 1031.1 1465.1 1037.7 1469.8 1044.2 1474.4 1050.6 1478.9 1056.8 1483.4 1063.0 1487.9 1069.1 1492.4 1075.2 1496.9 1081.3 1501.5 1087.4 1506.0 1093.5 1510.7 1099.6 1515.3 1105.7 1520.0 1111.8 1524.6 1117.9 1529.3 1124.0 1533.9 1130.0 1538.6 1135.9 M1240.5 514.3 1244.6 526.3 1248.5 537.8 1252.4 548.8 1256.2 559.3 1260.0 569.6 1263.8 579.7 1267.6 589.7 1271.6 599.7 1275.7 609.9 1280.0 620.2 1284.3 630.6 1288.8 641.1 1293.5 651.5 1298.1 661.9 1302.7 672.0 1307.2 681.7 1311.4 690.8 1315.6 699.6 1319.8 708.2 1324.0 716.8 1328.3 725.6 1332.8 734.5 1337.5 743.6 1342.3 752.8 1347.2 762.1 1352.2 771.5 1357.2 780.7 1362.1 789.7 1366.9 798.4 1371.7 806.9 1376.4 815.2 1381.1 823.4 1385.8 831.5 1390.6 839.6 1395.3 847.6 1400.1 855.6 1404.8 863.4 1409.6 871.3 1414.5 879.1 1419.3 886.9 1424.3 894.8 1429.2 902.6 1434.1 910.2 1438.9 917.5 1443.4 924.6 1447.9 931.4 1452.3 938.2 1456.8 945.0 1461.5 951.9 1466.3 959.0 1471.2 966.1 1476.0 973.2 1480.9 980.2 1485.7 987.1 1490.5 993.9 1495.2 1000.7 1500.0 1007.4 1504.8 1014.0 1509.6 1020.7 1514.4 1027.3 1519.3 1034.0 1524.2 1040.6 1529.1 1047.2 1533.9 1053.6 1538.6 1060.0 1543.3 1066.2 1547.9 1072.3 1552.5 1078.4 1557.1 1084.4 1561.7 1090.4 1566.3 1096.3 1571.0 1102.3 1575.6 1108.3 1580.4 1114.3 1585.1 1120.3 1589.9 1126.3 1594.6 1132.2 1599.4 1138.1 1604.1 1144.0 1608.8 1149.9 M1302.7 547.0 1306.9 558.7 1310.9 569.8 1314.9 580.4 1318.8 590.6 1322.6 600.5 1326.5 610.3 1330.5 620.0 1334.6 629.7 1338.8 639.6 1343.1 649.5 1347.6 659.6 1352.2 669.7 1356.9 679.9 1361.6 689.9 1366.3 699.7 1370.9 709.1 1375.3 718.0 1379.5 726.5 1383.8 734.8 1388.1 743.2 1392.5 751.7 1397.1 760.4 1401.9 769.2 1406.8 778.2 1411.8 787.2 1416.9 796.2 1422.0 805.2 1427.0 813.9 1432.0 822.4 1436.9 830.7 1441.7 838.8 1446.5 846.7 1451.3 854.6 1456.1 862.5 1461.0 870.3 1465.8 878.0 1470.7 885.7 1475.6 893.3 1480.5 900.9 1485.5 908.5 1490.6 916.2 1495.6 923.8 1500.6 931.2 1505.5 938.3 1510.1 945.2 1514.7 951.9 1519.2 958.5 1523.8 965.1 1528.6 971.9 1533.5 978.8 1538.4 985.7 1543.4 992.6 1548.3 999.5 1553.3 1006.2 1558.1 1012.8 1563.0 1019.4 1567.9 1026.0 1572.8 1032.5 1577.7 1039.0 1582.6 1045.5 1587.6 1051.9 1592.6 1058.4 1597.5 1064.8 1602.5 1071.1 1607.3 1077.3 1612.1 1083.4 1616.8 1089.4 1621.5 1095.3 1626.2 1101.2 1630.9 1107.0 1635.6 1112.9 1640.3 1118.7 1645.1 1124.6 1649.9 1130.4 1654.8 1136.3 1659.6 1142.1 1664.5 1148.0 1669.3 1153.8 1674.2 1159.5 1679.0 1165.2 M1364.7 582.6 1369.0 593.9 1373.1 604.5 1377.1 614.8 1381.1 624.6 1385.1 634.2 1389.1 643.6 1393.1 652.9 1397.3 662.3 1401.6 671.8 1406.0 681.4 1410.6 691.2 1415.3 700.9 1420.1 710.7 1424.9 720.4 1429.8 729.9 1434.4 738.9 1438.9 747.5 1443.3 755.8 1447.6 763.9 1452.0 771.9 1456.5 780.2 1461.2 788.6 1466.1 797.1 1471.1 805.8 1476.2 814.5 1481.4 823.3 1486.6 831.9 1491.8 840.4 1496.8 848.6 1501.8 856.6 1506.7 864.4 1511.6 872.2 1516.6 879.8 1521.5 887.4 1526.5 895.0 1531.4 902.5 1536.4 909.9 1541.4 917.3 1546.4 924.7 1551.5 932.1 1556.7 939.5 1561.8 946.9 1566.9 954.1 1571.9 961.1 1576.6 967.7 1581.3 974.2 1585.9 980.6 1590.6 987.1 1595.5 993.7 1600.5 1000.4 1605.5 1007.1 1610.6 1013.8 1615.7 1020.5 1620.7 1027.0 1625.7 1033.5 1630.6 1039.9 1635.6 1046.3 1640.6 1052.6 1645.6 1058.9 1650.6 1065.2 1655.7 1071.6 1660.8 1077.9 1665.9 1084.1 1670.9 1090.2 1675.8 1096.3 1680.7 1102.2 1685.5 1108.0 1690.3 1113.8 1695.1 1119.5 1699.9 1125.2 1704.7 1130.9 1709.5 1136.6 1714.4 1142.4 1719.3 1148.1 1724.3 1153.8 1729.2 1159.5 1734.2 1165.2 1739.1 1170.9 1744.1 1176.5 1749.0 1182.1" fill="none" stroke="#6f97b2" stroke-width="10.0" stroke-opacity="0.5" stroke-linejoin="round"/>
<path d="M417.5 311.7 433.5 312.3 449.4 313.0 465.4 313.9 481.3 314.8 497.3 315.9 513.2 317.1 529.1 318.3 545.1 319.7 561.0 321.3 577.0 322.9 592.9 324.6 608.8 326.5 624.7 328.5 640.7 330.6 656.6 332.8 672.5 335.2 688.4 337.6 704.3 340.2 720.2 343.0 736.1 345.8 752.0 348.8 767.9 352.0 783.7 355.2 799.6 358.6 815.5 362.2 831.3 365.8 847.2 369.6 863.0 373.6 878.9 377.7 894.7 381.9 910.5 386.3 926.3 390.8 942.2 395.5 957.9 400.3 973.7 405.3 989.5 410.4 1005.3 415.7 1021.0 421.2 1036.8 426.8 1052.5 432.5 1068.3 438.4 1084.0 444.5 1099.7 450.7 1115.4 457.1 1131.1 463.7 1146.7 470.4 1162.4 477.3 1178.1 484.3 1193.7 491.6 1209.3 498.9 1224.9 506.5 1240.5 514.3 1256.1 522.2 1271.6 530.3 1287.2 538.6 1302.7 547.0 1318.2 555.6 1333.7 564.5 1349.2 573.5 1364.7 582.6 M428.9 366.6 445.0 367.2 461.0 367.9 477.0 368.6 493.1 369.5 509.1 370.5 525.1 371.6 541.1 372.8 557.1 374.1 573.2 375.6 589.2 377.1 605.2 378.7 621.2 380.5 637.2 382.4 653.2 384.4 669.2 386.5 685.2 388.7 701.2 391.1 717.1 393.5 733.1 396.1 749.1 398.8 765.1 401.7 781.0 404.7 797.0 407.8 812.9 411.0 828.9 414.3 844.8 417.8 860.7 421.5 876.7 425.2 892.6 429.1 908.5 433.2 924.4 437.3 940.3 441.6 956.2 446.1 972.1 450.7 987.9 455.4 1003.8 460.3 1019.7 465.3 1035.5 470.5 1051.3 475.9 1067.2 481.3 1083.0 487.0 1098.8 492.8 1114.6 498.7 1130.3 504.8 1146.1 511.0 1161.9 517.5 1177.6 524.0 1193.4 530.8 1209.1 537.7 1224.8 544.7 1240.5 551.9 1256.2 559.3 1271.8 566.9 1287.5 574.6 1303.1 582.5 1318.8 590.6 1334.4 598.8 1350.0 607.2 1365.5 615.8 1381.1 624.6 M440.3 415.5 456.4 416.1 472.5 416.7 488.6 417.4 504.7 418.3 520.8 419.2 536.9 420.2 553.0 421.4 569.1 422.6 585.2 424.0 601.2 425.4 617.3 427.0 633.4 428.6 649.5 430.4 665.6 432.3 681.6 434.3 697.7 436.5 713.8 438.7 729.8 441.0 745.9 443.5 761.9 446.1 778.0 448.8 794.0 451.7 810.0 454.6 826.1 457.7 842.1 460.9 858.1 464.2 874.1 467.7 890.1 471.3 906.1 475.0 922.1 478.9 938.1 482.9 954.1 487.0 970.0 491.3 986.0 495.7 1002.0 500.2 1017.9 504.9 1033.8 509.7 1049.8 514.7 1065.7 519.8 1081.6 525.0 1097.5 530.4 1113.4 535.9 1129.2 541.6 1145.1 547.5 1161.0 553.5 1176.8 559.6 1192.6 565.9 1208.5 572.4 1224.3 579.0 1240.1 585.7 1255.9 592.7 1271.6 599.7 1287.4 607.0 1303.1 614.4 1318.9 622.0 1334.6 629.7 1350.3 637.6 1365.9 645.7 1381.6 653.9 1397.3 662.3 M452.9 465.5 469.1 466.0 485.3 466.5 501.5 467.2 517.6 468.0 533.8 468.9 550.0 469.8 566.2 470.9 582.4 472.1 598.5 473.4 614.7 474.7 630.9 476.2 647.1 477.8 663.2 479.5 679.4 481.3 695.5 483.2 711.7 485.2 727.8 487.3 744.0 489.5 760.1 491.9 776.3 494.4 792.4 496.9 808.5 499.6 824.6 502.5 840.8 505.4 856.9 508.5 873.0 511.6 889.1 514.9 905.2 518.4 921.2 521.9 937.3 525.6 953.4 529.4 969.5 533.3 985.5 537.4 1001.6 541.6 1017.6 545.9 1033.6 550.4 1049.7 555.0 1065.7 559.7 1081.7 564.6 1097.7 569.6 1113.7 574.8 1129.7 580.1 1145.6 585.5 1161.6 591.1 1177.5 596.8 1193.5 602.7 1209.4 608.7 1225.3 614.9 1241.2 621.2 1257.1 627.7 1273.0 634.3 1288.8 641.1 1304.7 648.0 1320.5 655.1 1336.4 662.3 1352.2 669.7 1368.0 677.3 1383.8 685.0 1399.5 692.9 1415.3 700.9 M466.3 514.4 482.6 514.9 498.9 515.4 515.2 516.0 531.4 516.8 547.7 517.6 564.0 518.5 580.3 519.5 596.5 520.6 612.8 521.8 629.1 523.1 645.3 524.5 661.6 526.0 677.8 527.6 694.1 529.3 710.3 531.1 726.6 533.0 742.8 535.0 759.0 537.1 775.3 539.3 791.5 541.7 807.7 544.1 823.9 546.7 840.2 549.4 856.4 552.2 872.6 555.1 888.8 558.1 905.0 561.3 921.1 564.5 937.3 567.9 953.5 571.4 969.7 575.0 985.8 578.8 1002.0 582.7 1018.1 586.7 1034.3 590.8 1050.4 595.1 1066.5 599.5 1082.6 604.0 1098.7 608.6 1114.8 613.4 1130.9 618.3 1147.0 623.4 1163.0 628.6 1179.1 633.9 1195.1 639.4 1211.2 645.0 1227.2 650.8 1243.2 656.7 1259.2 662.7 1275.2 668.9 1291.2 675.2 1307.2 681.7 1323.1 688.3 1339.1 695.1 1355.0 702.0 1370.9 709.1 1386.8 716.3 1402.7 723.7 1418.6 731.2 1434.4 738.9 M478.7 556.4 495.1 556.8 511.4 557.3 527.8 557.9 544.1 558.5 560.5 559.3 576.8 560.2 593.2 561.1 609.5 562.2 625.9 563.3 642.2 564.5 658.6 565.8 674.9 567.3 691.3 568.8 707.6 570.4 723.9 572.1 740.3 574.0 756.6 575.9 772.9 577.9 789.2 580.0 805.5 582.3 821.8 584.6 838.1 587.1 854.4 589.7 870.7 592.3 887.0 595.1 903.3 598.0 919.6 601.0 935.8 604.2 952.1 607.4 968.4 610.8 984.6 614.3 1000.9 617.9 1017.1 621.6 1033.3 625.5 1049.6 629.4 1065.8 633.5 1082.0 637.7 1098.2 642.1 1114.4 646.6 1130.5 651.2 1146.7 655.9 1162.9 660.7 1179.0 665.7 1195.2 670.9 1211.3 676.1 1227.4 681.5 1243.6 687.1 1259.7 692.7 1275.8 698.5 1291.8 704.5 1307.9 710.6 1324.0 716.8 1340.0 723.2 1356.0 729.7 1372.1 736.4 1388.1 743.2 1404.1 750.2 1420.1 757.3 1436.0 764.5 1452.0 771.9 M492.2 599.3 508.6 599.7 525.1 600.2 541.5 600.7 558.0 601.3 574.4 602.0 590.8 602.9 607.3 603.7 623.7 604.7 640.2 605.8 656.6 607.0 673.0 608.2 689.5 609.6 705.9 611.0 722.3 612.6 738.7 614.2 755.2 615.9 771.6 617.8 788.0 619.7 804.4 621.7 820.8 623.9 837.2 626.1 853.6 628.5 870.0 630.9 886.4 633.5 902.7 636.1 919.1 638.9 935.5 641.8 951.8 644.8 968.2 647.9 984.5 651.1 1000.9 654.5 1017.2 657.9 1033.6 661.5 1049.9 665.2 1066.2 669.0 1082.5 672.9 1098.8 676.9 1115.1 681.1 1131.4 685.4 1147.7 689.8 1163.9 694.3 1180.2 699.0 1196.5 703.8 1212.7 708.7 1228.9 713.8 1245.1 718.9 1261.4 724.3 1277.6 729.7 1293.8 735.3 1309.9 741.0 1326.1 746.8 1342.3 752.8 1358.4 758.9 1374.5 765.2 1390.7 771.6 1406.8 778.2 1422.9 784.8 1438.9 791.7 1455.0 798.6 1471.1 805.8 M506.8 643.3 523.3 643.6 539.9 644.0 556.4 644.5 572.9 645.1 589.5 645.8 606.0 646.5 622.6 647.4 639.1 648.3 655.6 649.3 672.2 650.4 688.7 651.6 705.2 652.9 721.8 654.2 738.3 655.7 754.8 657.2 771.3 658.9 787.8 660.6 804.3 662.5 820.9 664.4 837.4 666.4 853.9 668.6 870.3 670.8 886.8 673.1 903.3 675.6 919.8 678.1 936.3 680.8 952.7 683.5 969.2 686.4 985.7 689.3 1002.1 692.4 1018.6 695.6 1035.0 698.9 1051.4 702.3 1067.9 705.8 1084.3 709.5 1100.7 713.2 1117.1 717.1 1133.5 721.0 1149.9 725.1 1166.3 729.4 1182.6 733.7 1199.0 738.2 1215.3 742.8 1231.7 747.5 1248.0 752.3 1264.4 757.3 1280.7 762.3 1297.0 767.5 1313.3 772.9 1329.6 778.4 1345.8 784.0 1362.1 789.7 1378.4 795.5 1394.6 801.5 1410.8 807.7 1427.0 813.9 1443.3 820.4 1459.4 826.9 1475.6 833.6 1491.8 840.4 M520.8 683.2 537.4 683.5 554.1 683.9 570.7 684.4 587.3 684.9 604.0 685.5 620.6 686.2 637.2 687.0 653.9 687.9 670.5 688.9 687.1 689.9 703.8 691.0 720.4 692.2 737.0 693.5 753.6 694.9 770.2 696.4 786.8 698.0 803.4 699.6 820.1 701.4 836.7 703.2 853.2 705.2 869.8 707.2 886.4 709.3 903.0 711.6 919.6 713.9 936.2 716.3 952.7 718.9 969.3 721.5 985.9 724.2 1002.4 727.1 1019.0 730.0 1035.5 733.1 1052.0 736.2 1068.6 739.5 1085.1 742.9 1101.6 746.4 1118.1 749.9 1134.6 753.7 1151.1 757.5 1167.6 761.4 1184.1 765.5 1200.6 769.6 1217.0 773.9 1233.5 778.3 1249.9 782.8 1266.3 787.5 1282.8 792.2 1299.2 797.1 1315.6 802.1 1332.0 807.3 1348.4 812.5 1364.8 817.9 1381.1 823.4 1397.5 829.0 1413.8 834.8 1430.2 840.7 1446.5 846.7 1462.8 852.9 1479.1 859.2 1495.4 865.6 1511.6 872.2 M534.7 721.2 551.5 721.5 568.2 721.8 584.9 722.2 601.7 722.7 618.4 723.3 635.1 724.0 651.9 724.7 668.6 725.5 685.3 726.4 702.0 727.4 718.7 728.5 735.5 729.6 752.2 730.9 768.9 732.2 785.6 733.6 802.3 735.1 819.0 736.7 835.7 738.4 852.4 740.1 869.1 742.0 885.8 743.9 902.5 746.0 919.1 748.1 935.8 750.3 952.5 752.7 969.1 755.1 985.8 757.6 1002.5 760.2 1019.1 763.0 1035.7 765.8 1052.4 768.7 1069.0 771.7 1085.6 774.9 1102.3 778.1 1118.9 781.5 1135.5 784.9 1152.1 788.5 1168.7 792.2 1185.3 795.9 1201.8 799.8 1218.4 803.8 1235.0 807.9 1251.5 812.2 1268.1 816.5 1284.6 821.0 1301.1 825.6 1317.6 830.3 1334.1 835.1 1350.6 840.0 1367.1 845.1 1383.6 850.3 1400.1 855.6 1416.5 861.0 1433.0 866.5 1449.4 872.2 1465.8 878.0 1482.2 883.9 1498.6 890.0 1515.0 896.2 1531.4 902.5 M548.9 758.1 565.8 758.4 582.6 758.7 599.4 759.1 616.3 759.6 633.1 760.1 649.9 760.7 666.7 761.4 683.5 762.2 700.4 763.0 717.2 764.0 734.0 765.0 750.8 766.1 767.6 767.2 784.4 768.5 801.2 769.8 818.0 771.3 834.8 772.8 851.6 774.4 868.4 776.1 885.2 777.8 902.0 779.7 918.8 781.6 935.5 783.7 952.3 785.8 969.1 788.1 985.8 790.4 1002.6 792.8 1019.3 795.3 1036.1 797.9 1052.8 800.6 1069.6 803.4 1086.3 806.4 1103.0 809.4 1119.7 812.5 1136.4 815.7 1153.1 819.0 1169.8 822.4 1186.5 826.0 1203.2 829.6 1219.9 833.3 1236.6 837.2 1253.2 841.1 1269.9 845.2 1286.5 849.4 1303.2 853.7 1319.8 858.1 1336.4 862.6 1353.0 867.2 1369.6 872.0 1386.2 876.8 1402.8 881.8 1419.3 886.9 1435.9 892.2 1452.5 897.5 1469.0 903.0 1485.5 908.5 1502.0 914.3 1518.5 920.1 1535.0 926.0 1551.5 932.1 M563.3 794.1 580.3 794.3 597.2 794.6 614.1 795.0 631.0 795.4 648.0 795.9 664.9 796.5 681.8 797.1 698.7 797.9 715.6 798.7 732.5 799.5 749.5 800.5 766.4 801.5 783.3 802.6 800.2 803.8 817.1 805.1 834.0 806.5 850.9 807.9 867.8 809.4 884.6 811.0 901.5 812.7 918.4 814.5 935.3 816.4 952.2 818.3 969.0 820.4 985.9 822.5 1002.7 824.7 1019.6 827.1 1036.4 829.5 1053.3 832.0 1070.1 834.6 1087.0 837.3 1103.8 840.1 1120.6 842.9 1137.4 845.9 1154.2 849.0 1171.0 852.2 1187.8 855.5 1204.6 858.9 1221.4 862.4 1238.2 866.0 1255.0 869.7 1271.7 873.5 1288.5 877.4 1305.2 881.4 1322.0 885.5 1338.7 889.8 1355.4 894.1 1372.1 898.6 1388.8 903.1 1405.5 907.8 1422.2 912.6 1438.9 917.5 1455.5 922.6 1472.2 927.7 1488.8 933.0 1505.5 938.3 1522.1 943.8 1538.7 949.5 1555.3 955.2 1571.9 961.1 M576.6 826.1 593.6 826.3 610.6 826.5 627.7 826.9 644.7 827.3 661.7 827.7 678.7 828.3 695.7 828.9 712.7 829.6 729.7 830.3 746.7 831.2 763.7 832.1 780.7 833.1 797.7 834.1 814.7 835.3 831.7 836.5 848.7 837.8 865.6 839.2 882.6 840.6 899.6 842.2 916.6 843.8 933.5 845.5 950.5 847.3 967.5 849.2 984.4 851.1 1001.4 853.2 1018.3 855.3 1035.3 857.6 1052.2 859.9 1069.2 862.3 1086.1 864.8 1103.0 867.4 1119.9 870.1 1136.8 872.9 1153.7 875.8 1170.6 878.8 1187.5 881.8 1204.4 885.0 1221.3 888.3 1238.2 891.6 1255.1 895.1 1271.9 898.7 1288.8 902.4 1305.6 906.2 1322.5 910.0 1339.3 914.0 1356.1 918.1 1372.9 922.3 1389.7 926.6 1406.5 931.1 1423.3 935.6 1440.1 940.2 1456.8 945.0 1473.6 949.8 1490.4 954.8 1507.1 959.9 1523.8 965.1 1540.5 970.4 1557.2 975.9 1573.9 981.4 1590.6 987.1 M590.8 859.0 607.9 859.2 625.0 859.4 642.1 859.7 659.2 860.1 676.3 860.6 693.4 861.1 710.5 861.6 727.6 862.3 744.7 863.0 761.8 863.8 778.9 864.6 796.0 865.6 813.1 866.6 830.2 867.7 847.3 868.8 864.3 870.1 881.4 871.4 898.5 872.8 915.6 874.3 932.6 875.8 949.7 877.5 966.8 879.2 983.8 881.0 1000.9 882.9 1017.9 884.8 1035.0 886.9 1052.0 889.0 1069.0 891.3 1086.1 893.6 1103.1 896.0 1120.1 898.5 1137.1 901.1 1154.1 903.8 1171.1 906.5 1188.1 909.4 1205.1 912.4 1222.1 915.4 1239.1 918.6 1256.1 921.8 1273.0 925.2 1290.0 928.6 1307.0 932.1 1323.9 935.8 1340.8 939.5 1357.8 943.4 1374.7 947.3 1391.6 951.4 1408.5 955.5 1425.4 959.8 1442.3 964.2 1459.2 968.6 1476.0 973.2 1492.9 977.9 1509.7 982.7 1526.6 987.6 1543.4 992.6 1560.2 997.8 1577.0 1003.0 1593.8 1008.4 1610.6 1013.8 M605.0 891.0 622.2 891.1 639.4 891.4 656.6 891.6 673.8 892.0 691.0 892.4 708.2 892.8 725.4 893.4 742.6 894.0 759.8 894.7 776.9 895.4 794.1 896.2 811.3 897.1 828.5 898.1 845.7 899.1 862.9 900.2 880.0 901.4 897.2 902.7 914.4 904.0 931.6 905.4 948.7 906.9 965.9 908.5 983.0 910.1 1000.2 911.8 1017.3 913.6 1034.5 915.5 1051.6 917.5 1068.8 919.6 1085.9 921.7 1103.0 923.9 1120.1 926.3 1137.3 928.7 1154.4 931.1 1171.5 933.7 1188.6 936.4 1205.7 939.1 1222.8 942.0 1239.9 944.9 1256.9 948.0 1274.0 951.1 1291.1 954.3 1308.1 957.6 1325.2 961.1 1342.2 964.6 1359.3 968.2 1376.3 971.9 1393.3 975.7 1410.3 979.6 1427.3 983.6 1444.3 987.7 1461.3 991.9 1478.3 996.3 1495.2 1000.7 1512.2 1005.2 1529.2 1009.8 1546.1 1014.6 1563.0 1019.4 1579.9 1024.4 1596.9 1029.4 1613.8 1034.6 1630.6 1039.9 M619.1 922.0 636.4 922.1 653.7 922.3 671.0 922.5 688.3 922.8 705.6 923.2 722.9 923.6 740.2 924.2 757.5 924.7 774.8 925.4 792.1 926.1 809.3 926.8 826.6 927.7 843.9 928.6 861.2 929.6 878.5 930.6 895.7 931.8 913.0 933.0 930.3 934.2 947.5 935.6 964.8 937.0 982.0 938.5 999.3 940.1 1016.5 941.7 1033.8 943.5 1051.0 945.3 1068.3 947.2 1085.5 949.2 1102.7 951.2 1120.0 953.4 1137.2 955.6 1154.4 957.9 1171.6 960.3 1188.8 962.8 1206.0 965.3 1223.2 968.0 1240.4 970.7 1257.6 973.6 1274.7 976.5 1291.9 979.5 1309.1 982.6 1326.2 985.8 1343.4 989.1 1360.5 992.5 1377.6 996.0 1394.8 999.6 1411.9 1003.2 1429.0 1007.0 1446.1 1010.9 1463.2 1014.8 1480.3 1018.9 1497.4 1023.1 1514.4 1027.3 1531.5 1031.7 1548.5 1036.2 1565.6 1040.8 1582.6 1045.5 1599.6 1050.2 1616.6 1055.1 1633.7 1060.1 1650.6 1065.2 M633.5 952.4 650.9 952.5 668.3 952.7 685.7 952.9 703.1 953.2 720.5 953.5 737.8 954.0 755.2 954.4 772.6 955.0 790.0 955.6 807.4 956.2 824.8 957.0 842.1 957.7 859.5 958.6 876.9 959.5 894.2 960.6 911.6 961.6 929.0 962.8 946.3 964.0 963.7 965.3 981.1 966.6 998.4 968.1 1015.8 969.6 1033.1 971.2 1050.5 972.8 1067.8 974.6 1085.1 976.4 1102.5 978.3 1119.8 980.3 1137.1 982.3 1154.4 984.5 1171.7 986.7 1189.0 989.0 1206.3 991.4 1223.6 993.9 1240.9 996.4 1258.2 999.1 1275.5 1001.8 1292.8 1004.6 1310.0 1007.5 1327.3 1010.5 1344.5 1013.6 1361.8 1016.8 1379.0 1020.0 1396.3 1023.4 1413.5 1026.8 1430.7 1030.4 1447.9 1034.0 1465.1 1037.7 1482.3 1041.6 1499.5 1045.5 1516.7 1049.5 1533.9 1053.6 1551.0 1057.9 1568.2 1062.2 1585.3 1066.6 1602.5 1071.1 1619.6 1075.7 1636.7 1080.5 1653.8 1085.3 1670.9 1090.2 M647.3 980.9 664.8 981.0 682.2 981.1 699.7 981.3 717.2 981.6 734.7 981.9 752.2 982.3 769.7 982.7 787.1 983.2 804.6 983.8 822.1 984.4 839.5 985.1 857.0 985.9 874.5 986.7 891.9 987.6 909.4 988.5 926.9 989.6 944.3 990.7 961.8 991.8 979.2 993.1 996.7 994.4 1014.1 995.7 1031.6 997.2 1049.0 998.7 1066.4 1000.3 1083.9 1002.0 1101.3 1003.7 1118.7 1005.6 1136.1 1007.5 1153.6 1009.5 1171.0 1011.5 1188.4 1013.7 1205.8 1015.9 1223.2 1018.2 1240.6 1020.6 1258.0 1023.0 1275.3 1025.6 1292.7 1028.2 1310.1 1030.9 1327.4 1033.7 1344.8 1036.6 1362.1 1039.6 1379.5 1042.7 1396.8 1045.8 1414.2 1049.1 1431.5 1052.4 1448.8 1055.9 1466.1 1059.4 1483.4 1063.0 1500.7 1066.7 1518.0 1070.5 1535.2 1074.4 1552.5 1078.4 1569.8 1082.4 1587.0 1086.6 1604.3 1090.9 1621.5 1095.3 1638.7 1099.8 1655.9 1104.3 1673.1 1109.0 1690.3 1113.8 M660.9 1008.4 678.5 1008.5 696.1 1008.6 713.6 1008.7 731.2 1009.0 748.8 1009.3 766.4 1009.6 783.9 1010.0 801.5 1010.5 819.1 1011.0 836.6 1011.6 854.2 1012.3 871.7 1013.0 889.3 1013.8 906.9 1014.6 924.4 1015.5 942.0 1016.5 959.5 1017.6 977.1 1018.7 994.6 1019.9 1012.1 1021.1 1029.7 1022.4 1047.2 1023.8 1064.7 1025.3 1082.3 1026.9 1099.8 1028.5 1117.3 1030.1 1134.8 1031.9 1152.3 1033.7 1169.9 1035.7 1187.4 1037.6 1204.9 1039.7 1222.3 1041.9 1239.8 1044.1 1257.3 1046.4 1274.8 1048.8 1292.3 1051.2 1309.7 1053.8 1327.2 1056.4 1344.7 1059.1 1362.1 1061.9 1379.5 1064.8 1397.0 1067.8 1414.4 1070.8 1431.8 1074.0 1449.3 1077.2 1466.7 1080.5 1484.1 1083.9 1501.5 1087.4 1518.8 1091.0 1536.2 1094.7 1553.6 1098.4 1571.0 1102.3 1588.3 1106.3 1605.7 1110.3 1623.0 1114.5 1640.3 1118.7 1657.6 1123.0 1675.0 1127.5 1692.3 1132.0 1709.5 1136.6 M674.9 1035.9 692.6 1035.9 710.2 1036.0 727.9 1036.2 745.6 1036.4 763.2 1036.6 780.9 1036.9 798.5 1037.3 816.2 1037.8 833.9 1038.3 851.5 1038.8 869.2 1039.4 886.8 1040.1 904.5 1040.9 922.1 1041.7 939.8 1042.6 957.4 1043.5 975.1 1044.5 992.7 1045.6 1010.3 1046.7 1028.0 1047.9 1045.6 1049.2 1063.2 1050.5 1080.9 1051.9 1098.5 1053.4 1116.1 1054.9 1133.7 1056.6 1151.3 1058.3 1168.9 1060.0 1186.5 1061.9 1204.1 1063.8 1221.7 1065.8 1239.3 1067.8 1256.9 1070.0 1274.5 1072.2 1292.0 1074.5 1309.6 1076.9 1327.2 1079.3 1344.7 1081.9 1362.3 1084.5 1379.8 1087.2 1397.4 1090.0 1414.9 1092.9 1432.4 1095.8 1450.0 1098.8 1467.5 1102.0 1485.0 1105.2 1502.5 1108.5 1520.0 1111.8 1537.4 1115.3 1554.9 1118.9 1572.4 1122.5 1589.9 1126.3 1607.3 1130.1 1624.8 1134.0 1642.2 1138.0 1659.6 1142.1 1677.0 1146.3 1694.4 1150.6 1711.8 1155.0 1729.2 1159.5 M688.9 1062.8 706.7 1062.9 724.4 1062.9 742.2 1063.1 760.0 1063.3 777.7 1063.5 795.5 1063.8 813.2 1064.1 831.0 1064.5 848.7 1065.0 866.5 1065.5 884.2 1066.1 902.0 1066.8 919.7 1067.5 937.5 1068.2 955.2 1069.1 973.0 1070.0 990.7 1070.9 1008.4 1071.9 1026.2 1073.0 1043.9 1074.2 1061.6 1075.4 1079.3 1076.7 1097.1 1078.0 1114.8 1079.5 1132.5 1080.9 1150.2 1082.5 1167.9 1084.1 1185.6 1085.8 1203.3 1087.6 1221.0 1089.5 1238.7 1091.4 1256.4 1093.4 1274.0 1095.4 1291.7 1097.6 1309.4 1099.8 1327.1 1102.1 1344.7 1104.5 1362.4 1106.9 1380.0 1109.5 1397.7 1112.1 1415.3 1114.8 1432.9 1117.5 1450.5 1120.4 1468.2 1123.3 1485.8 1126.3 1503.4 1129.4 1521.0 1132.6 1538.6 1135.9 1556.1 1139.3 1573.7 1142.7 1591.3 1146.2 1608.8 1149.9 1626.4 1153.6 1643.9 1157.4 1661.5 1161.2 1679.0 1165.2 1696.5 1169.3 1714.0 1173.5 1731.5 1177.7 1749.0 1182.1 M417.5 311.7 420.5 326.4 423.4 340.4 426.2 353.8 428.9 366.6 431.7 379.0 434.5 391.3 437.4 403.4 440.3 415.5 443.3 427.8 446.4 440.3 449.6 452.8 452.9 465.5 456.3 478.1 459.7 490.6 463.1 502.8 466.3 514.4 469.5 525.4 472.6 535.9 475.6 546.1 478.7 556.4 481.9 566.8 485.2 577.5 488.6 588.3 492.2 599.3 495.8 610.4 499.4 621.5 503.1 632.5 506.8 643.3 510.3 653.6 513.8 663.7 517.3 673.5 520.8 683.2 524.3 692.8 527.7 702.3 531.2 711.8 534.7 721.2 538.3 730.5 541.8 739.7 545.3 748.9 548.9 758.1 552.6 767.4 556.2 776.5 559.8 785.5 563.3 794.1 566.7 802.3 570.0 810.3 573.3 818.1 576.6 826.1 580.1 834.2 583.6 842.4 587.2 850.8 590.8 859.0 594.4 867.2 597.9 875.2 601.4 883.1 605.0 891.0 608.5 898.8 612.0 906.5 615.6 914.3 619.1 922.0 622.7 929.7 626.3 937.4 629.9 945.0 633.5 952.4 637.0 959.7 640.5 966.9 643.9 974.0 647.3 980.9 650.7 987.8 654.1 994.7 657.5 1001.5 660.9 1008.4 664.4 1015.3 667.9 1022.1 671.4 1029.0 674.9 1035.9 678.4 1042.7 681.9 1049.5 685.4 1056.2 688.9 1062.8 M481.3 314.8 484.4 329.5 487.3 343.5 490.2 356.8 493.1 369.5 495.9 381.9 498.8 394.1 501.7 406.2 504.7 418.3 507.8 430.5 511.0 442.9 514.3 455.4 517.6 468.0 521.1 480.6 524.6 493.1 528.1 505.2 531.4 516.8 534.7 527.7 537.8 538.1 541.0 548.3 544.1 558.5 547.4 568.9 550.8 579.6 554.3 590.4 558.0 601.3 561.7 612.4 565.4 623.5 569.2 634.4 572.9 645.1 576.6 655.4 580.2 665.5 583.8 675.3 587.3 684.9 590.9 694.5 594.5 704.0 598.1 713.4 601.7 722.7 605.3 732.0 608.9 741.2 612.6 750.4 616.3 759.6 620.0 768.8 623.8 777.9 627.4 786.8 631.0 795.4 634.5 803.6 637.9 811.5 641.2 819.4 644.7 827.3 648.2 835.4 651.8 843.6 655.5 851.9 659.2 860.1 662.9 868.2 666.5 876.2 670.2 884.1 673.8 892.0 677.4 899.7 681.0 907.5 684.7 915.1 688.3 922.8 692.0 930.5 695.7 938.2 699.4 945.8 703.1 953.2 706.7 960.5 710.2 967.6 713.7 974.6 717.2 981.6 720.7 988.5 724.2 995.3 727.7 1002.1 731.2 1009.0 734.8 1015.8 738.3 1022.7 741.9 1029.5 745.6 1036.4 749.2 1043.2 752.8 1049.9 756.4 1056.6 760.0 1063.3 M545.1 319.7 548.2 334.4 551.2 348.2 554.2 361.4 557.1 374.1 560.1 386.5 563.0 398.6 566.0 410.6 569.1 422.6 572.2 434.8 575.5 447.1 578.9 459.6 582.4 472.1 585.9 484.6 589.5 497.0 593.1 509.1 596.5 520.6 599.8 531.4 603.1 541.8 606.3 552.0 609.5 562.2 612.9 572.5 616.4 583.1 620.0 593.8 623.7 604.7 627.5 615.7 631.4 626.8 635.3 637.7 639.1 648.3 642.9 658.6 646.6 668.5 650.2 678.3 653.9 687.9 657.5 697.4 661.2 706.9 664.9 716.2 668.6 725.5 672.3 734.8 676.0 743.9 679.8 753.1 683.5 762.2 687.4 771.4 691.2 780.4 695.0 789.3 698.7 797.9 702.3 806.0 705.7 813.9 709.2 821.7 712.7 829.6 716.3 837.6 720.1 845.8 723.8 854.1 727.6 862.3 731.4 870.4 735.1 878.3 738.8 886.2 742.6 894.0 746.3 901.7 750.0 909.4 753.7 917.1 757.5 924.7 761.3 932.4 765.1 940.0 768.9 947.5 772.6 955.0 776.3 962.2 779.9 969.3 783.5 976.3 787.1 983.2 790.7 990.1 794.3 996.9 797.9 1003.7 801.5 1010.5 805.1 1017.3 808.8 1024.1 812.5 1031.0 816.2 1037.8 819.9 1044.5 823.6 1051.3 827.3 1057.9 831.0 1064.5 M608.8 326.5 612.0 341.0 615.1 354.8 618.2 367.9 621.2 380.5 624.2 392.8 627.2 404.8 630.3 416.7 633.4 428.6 636.7 440.8 640.0 453.0 643.5 465.4 647.1 477.8 650.7 490.2 654.4 502.5 658.0 514.5 661.6 526.0 665.0 536.8 668.3 547.1 671.6 557.2 674.9 567.3 678.4 577.6 682.0 588.1 685.7 598.7 689.5 609.6 693.4 620.5 697.3 631.5 701.3 642.3 705.2 652.9 709.1 663.1 712.9 673.0 716.6 682.7 720.4 692.2 724.1 701.7 727.9 711.1 731.7 720.4 735.5 729.6 739.3 738.8 743.1 747.9 746.9 757.0 750.8 766.1 754.7 775.2 758.7 784.2 762.6 793.0 766.4 801.5 770.0 809.6 773.6 817.5 777.1 825.2 780.7 833.1 784.4 841.1 788.2 849.2 792.1 857.4 796.0 865.6 799.9 873.6 803.7 881.5 807.5 889.4 811.3 897.1 815.1 904.8 818.9 912.4 822.8 920.1 826.6 927.7 830.5 935.3 834.4 942.9 838.3 950.4 842.1 957.7 845.9 965.0 849.6 972.0 853.3 979.0 857.0 985.9 860.7 992.7 864.4 999.5 868.0 1006.2 871.7 1013.0 875.5 1019.8 879.2 1026.6 883.0 1033.4 886.8 1040.1 890.6 1046.9 894.4 1053.6 898.2 1060.2 902.0 1066.8 M672.5 335.2 675.8 349.6 679.0 363.2 682.1 376.2 685.2 388.7 688.2 400.9 691.3 412.8 694.5 424.6 697.7 436.5 701.0 448.5 704.5 460.6 708.0 472.9 711.7 485.2 715.4 497.5 719.2 509.7 722.9 521.6 726.6 533.0 730.1 543.7 733.5 553.9 736.8 563.9 740.3 574.0 743.8 584.2 747.5 594.6 751.3 605.2 755.2 615.9 759.2 626.8 763.2 637.7 767.3 648.4 771.3 658.9 775.3 669.0 779.2 678.9 783.0 688.5 786.8 698.0 790.7 707.4 794.5 716.7 798.4 725.9 802.3 735.1 806.2 744.2 810.1 753.2 814.0 762.2 818.0 771.3 822.1 780.3 826.1 789.3 830.1 798.0 834.0 806.5 837.7 814.5 841.3 822.3 845.0 830.0 848.7 837.8 852.5 845.7 856.4 853.8 860.4 862.0 864.3 870.1 868.3 878.1 872.2 885.9 876.1 893.7 880.0 901.4 883.9 909.0 887.9 916.6 891.8 924.2 895.7 931.8 899.7 939.3 903.7 946.9 907.7 954.3 911.6 961.6 915.5 968.8 919.3 975.8 923.1 982.7 926.9 989.6 930.6 996.3 934.4 1003.1 938.2 1009.8 942.0 1016.5 945.8 1023.3 949.7 1030.0 953.5 1036.8 957.4 1043.5 961.3 1050.2 965.2 1056.8 969.1 1063.4 973.0 1070.0 M736.1 345.8 739.5 360.1 742.7 373.6 745.9 386.5 749.1 398.8 752.2 410.9 755.4 422.7 758.6 434.4 761.9 446.1 765.3 458.0 768.9 470.0 772.5 482.2 776.3 494.4 780.1 506.6 784.0 518.7 787.8 530.4 791.5 541.7 795.1 552.3 798.6 562.4 802.0 572.4 805.5 582.3 809.2 592.4 812.9 602.7 816.8 613.2 820.8 623.9 824.9 634.6 829.1 645.4 833.2 656.0 837.4 666.4 841.4 676.5 845.4 686.2 849.3 695.8 853.2 705.2 857.2 714.5 861.1 723.7 865.1 732.9 869.1 742.0 873.1 751.0 877.1 759.9 881.1 768.9 885.2 777.8 889.3 786.8 893.5 795.7 897.6 804.4 901.5 812.7 905.3 820.7 909.1 828.5 912.8 836.1 916.6 843.8 920.5 851.7 924.5 859.7 928.6 867.8 932.6 875.8 936.7 883.7 940.7 891.5 944.7 899.3 948.7 906.9 952.7 914.5 956.7 922.0 960.7 929.5 964.8 937.0 968.9 944.5 973.0 952.0 977.0 959.4 981.1 966.6 985.0 973.8 988.9 980.7 992.8 987.6 996.7 994.4 1000.5 1001.1 1004.4 1007.8 1008.3 1014.4 1012.1 1021.1 1016.1 1027.8 1020.0 1034.5 1024.0 1041.2 1028.0 1047.9 1032.0 1054.5 1036.0 1061.1 1039.9 1067.7 1043.9 1074.2 M799.6 358.6 803.1 372.7 806.4 386.0 809.7 398.8 812.9 411.0 816.1 422.9 819.4 434.5 822.7 446.1 826.1 457.7 829.6 469.5 833.2 481.3 836.9 493.3 840.8 505.4 844.7 517.5 848.6 529.4 852.6 541.1 856.4 552.2 860.0 562.7 863.6 572.7 867.1 582.5 870.7 592.3 874.4 602.3 878.3 612.6 882.3 622.9 886.4 633.5 890.6 644.1 894.8 654.8 899.1 665.3 903.3 675.6 907.5 685.5 911.5 695.2 915.6 704.6 919.6 713.9 923.6 723.1 927.7 732.3 931.7 741.3 935.8 750.3 939.9 759.3 944.0 768.1 948.1 777.0 952.3 785.8 956.5 794.7 960.8 803.5 965.0 812.1 969.0 820.4 972.9 828.3 976.8 836.0 980.6 843.5 984.4 851.1 988.4 859.0 992.5 866.9 996.7 874.9 1000.9 882.9 1005.0 890.7 1009.1 898.4 1013.2 906.1 1017.3 913.6 1021.4 921.1 1025.5 928.6 1029.6 936.0 1033.8 943.5 1038.0 950.9 1042.2 958.3 1046.3 965.6 1050.5 972.8 1054.5 979.9 1058.5 986.8 1062.5 993.6 1066.4 1000.3 1070.4 1007.0 1074.3 1013.6 1078.3 1020.2 1082.3 1026.9 1086.3 1033.5 1090.3 1040.1 1094.4 1046.8 1098.5 1053.4 1102.6 1060.0 1106.7 1066.5 1110.7 1073.0 1114.8 1079.5 M863.0 373.6 866.6 387.5 870.0 400.6 873.4 413.2 876.7 425.2 880.0 436.9 883.3 448.4 886.7 459.9 890.1 471.3 893.7 482.9 897.4 494.6 901.2 506.5 905.2 518.4 909.2 530.3 913.2 542.1 917.2 553.5 921.1 564.5 924.9 574.9 928.5 584.8 932.2 594.5 935.8 604.2 939.6 614.1 943.6 624.1 947.6 634.4 951.8 644.8 956.1 655.3 960.5 665.8 964.9 676.2 969.2 686.4 973.4 696.2 977.6 705.7 981.7 715.0 985.9 724.2 990.0 733.3 994.1 742.4 998.3 751.3 1002.5 760.2 1006.6 769.0 1010.8 777.8 1015.1 786.6 1019.3 795.3 1023.7 804.1 1028.0 812.8 1032.3 821.3 1036.4 829.5 1040.4 837.3 1044.4 844.9 1048.3 852.4 1052.2 859.9 1056.3 867.6 1060.5 875.5 1064.8 883.4 1069.0 891.3 1073.3 899.0 1077.5 906.7 1081.7 914.2 1085.9 921.7 1090.1 929.1 1094.3 936.5 1098.5 943.9 1102.7 951.2 1107.0 958.6 1111.3 965.9 1115.6 973.2 1119.8 980.3 1123.9 987.3 1128.0 994.1 1132.1 1000.8 1136.1 1007.5 1140.2 1014.1 1144.2 1020.6 1148.3 1027.2 1152.3 1033.7 1156.5 1040.3 1160.6 1046.9 1164.8 1053.5 1168.9 1060.0 1173.1 1066.6 1177.3 1073.0 1181.5 1079.5 1185.6 1085.8 M926.3 390.8 930.0 404.5 933.5 417.4 936.9 429.8 940.3 441.6 943.7 453.2 947.1 464.5 950.5 475.7 954.1 487.0 957.7 498.4 961.5 510.0 965.4 521.6 969.5 533.3 973.6 545.1 977.7 556.7 981.8 568.0 985.8 578.8 989.7 589.0 993.4 598.8 997.1 608.3 1000.9 617.9 1004.8 627.6 1008.8 637.6 1012.9 647.7 1017.2 657.9 1021.6 668.3 1026.1 678.6 1030.6 688.9 1035.0 698.9 1039.3 708.6 1043.6 718.0 1047.8 727.2 1052.0 736.2 1056.3 745.2 1060.5 754.1 1064.8 763.0 1069.0 771.7 1073.3 780.4 1077.6 789.1 1081.9 797.7 1086.3 806.4 1090.7 815.0 1095.2 823.6 1099.5 832.0 1103.8 840.1 1107.9 847.8 1111.9 855.3 1115.9 862.7 1119.9 870.1 1124.1 877.7 1128.4 885.5 1132.8 893.3 1137.1 901.1 1141.5 908.7 1145.8 916.3 1150.1 923.8 1154.4 931.1 1158.7 938.5 1162.9 945.8 1167.3 953.0 1171.6 960.3 1176.0 967.6 1180.3 974.8 1184.7 982.0 1189.0 989.0 1193.3 995.9 1197.5 1002.7 1201.6 1009.3 1205.8 1015.9 1209.9 1022.4 1214.0 1028.9 1218.2 1035.4 1222.3 1041.9 1226.6 1048.4 1230.8 1054.9 1235.0 1061.4 1239.3 1067.8 1243.6 1074.3 1247.9 1080.7 1252.1 1087.1 1256.4 1093.4 M989.5 410.4 993.2 423.8 996.8 436.5 1000.3 448.7 1003.8 460.3 1007.3 471.6 1010.7 482.8 1014.3 493.8 1017.9 504.9 1021.7 516.1 1025.5 527.4 1029.5 538.9 1033.6 550.4 1037.9 561.9 1042.1 573.3 1046.3 584.4 1050.4 595.1 1054.3 605.1 1058.1 614.7 1061.9 624.1 1065.8 633.5 1069.7 643.1 1073.9 652.9 1078.1 662.8 1082.5 672.9 1087.0 683.1 1091.6 693.3 1096.2 703.4 1100.7 713.2 1105.1 722.7 1109.5 732.0 1113.8 741.0 1118.1 749.9 1122.4 758.8 1126.8 767.6 1131.1 776.3 1135.5 784.9 1139.9 793.5 1144.2 802.0 1148.7 810.5 1153.1 819.0 1157.7 827.5 1162.2 836.0 1166.7 844.2 1171.0 852.2 1175.2 859.8 1179.3 867.2 1183.4 874.5 1187.5 881.8 1191.8 889.4 1196.2 897.0 1200.7 904.7 1205.1 912.4 1209.6 919.9 1214.0 927.4 1218.4 934.7 1222.8 942.0 1227.1 949.2 1231.5 956.4 1235.9 963.6 1240.4 970.7 1244.8 977.9 1249.3 985.1 1253.8 992.1 1258.2 999.1 1262.6 1005.9 1266.9 1012.5 1271.1 1019.1 1275.3 1025.6 1279.5 1032.0 1283.8 1038.4 1288.0 1044.8 1292.3 1051.2 1296.6 1057.6 1300.9 1064.1 1305.3 1070.5 1309.6 1076.9 1314.0 1083.3 1318.4 1089.6 1322.7 1095.9 1327.1 1102.1 M1052.5 432.5 1056.3 445.6 1060.0 458.0 1063.6 469.9 1067.2 481.3 1070.7 492.4 1074.3 503.3 1077.9 514.1 1081.6 525.0 1085.4 536.0 1089.4 547.1 1093.5 558.3 1097.7 569.6 1102.0 580.9 1106.3 592.1 1110.6 603.0 1114.8 613.4 1118.8 623.3 1122.7 632.7 1126.6 641.9 1130.5 651.2 1134.6 660.6 1138.8 670.1 1143.2 679.9 1147.7 689.8 1152.3 699.8 1156.9 709.8 1161.6 719.7 1166.3 729.4 1170.8 738.7 1175.3 747.8 1179.7 756.7 1184.1 765.5 1188.5 774.2 1192.9 782.8 1197.4 791.3 1201.8 799.8 1206.3 808.2 1210.8 816.6 1215.3 825.0 1219.9 833.3 1224.5 841.7 1229.2 850.0 1233.7 858.1 1238.2 866.0 1242.5 873.5 1246.7 880.7 1250.8 887.9 1255.1 895.1 1259.4 902.5 1263.9 910.0 1268.5 917.6 1273.0 925.2 1277.6 932.6 1282.1 939.9 1286.6 947.2 1291.1 954.3 1295.5 961.4 1300.0 968.5 1304.5 975.6 1309.1 982.6 1313.6 989.7 1318.2 996.7 1322.8 1003.7 1327.3 1010.5 1331.7 1017.2 1336.1 1023.8 1340.5 1030.2 1344.8 1036.6 1349.1 1043.0 1353.4 1049.3 1357.7 1055.6 1362.1 1061.9 1366.5 1068.2 1370.9 1074.6 1375.4 1080.9 1379.8 1087.2 1384.3 1093.5 1388.8 1099.7 1393.2 1105.9 1397.7 1112.1 M1115.4 457.1 1119.3 469.9 1123.0 482.0 1126.7 493.6 1130.3 504.8 1134.0 515.6 1137.6 526.3 1141.3 536.9 1145.1 547.5 1149.0 558.2 1153.1 569.1 1157.3 580.0 1161.6 591.1 1166.0 602.1 1170.4 613.1 1174.8 623.7 1179.1 633.9 1183.2 643.6 1187.2 652.8 1191.2 661.8 1195.2 670.9 1199.3 680.1 1203.7 689.5 1208.1 699.0 1212.7 708.7 1217.4 718.5 1222.2 728.3 1227.0 738.0 1231.7 747.5 1236.3 756.6 1240.9 765.5 1245.4 774.2 1249.9 782.8 1254.4 791.4 1259.0 799.8 1263.5 808.2 1268.1 816.5 1272.6 824.8 1277.2 833.0 1281.8 841.2 1286.5 849.4 1291.3 857.6 1296.0 865.7 1300.7 873.7 1305.2 881.4 1309.6 888.8 1313.9 895.9 1318.1 902.9 1322.5 910.0 1326.9 917.3 1331.5 924.7 1336.2 932.1 1340.8 939.5 1345.5 946.8 1350.1 954.0 1354.7 961.1 1359.3 968.2 1363.8 975.2 1368.4 982.1 1373.0 989.1 1377.6 996.0 1382.3 1002.9 1387.0 1009.8 1391.7 1016.7 1396.3 1023.4 1400.8 1030.0 1405.3 1036.4 1409.7 1042.8 1414.2 1049.1 1418.6 1055.3 1423.0 1061.5 1427.4 1067.8 1431.8 1074.0 1436.3 1080.2 1440.9 1086.4 1445.4 1092.6 1450.0 1098.8 1454.5 1105.0 1459.1 1111.2 1463.6 1117.3 1468.2 1123.3 M1178.1 484.3 1182.0 496.8 1185.9 508.6 1189.6 519.9 1193.4 530.8 1197.1 541.3 1200.8 551.7 1204.6 562.0 1208.5 572.4 1212.5 582.8 1216.6 593.4 1220.9 604.1 1225.3 614.9 1229.8 625.7 1234.4 636.3 1238.8 646.7 1243.2 656.7 1247.4 666.1 1251.5 675.1 1255.5 683.9 1259.7 692.7 1263.9 701.7 1268.3 710.9 1272.9 720.2 1277.6 729.7 1282.4 739.3 1287.2 748.8 1292.1 758.3 1297.0 767.5 1301.7 776.5 1306.4 785.2 1311.0 793.7 1315.6 802.1 1320.2 810.5 1324.8 818.7 1329.5 826.9 1334.1 835.1 1338.8 843.2 1343.5 851.2 1348.2 859.2 1353.0 867.2 1357.8 875.3 1362.7 883.2 1367.5 891.0 1372.1 898.6 1376.6 905.8 1380.9 912.8 1385.3 919.7 1389.7 926.6 1394.3 933.8 1399.0 941.0 1403.7 948.3 1408.5 955.5 1413.2 962.7 1418.0 969.7 1422.6 976.7 1427.3 983.6 1432.0 990.5 1436.7 997.3 1441.4 1004.1 1446.1 1010.9 1450.9 1017.7 1455.7 1024.4 1460.4 1031.1 1465.1 1037.7 1469.8 1044.2 1474.4 1050.6 1478.9 1056.8 1483.4 1063.0 1487.9 1069.1 1492.4 1075.2 1496.9 1081.3 1501.5 1087.4 1506.0 1093.5 1510.7 1099.6 1515.3 1105.7 1520.0 1111.8 1524.6 1117.9 1529.3 1124.0 1533.9 1130.0 1538.6 1135.9 M1240.5 514.3 1244.6 526.3 1248.5 537.8 1252.4 548.8 1256.2 559.3 1260.0 569.6 1263.8 579.7 1267.6 589.7 1271.6 599.7 1275.7 609.9 1280.0 620.2 1284.3 630.6 1288.8 641.1 1293.5 651.5 1298.1 661.9 1302.7 672.0 1307.2 681.7 1311.4 690.8 1315.6 699.6 1319.8 708.2 1324.0 716.8 1328.3 725.6 1332.8 734.5 1337.5 743.6 1342.3 752.8 1347.2 762.1 1352.2 771.5 1357.2 780.7 1362.1 789.7 1366.9 798.4 1371.7 806.9 1376.4 815.2 1381.1 823.4 1385.8 831.5 1390.6 839.6 1395.3 847.6 1400.1 855.6 1404.8 863.4 1409.6 871.3 1414.5 879.1 1419.3 886.9 1424.3 894.8 1429.2 902.6 1434.1 910.2 1438.9 917.5 1443.4 924.6 1447.9 931.4 1452.3 938.2 1456.8 945.0 1461.5 951.9 1466.3 959.0 1471.2 966.1 1476.0 973.2 1480.9 980.2 1485.7 987.1 1490.5 993.9 1495.2 1000.7 1500.0 1007.4 1504.8 1014.0 1509.6 1020.7 1514.4 1027.3 1519.3 1034.0 1524.2 1040.6 1529.1 1047.2 1533.9 1053.6 1538.6 1060.0 1543.3 1066.2 1547.9 1072.3 1552.5 1078.4 1557.1 1084.4 1561.7 1090.4 1566.3 1096.3 1571.0 1102.3 1575.6 1108.3 1580.4 1114.3 1585.1 1120.3 1589.9 1126.3 1594.6 1132.2 1599.4 1138.1 1604.1 1144.0 1608.8 1149.9 M1302.7 547.0 1306.9 558.7 1310.9 569.8 1314.9 580.4 1318.8 590.6 1322.6 600.5 1326.5 610.3 1330.5 620.0 1334.6 629.7 1338.8 639.6 1343.1 649.5 1347.6 659.6 1352.2 669.7 1356.9 679.9 1361.6 689.9 1366.3 699.7 1370.9 709.1 1375.3 718.0 1379.5 726.5 1383.8 734.8 1388.1 743.2 1392.5 751.7 1397.1 760.4 1401.9 769.2 1406.8 778.2 1411.8 787.2 1416.9 796.2 1422.0 805.2 1427.0 813.9 1432.0 822.4 1436.9 830.7 1441.7 838.8 1446.5 846.7 1451.3 854.6 1456.1 862.5 1461.0 870.3 1465.8 878.0 1470.7 885.7 1475.6 893.3 1480.5 900.9 1485.5 908.5 1490.6 916.2 1495.6 923.8 1500.6 931.2 1505.5 938.3 1510.1 945.2 1514.7 951.9 1519.2 958.5 1523.8 965.1 1528.6 971.9 1533.5 978.8 1538.4 985.7 1543.4 992.6 1548.3 999.5 1553.3 1006.2 1558.1 1012.8 1563.0 1019.4 1567.9 1026.0 1572.8 1032.5 1577.7 1039.0 1582.6 1045.5 1587.6 1051.9 1592.6 1058.4 1597.5 1064.8 1602.5 1071.1 1607.3 1077.3 1612.1 1083.4 1616.8 1089.4 1621.5 1095.3 1626.2 1101.2 1630.9 1107.0 1635.6 1112.9 1640.3 1118.7 1645.1 1124.6 1649.9 1130.4 1654.8 1136.3 1659.6 1142.1 1664.5 1148.0 1669.3 1153.8 1674.2 1159.5 1679.0 1165.2 M1364.7 582.6 1369.0 593.9 1373.1 604.5 1377.1 614.8 1381.1 624.6 1385.1 634.2 1389.1 643.6 1393.1 652.9 1397.3 662.3 1401.6 671.8 1406.0 681.4 1410.6 691.2 1415.3 700.9 1420.1 710.7 1424.9 720.4 1429.8 729.9 1434.4 738.9 1438.9 747.5 1443.3 755.8 1447.6 763.9 1452.0 771.9 1456.5 780.2 1461.2 788.6 1466.1 797.1 1471.1 805.8 1476.2 814.5 1481.4 823.3 1486.6 831.9 1491.8 840.4 1496.8 848.6 1501.8 856.6 1506.7 864.4 1511.6 872.2 1516.6 879.8 1521.5 887.4 1526.5 895.0 1531.4 902.5 1536.4 909.9 1541.4 917.3 1546.4 924.7 1551.5 932.1 1556.7 939.5 1561.8 946.9 1566.9 954.1 1571.9 961.1 1576.6 967.7 1581.3 974.2 1585.9 980.6 1590.6 987.1 1595.5 993.7 1600.5 1000.4 1605.5 1007.1 1610.6 1013.8 1615.7 1020.5 1620.7 1027.0 1625.7 1033.5 1630.6 1039.9 1635.6 1046.3 1640.6 1052.6 1645.6 1058.9 1650.6 1065.2 1655.7 1071.6 1660.8 1077.9 1665.9 1084.1 1670.9 1090.2 1675.8 1096.3 1680.7 1102.2 1685.5 1108.0 1690.3 1113.8 1695.1 1119.5 1699.9 1125.2 1704.7 1130.9 1709.5 1136.6 1714.4 1142.4 1719.3 1148.1 1724.3 1153.8 1729.2 1159.5 1734.2 1165.2 1739.1 1170.9 1744.1 1176.5 1749.0 1182.1" fill="none" stroke="#0a5079" stroke-width="6.5" stroke-linejoin="round"/>
<g>
<line x1="414" y1="62" x2="421" y2="1441" stroke="#9a9a9a" stroke-width="6"/>
<line x1="412" y1="62" x2="419" y2="1441" stroke="#d0d0d0" stroke-width="2.5"/>
<polygon points="416,36 401,66 431,66" fill="#555"/>
<line x1="404" y1="144" x2="429" y2="144" stroke="#666" stroke-width="4"/>
<line x1="404" y1="472" x2="429" y2="472" stroke="#666" stroke-width="4"/>
<line x1="404" y1="797" x2="429" y2="797" stroke="#666" stroke-width="4"/>
<line x1="404" y1="1120" x2="429" y2="1120" stroke="#666" stroke-width="4"/>
<line x1="420" y1="1441" x2="1730" y2="1400" stroke="#a8a8a8" stroke-width="6"/>
<polygon points="1756,1398 1724,1386 1725,1415" fill="#555"/>
<line x1="737.7" y1="1417.1" x2="737.7" y2="1445.1" stroke="#666" stroke-width="4"/>
<line x1="1050" y1="1407.3" x2="1050" y2="1435.3" stroke="#666" stroke-width="4"/>
<line x1="1355.9" y1="1397.7" x2="1355.9" y2="1425.7" stroke="#666" stroke-width="4"/>
<line x1="1657.6" y1="1388.3" x2="1657.6" y2="1416.3" stroke="#666" stroke-width="4"/>
<line x1="374" y1="1410" x2="420" y2="1441" stroke="#e6e6e6" stroke-width="2"/>
<line x1="420" y1="1441" x2="705" y2="1641" stroke="#a0a0a0" stroke-width="5"/>
<polygon points="716,1649 690,1622 680,1640" fill="#555"/>
<line x1="469.8" y1="1458.4" x2="469.8" y2="1480.4" stroke="#707070" stroke-width="3.5"/>
<line x1="520.5" y1="1495.7" x2="520.5" y2="1517.7" stroke="#707070" stroke-width="3.5"/>
<line x1="574.2" y1="1536.0" x2="574.2" y2="1558.0" stroke="#707070" stroke-width="3.5"/>
<line x1="630.9" y1="1577.7" x2="630.9" y2="1599.7" stroke="#707070" stroke-width="3.5"/>
</g>
<g font-family="Liberation Serif, serif" font-weight="bold" fill="#000" lengthAdjust="spacingAndGlyphs">
<text x="85.0" y="166.0" font-size="78.61" textLength="205.6" lengthAdjust="spacingAndGlyphs">22×10</text>
<text x="286.0" y="141.0" font-size="43.76" textLength="43.24" lengthAdjust="spacingAndGlyphs">-6</text>
<text x="27.0" y="491.5" font-size="80.63" textLength="264.33" lengthAdjust="spacingAndGlyphs">16×5·10</text>
<text x="286.0" y="467.5" font-size="45.19" textLength="43.24" lengthAdjust="spacingAndGlyphs">-6</text>
<text x="87.0" y="793.0" font-size="83.27" textLength="204.44" lengthAdjust="spacingAndGlyphs">11×10</text>
<text x="286.0" y="768.0" font-size="44.59" textLength="43.24" lengthAdjust="spacingAndGlyphs">-6</text>
<text x="65.0" y="1114.0" font-size="79.16" textLength="225.59" lengthAdjust="spacingAndGlyphs">5.5×10</text>
<text x="286.0" y="1089.0" font-size="44.91" textLength="43.24" lengthAdjust="spacingAndGlyphs">-6</text>
<text x="284.5" y="1441.0" font-size="82.7" textLength="47.3" lengthAdjust="spacingAndGlyphs">0</text>
<text x="446.0" y="1425.5" font-size="68.52" textLength="38.67" lengthAdjust="spacingAndGlyphs" font-weight="normal" stroke="#000" stroke-width="1.1">0</text>
<text x="492.0" y="120.0" font-size="73.23" textLength="43.04" lengthAdjust="spacingAndGlyphs">g</text>
<text x="532.5" y="115.5" font-size="43.76" textLength="23.56" lengthAdjust="spacingAndGlyphs">0</text>
<text x="577.0" y="111.0" font-size="71.9" textLength="29.39" lengthAdjust="spacingAndGlyphs">(</text>
<text x="603.0" y="115.5" font-size="71.58" textLength="72.98" lengthAdjust="spacingAndGlyphs">m</text>
<text x="672.5" y="111.0" font-size="70.8" textLength="31.39" lengthAdjust="spacingAndGlyphs">)</text>
<text x="814.0" y="322.0" font-size="75.47" textLength="185.15" lengthAdjust="spacingAndGlyphs">PTFE</text>
<text x="1447.0" y="589.0" font-size="82.19" textLength="222.82" lengthAdjust="spacingAndGlyphs">Virgin</text>
<text x="1687.0" y="587.5" font-size="75.18" textLength="180.15" lengthAdjust="spacingAndGlyphs">PTFE</text>
<text x="513.0" y="1350.5" font-size="76.4" textLength="185.15" lengthAdjust="spacingAndGlyphs">PTFE</text>
<text x="714.0" y="1349.5" font-size="73.65" textLength="133.07" lengthAdjust="spacingAndGlyphs">D46</text>
<text x="1762.0" y="1433.0" font-size="82.95" textLength="49.62" lengthAdjust="spacingAndGlyphs">p</text>
<text x="1831.0" y="1425.0" font-size="73.45" textLength="31.24" lengthAdjust="spacingAndGlyphs">(</text>
<text x="1860.0" y="1429.5" font-size="78.32" textLength="115.08" lengthAdjust="spacingAndGlyphs">bar</text>
<text x="1977.0" y="1426.0" font-size="73.45" textLength="29.27" lengthAdjust="spacingAndGlyphs">)</text>
<text x="701.0" y="1505.0" font-size="65.83" textLength="71.61" lengthAdjust="spacingAndGlyphs" font-weight="normal" stroke="#000" stroke-width="1.1">50</text>
<text x="994.0" y="1500.0" font-size="65.21" textLength="109.15" lengthAdjust="spacingAndGlyphs" font-weight="normal" stroke="#000" stroke-width="1.1">100</text>
<text x="1291.0" y="1495.0" font-size="67.01" textLength="106.72" lengthAdjust="spacingAndGlyphs" font-weight="normal" stroke="#000" stroke-width="1.1">150</text>
<text x="1604.0" y="1484.5" font-size="66.38" textLength="106.33" lengthAdjust="spacingAndGlyphs" font-weight="normal" stroke="#000" stroke-width="1.1">200</text>
<text x="331.0" y="1526.0" font-size="65.79" textLength="105.26" lengthAdjust="spacingAndGlyphs" font-weight="normal" stroke="#000" stroke-width="1.1">300</text>
<text x="450.0" y="1595.5" font-size="65.79" textLength="105.96" lengthAdjust="spacingAndGlyphs" font-weight="normal" stroke="#000" stroke-width="1.1">320</text>
<text x="566.5" y="1680.5" font-size="65.79" textLength="103.98" lengthAdjust="spacingAndGlyphs" font-weight="normal" stroke="#000" stroke-width="1.1">340</text>
<text x="708.5" y="1632.0" font-size="85.2" textLength="55.92" lengthAdjust="spacingAndGlyphs">T</text>
<text x="781.5" y="1626.0" font-size="69.51" textLength="31.47" lengthAdjust="spacingAndGlyphs">(</text>
<text x="809.5" y="1632.0" font-size="82.13" textLength="62.04" lengthAdjust="spacingAndGlyphs">K</text>
<text x="870.0" y="1626.0" font-size="69.51" textLength="29.27" lengthAdjust="spacingAndGlyphs">)</text>
</g>
</svg>
</body></html>
